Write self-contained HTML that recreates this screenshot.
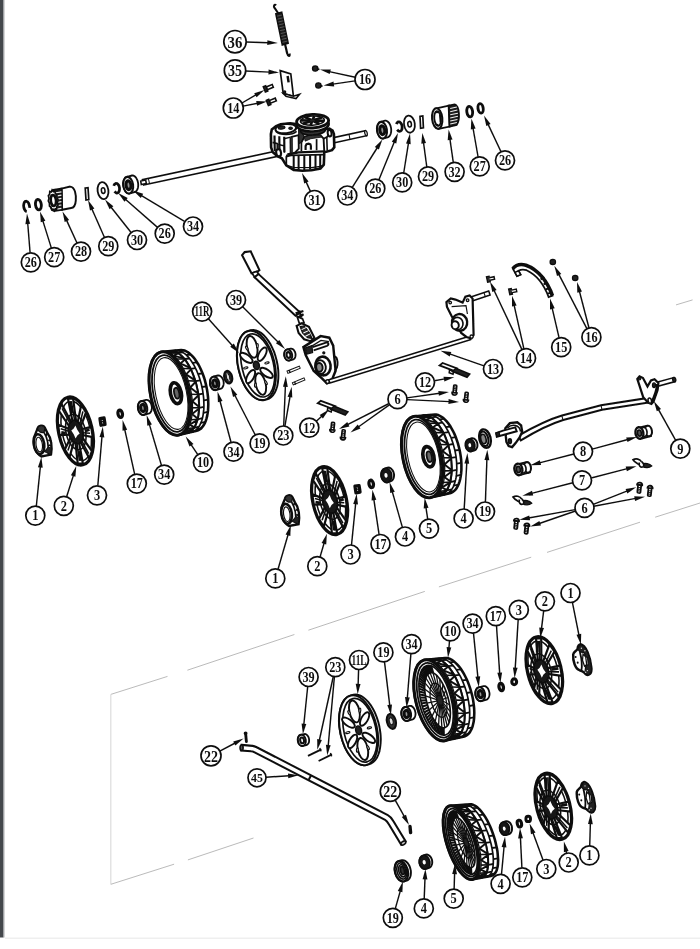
<!DOCTYPE html>
<html><head><meta charset="utf-8"><title>Exploded view - drive and wheels</title>
<style>
html,body{margin:0;padding:0;background:#fff;}
body{width:700px;height:949px;overflow:hidden;position:relative;font-family:"Liberation Serif",serif;}
svg{position:absolute;left:0;top:0;display:block;}
svg text{font-family:"Liberation Serif",serif;fill:#111;}
</style></head><body>
<svg width="700" height="949" viewBox="0 0 700 949">
<rect x="0" y="0" width="700" height="949" fill="#fff"/>
<rect x="0" y="0" width="3.6" height="937.5" fill="#44484c"/>
<rect x="3.6" y="0" width="1" height="937.5" fill="#b9bbbd"/>
<rect x="5" y="937.6" width="695" height="1.2" fill="#ececec"/>
<line x1="110.8" y1="694.4" x2="167.5" y2="676.4" stroke="#b4b4b4" stroke-width="0.92"/>
<line x1="187.4" y1="670.2" x2="294.4" y2="634.5" stroke="#b4b4b4" stroke-width="0.92"/>
<line x1="308.4" y1="630.2" x2="424.8" y2="591.4" stroke="#b4b4b4" stroke-width="0.92"/>
<line x1="438.9" y1="586.9" x2="531.2" y2="557.2" stroke="#b4b4b4" stroke-width="0.92"/>
<line x1="547" y1="552.4" x2="640" y2="522.2" stroke="#b4b4b4" stroke-width="0.92"/>
<line x1="655.2" y1="517.2" x2="700" y2="503" stroke="#b4b4b4" stroke-width="0.92"/>
<line x1="110.8" y1="694.4" x2="110.8" y2="884.3" stroke="#dedede" stroke-width="1.26"/>
<line x1="110.8" y1="884.3" x2="174.1" y2="864.2" stroke="#b4b4b4" stroke-width="0.92"/>
<line x1="187.9" y1="859.9" x2="253.5" y2="838" stroke="#b4b4b4" stroke-width="0.92"/>
<line x1="676" y1="304.9" x2="692.6" y2="299.9" stroke="#b4b4b4" stroke-width="0.92"/>
<defs><filter id="soft" x="0" y="0" width="700" height="949" filterUnits="userSpaceOnUse"><feGaussianBlur stdDeviation="0.4"/></filter></defs>
<g filter="url(#soft)">
<path d="M276.2 5.2 C274.2 3.6 273.2 6.4 274.6 8 L278.4 13.5" fill="none" stroke="#111" stroke-width="2.08"/>
<path d="M276 13.8 L281.6 12.4 L288 43.2 L282.4 44.8 Z" fill="#1c1c1c" stroke="#111" stroke-width="1.82"/>
<line x1="277" y1="16.2" x2="282" y2="15" stroke="#888" stroke-width="0.52"/>
<line x1="277.6" y1="19.1" x2="282.6" y2="17.9" stroke="#888" stroke-width="0.52"/>
<line x1="278.2" y1="22" x2="283.2" y2="20.8" stroke="#888" stroke-width="0.52"/>
<line x1="278.8" y1="24.9" x2="283.8" y2="23.7" stroke="#888" stroke-width="0.52"/>
<line x1="279.4" y1="27.8" x2="284.4" y2="26.6" stroke="#888" stroke-width="0.52"/>
<line x1="280" y1="30.7" x2="285" y2="29.5" stroke="#888" stroke-width="0.52"/>
<line x1="280.6" y1="33.6" x2="285.6" y2="32.4" stroke="#888" stroke-width="0.52"/>
<line x1="281.2" y1="36.5" x2="286.2" y2="35.3" stroke="#888" stroke-width="0.52"/>
<line x1="281.8" y1="39.4" x2="286.8" y2="38.2" stroke="#888" stroke-width="0.52"/>
<line x1="282.4" y1="42.3" x2="287.4" y2="41.1" stroke="#888" stroke-width="0.52"/>
<path d="M285 44 L287.2 53.4 C287.8 56.4 290.4 56.8 289.4 53.6" fill="none" stroke="#111" stroke-width="2.21"/>
<path d="M280.2 70.6 L290.8 74 L293.4 96.2 L283.2 93.4 Z" fill="#fff" stroke="#111" stroke-width="1.69"/>
<path d="M283.2 93.4 L293.4 96.2 L299.6 94.2 L296 98.6 L286 96.4 Z" fill="#fff" stroke="#111" stroke-width="1.56"/>
<path d="M287.6 76 L288.6 82.4" fill="none" stroke="#111" stroke-width="2.47"/>
<ellipse cx="284.6" cy="92" rx="1.1" ry="1.1" fill="#111" stroke="#111" stroke-width="1.3"/>
<g transform="translate(268.6 87.6) rotate(-22)">
<path d="M4.5 -1.5 L-2 -1.5 L-2 1.5 L4.5 1.5 Z" fill="#fff" stroke="#111" stroke-width="1.56"/>
<path d="M-2 -2.8 L-4.6 -2.8 L-4.6 2.8 L-2 2.8 Z" fill="#222" stroke="#111" stroke-width="1.56"/>
</g>
<g transform="translate(271.6 101.2) rotate(-22)">
<path d="M4.5 -1.5 L-2 -1.5 L-2 1.5 L4.5 1.5 Z" fill="#fff" stroke="#111" stroke-width="1.56"/>
<path d="M-2 -2.8 L-4.6 -2.8 L-4.6 2.8 L-2 2.8 Z" fill="#222" stroke="#111" stroke-width="1.56"/>
</g>
<ellipse cx="315.2" cy="68.6" rx="2.7" ry="2.6" fill="#222" stroke="#111" stroke-width="1.3"/>
<line x1="316.7" y1="68.8" x2="319.4" y2="69.5" stroke="#111" stroke-width="1.69"/>
<ellipse cx="318.4" cy="85.4" rx="2.7" ry="2.6" fill="#222" stroke="#111" stroke-width="1.3"/>
<line x1="319.9" y1="85.6" x2="322.6" y2="86.3" stroke="#111" stroke-width="1.69"/>
<path d="M143.6 185.1 L283.6 155.1 L282.4 149.7 L142.4 179.7 Z" fill="#fff" stroke="#111" stroke-width="1.56"/>
<path d="M141.3 184.5 L146.3 183.5 L145.7 180.1 L140.7 181.1 Z" fill="#fff" stroke="#111" stroke-width="1.56"/>
<line x1="148.5" y1="179" x2="149.5" y2="183.6" stroke="#111" stroke-width="1.04"/>
<path d="M334.6 142.7 L366.6 135.7 L365.4 130.7 L333.4 137.7 Z" fill="#fff" stroke="#111" stroke-width="1.56"/>
<line x1="349" y1="134.4" x2="350" y2="139.4" stroke="#111" stroke-width="1.04"/>
<ellipse cx="366" cy="133.2" rx="1.2" ry="2.6" fill="#fff" stroke="#111" stroke-width="1.3" transform="rotate(-12 366 133.2)"/>
<path d="M270.9 133.9 L271.8 129.4 L276.1 126.2 L280.6 124.3 L290.2 123.4 L297.3 124.3 L298.6 126.9 L302.4 132.6 L321.7 130.7 L324.9 129.2 L329.4 128.5 L332.6 130.7 L333.9 133.9 L334.3 147.4 L332 150.2 L324.3 152.3 L323.8 164.8 L320.4 168.6 L311.4 170.3 L302.4 170.8 L293.7 169.9 L286.3 165.4 L281.9 158.3 L277.4 156.2 L272.6 151.9 L271.1 147.4 Z" fill="#fff" stroke="#111" stroke-width="2.61"/>
<ellipse cx="285.8" cy="128.6" rx="10.4" ry="4.6" fill="#fff" stroke="#111" stroke-width="2.03" transform="rotate(-6 285.8 128.6)"/>
<ellipse cx="281.6" cy="127.6" rx="3.4" ry="1.5" fill="#222" stroke="#111" stroke-width="1.16" transform="rotate(-8 281.6 127.6)"/>
<ellipse cx="290.6" cy="128.2" rx="1.8" ry="1.2" fill="#222" stroke="#111" stroke-width="1.16"/>
<path d="M276 131.4 C280 135.6 292 135.4 296.6 131.4" fill="none" stroke="#111" stroke-width="1.59"/>
<line x1="274.5" y1="135.6" x2="274.8" y2="151.3" stroke="#111" stroke-width="2.17"/>
<line x1="279.3" y1="136.2" x2="279.5" y2="151.7" stroke="#111" stroke-width="2.17"/>
<line x1="284.2" y1="136.7" x2="284.4" y2="152.2" stroke="#111" stroke-width="2.17"/>
<line x1="290.6" y1="137.5" x2="290.8" y2="152.9" stroke="#111" stroke-width="2.17"/>
<path d="M272.6 142.3 L277.4 143.6 L277.4 156.2" fill="none" stroke="#111" stroke-width="1.74"/>
<path d="M290.6 137.1 L298.6 135.2 L302.4 132.6" fill="none" stroke="#111" stroke-width="1.74"/>
<path d="M298.6 135.2 L298.8 148.7 L294.7 152.8 L287.6 154.5" fill="none" stroke="#111" stroke-width="1.89"/>
<path d="M284.2 138.7 L290.6 137.1" fill="none" stroke="#111" stroke-width="1.45"/>
<path d="M279.3 144.8 L284.2 145.9 L284.4 152.8" fill="none" stroke="#111" stroke-width="1.45"/>
<path d="M298.6 127.9 L302.4 133 L304.3 137.1 L301.4 142.3 L299.1 143.6 L298.8 135.8 Z" fill="#333" stroke="#111" stroke-width="1.16"/>
<path d="M304.3 137.1 L310.8 134.8 L320.4 135.2 L323.6 138.7 L324.3 152.3" fill="none" stroke="#111" stroke-width="1.89"/>
<path d="M301.4 142.3 L304.3 137.1" fill="none" stroke="#111" stroke-width="1.74"/>
<path d="M305.6 150 L305.6 145.9 L306.5 144.2 L308.6 143.6 L310.4 144.3 L310.9 146.1 L310.9 149.7" fill="none" stroke="#111" stroke-width="2.17"/>
<path d="M316.6 139.1 L316.6 150.2" fill="none" stroke="#111" stroke-width="1.74"/>
<path d="M301.4 142.3 L301.4 151.3" fill="none" stroke="#111" stroke-width="1.74"/>
<path d="M323.6 138.7 L326.8 137.1 L332.6 130.7" fill="none" stroke="#111" stroke-width="1.74"/>
<path d="M326.8 137.1 L327.2 150.6" fill="none" stroke="#111" stroke-width="1.59"/>
<ellipse cx="329.6" cy="133.2" rx="1.9" ry="3.3" fill="#fff" stroke="#111" stroke-width="2.03" transform="rotate(-8 329.6 133.2)"/>
<path d="M287.6 154.5 L298.6 152.3 L324.3 151.3" fill="none" stroke="#111" stroke-width="2.32"/>
<path d="M286.3 156.7 L290.8 155.4 L323.8 154.6" fill="none" stroke="#111" stroke-width="1.89"/>
<path d="M287.6 154.5 L286.3 156.7 L286.3 165.4" fill="none" stroke="#111" stroke-width="1.74"/>
<line x1="293.7" y1="155.4" x2="293.7" y2="169.4" stroke="#111" stroke-width="2.03"/>
<line x1="298.6" y1="155.3" x2="298.6" y2="169.7" stroke="#111" stroke-width="2.03"/>
<line x1="304.3" y1="155.2" x2="304.3" y2="170" stroke="#111" stroke-width="2.03"/>
<line x1="310.1" y1="155.1" x2="310.1" y2="169.7" stroke="#111" stroke-width="2.03"/>
<line x1="315.5" y1="154.9" x2="315.5" y2="169.4" stroke="#111" stroke-width="2.03"/>
<line x1="320.2" y1="154.9" x2="320.2" y2="169.1" stroke="#111" stroke-width="2.03"/>
<path d="M286.3 165.4 L293.7 167.3 L311.4 167.7 L320.4 166.4 L323.8 164.8" fill="none" stroke="#111" stroke-width="1.3"/>
<path d="M277.4 143.6 L279.3 145.1 L279.5 155.4 L277.4 156.2 Z" fill="#333" stroke="#111" stroke-width="0.87"/>
<path d="M290.6 137.8 L292.4 137.4 L292.6 152.3 L290.8 153.1 Z" fill="#333" stroke="#111" stroke-width="0.72"/>
<path d="M304.3 137.1 L310.8 134.8 L320.4 135.2 L321.7 137.1 L310.8 138.7 L305.2 141.2 Z" fill="#333" stroke="#111" stroke-width="0.87"/>
<ellipse cx="278.6" cy="152.8" rx="2.4" ry="3.6" fill="#fff" stroke="#111" stroke-width="2.17" transform="rotate(-10 278.6 152.8)"/>
<ellipse cx="312.8" cy="130.2" rx="12.6" ry="4.8" fill="#333" stroke="#111" stroke-width="1.74" transform="rotate(-3 312.8 130.2)"/>
<ellipse cx="312.8" cy="124.6" rx="16" ry="6.8" fill="#fff" stroke="#111" stroke-width="2.46" transform="rotate(-3 312.8 124.6)"/>
<ellipse cx="312.6" cy="121.2" rx="16" ry="6.8" fill="#fff" stroke="#111" stroke-width="2.9" transform="rotate(-3 312.6 121.2)"/>
<ellipse cx="312.4" cy="120.6" rx="12" ry="4.6" fill="#fff" stroke="#111" stroke-width="1.45" transform="rotate(-3 312.4 120.6)"/>
<line x1="315.4" y1="120.7" x2="324.2" y2="120.8" stroke="#111" stroke-width="2.75"/>
<line x1="314.2" y1="121.5" x2="319.5" y2="124" stroke="#111" stroke-width="2.75"/>
<line x1="311.9" y1="121.8" x2="310.6" y2="125.2" stroke="#111" stroke-width="2.75"/>
<line x1="310" y1="121.4" x2="302.7" y2="123.7" stroke="#111" stroke-width="2.75"/>
<line x1="309.4" y1="120.5" x2="300.6" y2="120.4" stroke="#111" stroke-width="2.75"/>
<line x1="310.6" y1="119.7" x2="305.3" y2="117.2" stroke="#111" stroke-width="2.75"/>
<line x1="312.9" y1="119.4" x2="314.2" y2="116" stroke="#111" stroke-width="2.75"/>
<line x1="314.8" y1="119.8" x2="322.1" y2="117.5" stroke="#111" stroke-width="2.75"/>
<ellipse cx="312.4" cy="120.6" rx="3.2" ry="1.4" fill="#222" stroke="#111" stroke-width="1.16" transform="rotate(-3 312.4 120.6)"/>
<path d="M123.2 184.4 L123.2 183 L123.4 181.6 L123.7 180.4 L124.2 179.3 L124.8 178.3 L125.4 177.6 L126.2 177.1 L127 176.9 L132 175.5 L132.9 175.5 L133.8 175.8 L134.6 176.3 L135.4 177 L136.2 177.9 L136.8 179.1 L137.4 180.3 L137.8 181.7 L138.1 183.1 L138.2 184.6 L138.2 186 L138 187.4 L137.7 188.6 L137.2 189.7 L136.6 190.7 L136 191.4 L135.2 191.9 L134.4 192.1 L129.4 193.5 L128.5 193.5 L127.6 193.2 L126.8 192.7 L126 192 L125.2 191.1 L124.6 189.9 L124 188.7 L123.6 187.3 L123.3 185.9 Z" fill="#fff" stroke="#111" stroke-width="1.82"/>
<ellipse cx="128.2" cy="185.2" rx="4.9" ry="8.4" fill="#fff" stroke="#111" stroke-width="2.08" transform="rotate(-8 128.2 185.2)"/>
<ellipse cx="128.5" cy="185.2" rx="2.5" ry="4.4" fill="#999" stroke="#111" stroke-width="3.12" transform="rotate(-8 128.5 185.2)"/>
<path d="M113.9 185.8 L114.1 185.1 L114.4 184.6 L114.7 184.1 L115.2 183.8 L115.6 183.5 L116.1 183.4 L116.6 183.5 L117.1 183.6 L117.6 184 L118 184.4 L118.4 184.9 L118.8 185.5 L119.1 186.2 L119.3 187 L119.5 187.8 L119.5 188.6 L119.5 189.4 L119.4 190.2 L119.3 190.9 L119 191.5 L118.7 192 L118.3 192.4 L117.9 192.7 L117.4 192.9 L116.9 193 L116.4 192.9 L115.9 192.6 L115.5 192.3 L115 191.8 L114.6 191.3" fill="none" stroke="#111" stroke-width="2.73"/>
<ellipse cx="103" cy="190.6" rx="5.4" ry="8.6" fill="#fff" stroke="#111" stroke-width="1.82" transform="rotate(-8 103 190.6)"/>
<ellipse cx="103.2" cy="190.6" rx="1.8" ry="2.8" fill="#fff" stroke="#111" stroke-width="1.56" transform="rotate(-8 103.2 190.6)"/>
<path d="M85.2 188 L88 187.6 L88.8 199.6 L86 200 Z" fill="#fff" stroke="#111" stroke-width="1.69"/>
<g transform="translate(62.6 198.6) scale(1 1)">
<path d="M-1 -10 L7.5 -12 C12.5 -11.6 13.6 -4 13.2 2 C12.8 7 10.5 9.3 8.5 9.4 L-0.5 11.2 Z" fill="#fff" stroke="#111" stroke-width="1.95"/>
<path d="M-9.5 -8.6 L-1 -10 L-0.5 11.2 L-8.5 12.4 C-14 10 -15 -4 -9.5 -8.6 Z" fill="#1c1c1c" stroke="#111" stroke-width="1.82"/>
<line x1="-8" y1="-5.6" x2="-1.2" y2="-6.8" stroke="#eee" stroke-width="1.17"/>
<line x1="-8" y1="-2.3" x2="-1.2" y2="-3.5" stroke="#eee" stroke-width="1.17"/>
<line x1="-8" y1="1" x2="-1.2" y2="-0.2" stroke="#eee" stroke-width="1.17"/>
<line x1="-8" y1="4.3" x2="-1.2" y2="3.1" stroke="#eee" stroke-width="1.17"/>
<line x1="-8" y1="7.6" x2="-1.2" y2="6.4" stroke="#eee" stroke-width="1.17"/>
<line x1="-8" y1="10.9" x2="-1.2" y2="9.7" stroke="#eee" stroke-width="1.17"/>
<path d="M-4.5 1.3 L-5.2 3.7 L-4.6 6.6 L-5.8 7.8 L-6 10.7 L-7.4 10.2 L-8.3 12.3 L-9.6 10.5 L-10.9 11.2 L-11.6 8.4 L-13.1 7.5 L-13.1 4.5 L-14.3 2.3 L-13.6 -0.1 L-14.2 -3 L-13 -4.2 L-12.8 -7.1 L-11.4 -6.6 L-10.5 -8.7 L-9.2 -6.9 L-7.9 -7.6 L-7.2 -4.8 L-5.7 -3.9 L-5.7 -0.9 Z" fill="#fff" stroke="#111" stroke-width="1.69"/>
<ellipse cx="-9.2" cy="1.9" rx="2.6" ry="5.4" fill="#fff" stroke="#111" stroke-width="2.6" transform="rotate(-6 -9.2 1.9)"/>
</g>
<ellipse cx="38.4" cy="204.6" rx="2.9" ry="5.3" fill="#fff" stroke="#111" stroke-width="2.86" transform="rotate(-8 38.4 204.6)"/>
<path d="M26.8 211.5 L26.3 211.4 L25.9 211.1 L25.4 210.7 L25 210.2 L24.6 209.6 L24.3 208.9 L24 208.1 L23.8 207.3 L23.7 206.4 L23.6 205.6 L23.7 204.8 L23.8 204 L24 203.3 L24.2 202.7 L24.5 202.1 L24.9 201.7 L25.3 201.4 L25.8 201.3 L26.2 201.2 L26.7 201.4 L27.2 201.6 L27.7 202 L28.1 202.5 L28.5 203 L28.8 203.7 L29.1 204.5 L29.3 205.3 L29.5 206.1 L29.6 207 L29.5 207.8" fill="none" stroke="#111" stroke-width="2.73"/>
<path d="M377 129.4 L377 128 L377.2 126.6 L377.5 125.4 L378 124.3 L378.6 123.3 L379.2 122.6 L380 122.1 L380.8 121.9 L385 120.7 L385.9 120.7 L386.8 121 L387.6 121.5 L388.4 122.2 L389.2 123.1 L389.8 124.2 L390.4 125.5 L390.8 126.9 L391.1 128.3 L391.2 129.8 L391.2 131.2 L391 132.6 L390.7 133.8 L390.2 134.9 L389.6 135.9 L389 136.6 L388.2 137.1 L387.4 137.3 L383.2 138.5 L382.3 138.5 L381.4 138.2 L380.6 137.7 L379.8 137 L379 136.1 L378.4 134.9 L377.8 133.7 L377.4 132.3 L377.1 130.9 Z" fill="#fff" stroke="#111" stroke-width="1.82"/>
<ellipse cx="382" cy="130.2" rx="4.9" ry="8.4" fill="#fff" stroke="#111" stroke-width="2.08" transform="rotate(-8 382 130.2)"/>
<ellipse cx="382.3" cy="130.2" rx="2.5" ry="4.4" fill="#999" stroke="#111" stroke-width="3.12" transform="rotate(-8 382.3 130.2)"/>
<path d="M396.5 124.2 L396.7 123.5 L397 123 L397.3 122.5 L397.8 122.2 L398.2 121.9 L398.7 121.8 L399.2 121.9 L399.7 122 L400.2 122.4 L400.6 122.8 L401 123.3 L401.4 123.9 L401.7 124.6 L401.9 125.4 L402.1 126.2 L402.1 127 L402.1 127.8 L402 128.6 L401.9 129.3 L401.6 129.9 L401.3 130.4 L400.9 130.8 L400.5 131.1 L400 131.3 L399.5 131.4 L399 131.3 L398.5 131 L398.1 130.7 L397.6 130.2 L397.2 129.7" fill="none" stroke="#111" stroke-width="2.73"/>
<ellipse cx="409.4" cy="124.2" rx="5.4" ry="8.6" fill="#fff" stroke="#111" stroke-width="1.82" transform="rotate(-8 409.4 124.2)"/>
<ellipse cx="409.6" cy="124.2" rx="1.8" ry="2.8" fill="#fff" stroke="#111" stroke-width="1.56" transform="rotate(-8 409.6 124.2)"/>
<path d="M420 116.4 L422.8 116 L423.4 127.8 L420.6 128.2 Z" fill="#fff" stroke="#111" stroke-width="1.69"/>
<path d="M436.4 108.4 L449 105.6 L449.6 126.6 L438.4 128.8 Z" fill="#fff" stroke="#111" stroke-width="1.82"/>
<path d="M448.6 105.6 L454.6 104.4 C459.6 106 460.4 120 456.6 125 L449.6 126.6 Z" fill="#1c1c1c" stroke="#111" stroke-width="1.82"/>
<line x1="450.2" y1="108.6" x2="456.9" y2="107" stroke="#eee" stroke-width="1.04"/>
<line x1="450.2" y1="111.7" x2="457.4" y2="110.1" stroke="#eee" stroke-width="1.04"/>
<line x1="450.2" y1="114.8" x2="457.9" y2="113.2" stroke="#eee" stroke-width="1.04"/>
<line x1="450.2" y1="117.9" x2="457.9" y2="116.3" stroke="#eee" stroke-width="1.04"/>
<line x1="450.2" y1="121" x2="457.4" y2="119.4" stroke="#eee" stroke-width="1.04"/>
<line x1="450.2" y1="124.1" x2="456.9" y2="122.5" stroke="#eee" stroke-width="1.04"/>
<ellipse cx="437.2" cy="118.5" rx="5.1" ry="10.3" fill="#fff" stroke="#111" stroke-width="2.08" transform="rotate(-6 437.2 118.5)"/>
<ellipse cx="437.6" cy="118.6" rx="3.3" ry="7.4" fill="#fff" stroke="#111" stroke-width="1.82" transform="rotate(-6 437.6 118.6)"/>
<path d="M436 112.4 L438.6 112.2 M435.4 124.6 L438.4 124.8 M439.8 115 L440.4 122" fill="none" stroke="#111" stroke-width="1.56"/>
<ellipse cx="469.7" cy="111.6" rx="2.9" ry="5.3" fill="#fff" stroke="#111" stroke-width="2.86" transform="rotate(-8 469.7 111.6)"/>
<ellipse cx="480.6" cy="108.4" rx="2.6" ry="4.8" fill="#fff" stroke="#111" stroke-width="2.86" transform="rotate(-8 480.6 108.4)"/>
<g transform="translate(42.4 441) scale(1 1)">
<path d="M-5 -12 C-4 -16 1 -16.4 2.6 -13 L5 -8 C9 -3 10 6 8.6 13.6 L-1 15.4 C-7 12 -9.6 4 -8.6 -3 Z" fill="#fff" stroke="#111" stroke-width="2.34"/>
<path d="M-5 -12 C-4 -16 1 -16.4 2.6 -13 L1.6 -8.6 C-1 -8 -3.4 -9 -5 -12 Z" fill="#333" stroke="#111" stroke-width="1.3"/>
<ellipse cx="-3.4" cy="3.2" rx="5.2" ry="10" fill="#fff" stroke="#111" stroke-width="2.6" transform="rotate(-8 -3.4 3.2)"/>
<ellipse cx="-3.2" cy="3.6" rx="3.2" ry="7.4" fill="none" stroke="#111" stroke-width="1.17" transform="rotate(-8 -3.2 3.6)"/>
<path d="M1.6 -8.6 C5 -3 6.4 5 5.4 12 M5 -8 L3.4 -5 M8.6 13.6 L5.4 12 M6 -1 L9 0 M6.4 4 L9.4 5.2 M6 8 L9.2 9.6" fill="none" stroke="#111" stroke-width="1.69"/>
<path d="M2 10.6 L8.4 13.6 L9 7 L6 6 Z" fill="#222" stroke="#111" stroke-width="1.04"/>
</g>
<ellipse cx="75.4" cy="431" rx="16.8" ry="34.6" fill="#fff" stroke="#111" stroke-width="3.25" transform="rotate(-12.5 75.4 431)"/>
<ellipse cx="76.2" cy="431" rx="14.1" ry="30.4" fill="none" stroke="#111" stroke-width="1.56" transform="rotate(-12.5 76.2 431)"/>
<g stroke="#111" fill="none" stroke-linejoin="round">
<path d="M81.3 429.3 L91.2 426.9 L92.7 437.2 L82.1 435 Z" fill="#fff" stroke="#111" stroke-width="2.21"/>
<line x1="82.7" y1="432.8" x2="90.1" y2="433.2" stroke="#111" stroke-width="1.56"/>
<line x1="85.8" y1="430.8" x2="89.5" y2="429.5" stroke="#111" stroke-width="2.86"/>
<path d="M81.9 437 L91.9 451.2 L89.3 458.3 L80 441 Z" fill="#fff" stroke="#111" stroke-width="2.21"/>
<line x1="81.6" y1="440.7" x2="88.7" y2="453.6" stroke="#111" stroke-width="1.56"/>
<path d="M78.9 441.8 L82.9 463.7 L77.7 463.4 L75.4 441.8 Z" fill="#fff" stroke="#111" stroke-width="2.21"/>
<line x1="77" y1="443.6" x2="79.5" y2="460.8" stroke="#111" stroke-width="1.56"/>
<line x1="79.5" y1="451" x2="81.3" y2="460.8" stroke="#111" stroke-width="2.86"/>
<path d="M74.1 440.9 L69.6 457 L64.8 449.5 L71.1 436.8 Z" fill="#fff" stroke="#111" stroke-width="2.21"/>
<line x1="71.8" y1="439.6" x2="67.9" y2="450.6" stroke="#111" stroke-width="1.56"/>
<path d="M70.3 434.7 L59.6 435.1 L58.1 424.8 L69.5 429 Z" fill="#fff" stroke="#111" stroke-width="2.21"/>
<line x1="68.9" y1="431.2" x2="60.7" y2="428.8" stroke="#111" stroke-width="1.56"/>
<line x1="65.8" y1="433.2" x2="61.3" y2="432.5" stroke="#111" stroke-width="2.86"/>
<path d="M69.7 427 L58.9 410.8 L61.5 403.7 L71.6 423 Z" fill="#fff" stroke="#111" stroke-width="2.21"/>
<line x1="70" y1="423.3" x2="62.1" y2="408.4" stroke="#111" stroke-width="1.56"/>
<path d="M72.7 422.2 L67.9 398.3 L73.1 398.6 L76.2 422.2 Z" fill="#fff" stroke="#111" stroke-width="2.21"/>
<line x1="74.6" y1="420.4" x2="71.3" y2="401.2" stroke="#111" stroke-width="1.56"/>
<line x1="72.1" y1="413" x2="69.5" y2="401.2" stroke="#111" stroke-width="2.86"/>
<path d="M77.5 423.1 L81.2 405 L86 412.5 L80.5 427.2 Z" fill="#fff" stroke="#111" stroke-width="2.21"/>
<line x1="79.8" y1="424.4" x2="82.9" y2="411.4" stroke="#111" stroke-width="1.56"/>
</g>
<ellipse cx="75.8" cy="432" rx="9.7" ry="18" fill="none" stroke="#111" stroke-width="1.56" transform="rotate(-12.5 75.8 432)"/>
<ellipse cx="75.8" cy="432" rx="7.1" ry="11.8" fill="#151515" stroke="#111" stroke-width="2.08" transform="rotate(-12.5 75.8 432)"/>
<path d="M79.7 433.5 L77.3 435.5 L75.6 438.6 L73.7 434.2 L71.3 430.5 L73.7 428.5 L75.4 425.4 L77.3 429.8 Z" fill="#fff" stroke="none" stroke-width="0.0"/>
<path d="M100 418.6 L104 418 L105 424.4 L101 425.2 Z" fill="#fff" stroke="#111" stroke-width="3.38" stroke-linejoin="round"/>
<line x1="101" y1="421.8" x2="104" y2="421.4" stroke="#111" stroke-width="1.17"/>
<ellipse cx="120.2" cy="413.8" rx="2.2" ry="3.7" fill="#fff" stroke="#111" stroke-width="3.25" transform="rotate(-12 120.2 413.8)"/>
<path d="M137.9 406.4 L138.1 405.2 L138.3 404.2 L138.8 403.2 L139.3 402.4 L139.9 401.8 L140.6 401.4 L141.4 401.1 L146 399.9 L146.8 399.9 L147.6 400.1 L148.4 400.4 L149.2 401 L149.9 401.8 L150.5 402.7 L151 403.7 L151.4 404.8 L151.7 406 L151.9 407.2 L151.9 408.4 L151.7 409.6 L151.4 410.6 L151 411.6 L150.5 412.4 L149.9 413 L149.2 413.4 L148.4 413.7 L143.8 414.9 L143 414.9 L142.2 414.8 L141.4 414.4 L140.6 413.8 L139.9 413 L139.3 412.1 L138.8 411.1 L138.3 410 L138.1 408.8 L137.9 407.6 Z" fill="#fff" stroke="#111" stroke-width="1.82"/>
<ellipse cx="142.6" cy="408" rx="4.6" ry="7" fill="#fff" stroke="#111" stroke-width="2.08" transform="rotate(-10 142.6 408)"/>
<ellipse cx="142.9" cy="408" rx="2.3" ry="3.6" fill="#999" stroke="#111" stroke-width="3.12" transform="rotate(-10 142.9 408)"/>
<path d="M149.1 379.6 L149.1 376.2 L149.4 373 L149.8 369.9 L150.3 367 L151 364.3 L151.8 361.8 L152.8 359.6 L153.9 357.6 L155.2 355.9 L156.5 354.5 L157.9 353.4 L159.5 352.5 L161.1 352 L162.8 351.8 L181.2 350.1 L182.9 350.2 L184.6 350.6 L186.3 351.4 L188.1 352.4 L189.8 353.7 L191.6 355.3 L193.3 357.2 L195 359.3 L196.6 361.7 L198.2 364.2 L199.7 367 L201.1 370 L202.4 373.1 L203.6 376.3 L204.7 379.7 L205.6 383.1 L206.4 386.6 L207.1 390.1 L207.6 393.6 L208 397.1 L208.2 400.6 L208.3 404 L208.2 407.2 L208 410.4 L207.6 413.4 L207.1 416.2 L206.4 418.8 L205.6 421.2 L204.7 423.4 L203.6 425.3 L202.4 427 L201.1 428.4 L199.7 429.4 L198.2 430.2 L196.7 430.7 L178.7 435 L177 435.2 L175.3 435 L173.5 434.6 L171.7 433.8 L169.9 432.8 L168.1 431.4 L166.3 429.8 L164.5 427.9 L162.8 425.7 L161.1 423.2 L159.5 420.6 L158 417.7 L156.5 414.7 L155.2 411.5 L153.9 408.1 L152.8 404.6 L151.9 401.1 L151 397.5 L150.3 393.9 L149.8 390.2 L149.4 386.6 L149.2 383.1 Z" fill="#fff" stroke="#111" stroke-width="2.6"/>
<g stroke="#111" fill="none" stroke-linejoin="round">
<path d="M156.5 356.4 L157.5 355.1 L158.6 354 L159.8 353.2 L161 352.5 L162.3 352 L163.6 351.7 L164.9 351.7 L166.3 351.8 L167.7 352.1 L169.2 352.6 L170.6 353.4 L172.1 354.3 L173.5 355.4 L175 356.7 L176.4 358.2 L177.8 359.8 L179.2 361.6 L180.5 363.6 L181.8 365.7 L183 367.9 L184.2 370.3 L185.3 372.7 L186.4 375.3 L187.4 378 L188.3 380.7 L189.1 383.5 L189.9 386.3 L190.5 389.2 L191.1 392.1 L191.6 395 L192 397.9 L192.2 400.8 L192.4 403.6 L192.5 406.4 L192.5 409.1 L192.3 411.7 L192.1 414.3 L191.8 416.7 L191.4 419 L190.8 421.3 L190.2 423.3 L189.5 425.2 L188.7 427 L187.9 428.6 L186.9 430 L185.9 431.3 L184.8 432.4 L183.6 433.2 L182.4 433.9 L181.2 434.4 L179.8 434.7 L178.5 434.7 L177.1 434.6 L175.7 434.3 L174.3 433.8 L172.8 433" fill="none" stroke="#111" stroke-width="1.3"/>
<path d="M163.6 355.6 L164.6 354.4 L165.7 353.4 L166.8 352.5 L168.1 351.8 L169.3 351.3 L170.6 351.1 L171.9 351 L173.3 351.1 L174.7 351.4 L176.1 352 L177.6 352.7 L179 353.6 L180.4 354.7 L181.8 356 L183.2 357.4 L184.6 359 L186 360.8 L187.3 362.8 L188.6 364.8 L189.8 367 L191 369.4 L192.1 371.8 L193.1 374.4 L194.1 377 L195 379.7 L195.9 382.5 L196.6 385.3 L197.2 388.1 L197.8 391 L198.3 393.8 L198.6 396.7 L198.9 399.5 L199.1 402.3 L199.2 405.1 L199.1 407.8 L199 410.4 L198.8 412.9 L198.5 415.3 L198.1 417.6 L197.5 419.8 L196.9 421.8 L196.2 423.7 L195.5 425.5 L194.6 427.1 L193.7 428.5 L192.6 429.7 L191.6 430.8 L190.4 431.6 L189.2 432.3 L188 432.8 L186.7 433 L185.3 433.1 L184 433 L182.6 432.7 L181.1 432.2 L179.7 431.4" fill="none" stroke="#111" stroke-width="1.82"/>
<path d="M168.6 355.1 L169.7 353.9 L170.7 352.9 L171.9 352 L173.1 351.3 L174.3 350.9 L175.6 350.6 L176.9 350.5 L178.3 350.6 L179.7 351 L181.1 351.5 L182.5 352.2 L183.9 353.1 L185.3 354.2 L186.7 355.4 L188.1 356.9 L189.5 358.5 L190.8 360.3 L192.1 362.2 L193.4 364.2 L194.6 366.4 L195.8 368.8 L196.9 371.2 L197.9 373.7 L198.9 376.3 L199.8 379 L200.6 381.7 L201.4 384.5 L202 387.3 L202.6 390.2 L203 393 L203.4 395.8 L203.7 398.7 L203.8 401.4 L203.9 404.2 L203.9 406.8 L203.8 409.4 L203.5 411.9 L203.2 414.3 L202.8 416.6 L202.3 418.8 L201.7 420.8 L201 422.7 L200.2 424.4 L199.4 426 L198.5 427.4 L197.4 428.6 L196.4 429.6 L195.2 430.5 L194 431.2 L192.8 431.6 L191.5 431.9 L190.2 432 L188.8 431.9 L187.4 431.5 L186 431 L184.6 430.3" fill="none" stroke="#111" stroke-width="1.69"/>
<line x1="165.4" y1="353.6" x2="170.5" y2="353.1" stroke="#111" stroke-width="1.82"/>
<line x1="173.2" y1="351.3" x2="177.8" y2="350.8" stroke="#111" stroke-width="1.82"/>
<path d="M165.7 353.4 L160.6 352.7 L170.9 351 Z" fill="#fff" stroke="#111" stroke-width="1.95"/>
<line x1="163.6" y1="351.7" x2="171.3" y2="351" stroke="#111" stroke-width="1.56"/>
<line x1="171.3" y1="351" x2="176.2" y2="350.5" stroke="#111" stroke-width="1.82"/>
<line x1="179.5" y1="350.9" x2="184.1" y2="350.5" stroke="#111" stroke-width="1.82"/>
<path d="M171.6 351 L166.9 351.9 L177.6 352.7 Z" fill="#fff" stroke="#111" stroke-width="1.95"/>
<line x1="170.3" y1="353.2" x2="177.9" y2="352.9" stroke="#111" stroke-width="1.56"/>
<line x1="177.9" y1="352.9" x2="182.8" y2="352.4" stroke="#111" stroke-width="1.82"/>
<line x1="186.2" y1="355" x2="190.7" y2="354.5" stroke="#111" stroke-width="1.82"/>
<path d="M178.3 353.1 L173.7 355.6 L184.3 358.6 Z" fill="#fff" stroke="#111" stroke-width="1.95"/>
<line x1="177.1" y1="359" x2="184.6" y2="359" stroke="#111" stroke-width="1.56"/>
<line x1="184.6" y1="359" x2="189.5" y2="358.5" stroke="#111" stroke-width="1.82"/>
<line x1="192.6" y1="362.9" x2="197.1" y2="362.4" stroke="#111" stroke-width="1.82"/>
<path d="M185 359.5 L180.4 363.4 L190.4 368.2 Z" fill="#fff" stroke="#111" stroke-width="1.95"/>
<line x1="183.4" y1="368.5" x2="190.7" y2="368.8" stroke="#111" stroke-width="1.56"/>
<line x1="190.7" y1="368.8" x2="195.5" y2="368.2" stroke="#111" stroke-width="1.82"/>
<line x1="198.1" y1="374" x2="202.5" y2="373.4" stroke="#111" stroke-width="1.82"/>
<path d="M191 369.4 L186 374.4 L195.2 380.4 Z" fill="#fff" stroke="#111" stroke-width="1.95"/>
<line x1="188.3" y1="380.8" x2="195.5" y2="381.1" stroke="#111" stroke-width="1.56"/>
<line x1="195.5" y1="381.1" x2="200.2" y2="380.3" stroke="#111" stroke-width="1.82"/>
<line x1="201.9" y1="387" x2="206.3" y2="386.3" stroke="#111" stroke-width="1.82"/>
<path d="M195.7 381.8 L190.2 387.5 L198.3 393.8 Z" fill="#fff" stroke="#111" stroke-width="1.95"/>
<line x1="191.5" y1="394.3" x2="198.4" y2="394.5" stroke="#111" stroke-width="1.56"/>
<line x1="198.4" y1="394.5" x2="203.1" y2="393.7" stroke="#111" stroke-width="1.82"/>
<line x1="203.8" y1="400.4" x2="208.2" y2="399.6" stroke="#111" stroke-width="1.82"/>
<path d="M198.5 395.3 L192.3 401.2 L199.2 407.1 Z" fill="#fff" stroke="#111" stroke-width="1.95"/>
<line x1="192.5" y1="407.8" x2="199.1" y2="407.8" stroke="#111" stroke-width="1.56"/>
<line x1="199.1" y1="407.8" x2="203.9" y2="406.8" stroke="#111" stroke-width="1.82"/>
<line x1="203.4" y1="412.8" x2="207.8" y2="411.9" stroke="#111" stroke-width="1.82"/>
<path d="M199.1 408.4 L192.1 414 L197.8 418.7 Z" fill="#fff" stroke="#111" stroke-width="1.95"/>
<line x1="191.2" y1="419.7" x2="197.7" y2="419.3" stroke="#111" stroke-width="1.56"/>
<line x1="197.7" y1="419.3" x2="202.4" y2="418.2" stroke="#111" stroke-width="1.82"/>
<line x1="200.9" y1="422.9" x2="205.3" y2="421.9" stroke="#111" stroke-width="1.82"/>
<path d="M197.5 419.8 L189.8 424.6 L194.4 427.4 Z" fill="#fff" stroke="#111" stroke-width="1.95"/>
<line x1="187.8" y1="428.6" x2="194.1" y2="427.8" stroke="#111" stroke-width="1.56"/>
<line x1="194.1" y1="427.8" x2="198.9" y2="426.7" stroke="#111" stroke-width="1.82"/>
<line x1="196.5" y1="429.5" x2="201" y2="428.5" stroke="#111" stroke-width="1.82"/>
<path d="M193.9 428.1 L185.5 431.7 L189.2 432.3 Z" fill="#fff" stroke="#111" stroke-width="1.95"/>
<line x1="182.7" y1="433.8" x2="188.9" y2="432.4" stroke="#111" stroke-width="1.56"/>
<line x1="188.9" y1="432.4" x2="193.7" y2="431.3" stroke="#111" stroke-width="1.82"/>
<line x1="190.7" y1="432" x2="195.2" y2="430.9" stroke="#111" stroke-width="1.82"/>
<path d="M188.6 432.6 L179.6 434.7 L182.9 432.8 Z" fill="#fff" stroke="#111" stroke-width="1.95"/>
<line x1="176.4" y1="434.5" x2="182.6" y2="432.7" stroke="#111" stroke-width="1.56"/>
<line x1="182.6" y1="432.7" x2="187.4" y2="431.5" stroke="#111" stroke-width="1.82"/>
<line x1="184.1" y1="430" x2="188.6" y2="428.9" stroke="#111" stroke-width="1.82"/>
<path d="M182.2 432.6 L173 433.1 L176.1 428.8 Z" fill="#fff" stroke="#111" stroke-width="1.95"/>
<line x1="169.5" y1="430.7" x2="175.8" y2="428.5" stroke="#111" stroke-width="1.56"/>
</g>
<ellipse cx="169.9" cy="393.5" rx="19.3" ry="42.4" fill="#fff" stroke="#111" stroke-width="3.12" transform="rotate(-12 169.9 393.5)"/>
<ellipse cx="170.5" cy="393.5" rx="17" ry="39" fill="none" stroke="#111" stroke-width="1.82" transform="rotate(-12 170.5 393.5)"/>
<ellipse cx="171.1" cy="393.5" rx="15.4" ry="36.5" fill="none" stroke="#111" stroke-width="1.04" transform="rotate(-12 171.1 393.5)"/>
<ellipse cx="175.9" cy="393.2" rx="5.4" ry="10.6" fill="#fff" stroke="#111" stroke-width="3.64" transform="rotate(-12 175.9 393.2)"/>
<ellipse cx="176.7" cy="393.2" rx="2.5" ry="5.5" fill="#666" stroke="#111" stroke-width="1.82" transform="rotate(-12 176.7 393.2)"/>
<path d="M209.9 383 L209.9 381.9 L210.1 380.7 L210.4 379.7 L210.8 378.8 L211.3 378 L211.9 377.4 L212.7 376.9 L213.4 376.7 L217.8 375.5 L218.6 375.5 L219.4 375.6 L220.2 376 L221 376.6 L221.7 377.3 L222.3 378.2 L222.8 379.2 L223.3 380.2 L223.5 381.4 L223.7 382.6 L223.7 383.7 L223.5 384.9 L223.2 385.9 L222.8 386.8 L222.3 387.6 L221.7 388.2 L220.9 388.7 L220.2 388.9 L215.8 390.1 L215 390.1 L214.2 390 L213.4 389.6 L212.6 389 L211.9 388.3 L211.3 387.4 L210.8 386.4 L210.3 385.4 L210.1 384.2 Z" fill="#fff" stroke="#111" stroke-width="1.82"/>
<ellipse cx="214.6" cy="383.4" rx="4.6" ry="6.8" fill="#fff" stroke="#111" stroke-width="2.08" transform="rotate(-10 214.6 383.4)"/>
<ellipse cx="214.9" cy="383.4" rx="2.3" ry="3.5" fill="#999" stroke="#111" stroke-width="3.12" transform="rotate(-10 214.9 383.4)"/>
<ellipse cx="228.2" cy="377.2" rx="3.9" ry="6.4" fill="#2a2a2a" stroke="#111" stroke-width="2.08" transform="rotate(-14 228.2 377.2)"/>
<ellipse cx="228" cy="377" rx="1.6" ry="3" fill="#ddd" stroke="#111" stroke-width="1.04" transform="rotate(-14 228 377)"/>
<line x1="226.8" y1="373.4" x2="229.4" y2="381" stroke="#ddd" stroke-width="1.04"/>
<path d="M237 356 L237.1 351.7 L237.5 347.6 L238.2 343.9 L239.3 340.5 L240.6 337.6 L242.3 335.1 L244.1 333.1 L246.2 331.7 L248.4 330.9 L251 330.3 L253.4 330.1 L255.9 330.4 L258.4 331.4 L261 332.9 L263.5 334.9 L265.9 337.5 L268.2 340.6 L270.4 344 L272.3 347.8 L274.1 351.9 L275.5 356.2 L276.7 360.7 L277.6 365.2 L278.2 369.8 L278.4 374.2 L278.3 378.5 L277.9 382.6 L277.2 386.3 L276.1 389.7 L274.8 392.6 L273.1 395.1 L271.3 397.1 L269.2 398.5 L267 399.3 L264.4 399.9 L262 400.1 L259.5 399.8 L257 398.8 L254.4 397.3 L251.9 395.3 L249.5 392.7 L247.2 389.6 L245 386.2 L243.1 382.4 L241.3 378.3 L239.9 374 L238.7 369.5 L237.8 365 L237.2 360.4 Z" fill="#fff" stroke="#111" stroke-width="1.95"/>
<ellipse cx="256.4" cy="365.4" rx="18.2" ry="35.4" fill="#fff" stroke="#111" stroke-width="2.08" transform="rotate(-13 256.4 365.4)"/>
<ellipse cx="257.7" cy="365.4" rx="15.8" ry="32.2" fill="none" stroke="#111" stroke-width="1.69" transform="rotate(-13 257.7 365.4)"/>
<ellipse cx="266.5" cy="372.9" rx="7.4" ry="3.3" fill="#fff" stroke="#111" stroke-width="1.95" transform="rotate(35.3 266.5 372.9)"/>
<ellipse cx="260.7" cy="384" rx="11.1" ry="5" fill="#fff" stroke="#111" stroke-width="1.95" transform="rotate(77 260.7 384)"/>
<ellipse cx="250.6" cy="376.6" rx="7.4" ry="3.3" fill="#fff" stroke="#111" stroke-width="1.95" transform="rotate(118.7 250.6 376.6)"/>
<ellipse cx="246.3" cy="357.9" rx="7.4" ry="3.3" fill="#fff" stroke="#111" stroke-width="1.95" transform="rotate(-144.7 246.3 357.9)"/>
<ellipse cx="252.1" cy="346.8" rx="11.1" ry="5" fill="#fff" stroke="#111" stroke-width="1.95" transform="rotate(-103 252.1 346.8)"/>
<ellipse cx="262.2" cy="354.2" rx="7.4" ry="3.3" fill="#fff" stroke="#111" stroke-width="1.95" transform="rotate(-61.3 262.2 354.2)"/>
<ellipse cx="267" cy="362.9" rx="2.2" ry="0.9" fill="#fff" stroke="#111" stroke-width="1.17" transform="rotate(-13 267 362.9)"/>
<ellipse cx="266" cy="382.7" rx="2.2" ry="0.9" fill="#fff" stroke="#111" stroke-width="1.17" transform="rotate(60.5 266 382.7)"/>
<ellipse cx="255.4" cy="385.1" rx="2.2" ry="0.9" fill="#fff" stroke="#111" stroke-width="1.17" transform="rotate(93.5 255.4 385.1)"/>
<ellipse cx="245.8" cy="367.9" rx="2.2" ry="0.9" fill="#fff" stroke="#111" stroke-width="1.17" transform="rotate(167 245.8 367.9)"/>
<ellipse cx="246.8" cy="348.1" rx="2.2" ry="0.9" fill="#fff" stroke="#111" stroke-width="1.17" transform="rotate(-119.5 246.8 348.1)"/>
<ellipse cx="257.4" cy="345.7" rx="2.2" ry="0.9" fill="#fff" stroke="#111" stroke-width="1.17" transform="rotate(-86.5 257.4 345.7)"/>
<ellipse cx="256.4" cy="365.4" rx="2.9" ry="4.2" fill="#222" stroke="#111" stroke-width="1.56" transform="rotate(-13 256.4 365.4)"/>
<path d="M284.2 354.7 L284.3 353.8 L284.4 352.8 L284.6 352 L285 351.2 L285.4 350.6 L286 350.1 L286.6 349.7 L287.2 349.5 L290.6 348.7 L291.3 348.6 L292 348.8 L292.7 349.1 L293.3 349.5 L293.9 350.1 L294.4 350.9 L294.9 351.7 L295.2 352.6 L295.4 353.5 L295.6 354.5 L295.5 355.4 L295.4 356.4 L295.2 357.2 L294.8 358 L294.4 358.6 L293.8 359.1 L293.2 359.5 L292.6 359.7 L289.2 360.5 L288.5 360.6 L287.8 360.4 L287.1 360.1 L286.5 359.7 L285.9 359.1 L285.4 358.3 L284.9 357.5 L284.6 356.6 L284.4 355.7 Z" fill="#fff" stroke="#111" stroke-width="1.82"/>
<ellipse cx="288.2" cy="355" rx="3.9" ry="5.6" fill="#fff" stroke="#111" stroke-width="2.08" transform="rotate(-10 288.2 355)"/>
<ellipse cx="288.5" cy="355" rx="1.9" ry="2.9" fill="#fff" stroke="#111" stroke-width="2.08" transform="rotate(-10 288.5 355)"/>
<line x1="287" y1="372.4" x2="300.2" y2="367" stroke="#111" stroke-width="3.38"/>
<line x1="287.8" y1="372.1" x2="299.4" y2="367.3" stroke="#fff" stroke-width="1.3"/>
<line x1="289.2" y1="370.2" x2="290.2" y2="373" stroke="#111" stroke-width="1.3"/>
<line x1="292.4" y1="384" x2="304.9" y2="378.8" stroke="#111" stroke-width="3.38"/>
<line x1="293.2" y1="383.7" x2="304.1" y2="379.1" stroke="#fff" stroke-width="1.3"/>
<line x1="294.6" y1="381.8" x2="295.6" y2="384.6" stroke="#111" stroke-width="1.3"/>
<path d="M242.1 255.2 L244.7 252.1 L250.7 251.3 L259.4 270.1 L257 272 L251.5 273.3 Z" fill="#fff" stroke="#111" stroke-width="2.08"/>
<path d="M252 273 L256.7 271.4 L258.6 274.1 L254.6 277.2 Z" fill="#fff" stroke="#111" stroke-width="1.82"/>
<path d="M258.6 274.1 L300.2 312.6 L295.5 315.7 L254.6 277.2 Z" fill="#fff" stroke="#111" stroke-width="1.95"/>
<path d="M295.6 313.4 L303.4 311 M297 318 L303.6 314.2 M299 310.6 L301.6 317.6" fill="none" stroke="#111" stroke-width="2.21"/>
<path d="M297.1 316.5 L302.6 318.9 L304.1 322.8 L299.4 323.6 Z" fill="#fff" stroke="#111" stroke-width="1.69"/>
<path d="M296.6 325.9 L301.8 323.3 L308.9 326.7 L314.4 337.7 L310.4 341.2 L304.1 339.3 L298.6 333 Z" fill="#fff" stroke="#111" stroke-width="2.08"/>
<path d="M300.2 326.7 L304.1 325.9 L309.6 333 L312 338.5 L307.6 337.7 L302.6 333 Z" fill="#2a2a2a" stroke="#111" stroke-width="1.3"/>
<path d="M301.6 329.6 L306.4 327.4 M303.4 333 L308.6 330.6 M305.4 336.2 L310.6 333.6" fill="none" stroke="#fff" stroke-width="1.04"/>
<path d="M303.4 347.1 L320.6 336.1 L329.3 337.7 L333.2 345.6 L335.6 370.7 L332.4 378.6 L326.9 383.3 L322.2 378.6 L313.6 370.7 L305.7 355 Z" fill="#fff" stroke="#111" stroke-width="2.47"/>
<path d="M304.6 350.6 L321 340.4 L329 341.6 M305.4 354 L309.6 351.6" fill="none" stroke="#111" stroke-width="1.3"/>
<path d="M312.6 347.2 L326 342.6 C328.6 342 329.4 344.8 327 345.8 L313.6 350.4" fill="none" stroke="#111" stroke-width="1.82"/>
<path d="M305.4 347.9 L312 345.6 L312.6 352.6 L306.5 354.2 Z" fill="#222" stroke="#111" stroke-width="1.17"/>
<ellipse cx="323.8" cy="352.8" rx="1" ry="1" fill="#111" stroke="#111" stroke-width="1.3"/>
<ellipse cx="323" cy="366" rx="7.6" ry="9.4" fill="#fff" stroke="#111" stroke-width="2.6" transform="rotate(-8 323 366)"/>
<ellipse cx="320.6" cy="367" rx="5.2" ry="6.8" fill="#fff" stroke="#111" stroke-width="1.95" transform="rotate(-8 320.6 367)"/>
<ellipse cx="319.4" cy="367.4" rx="3.2" ry="4.4" fill="#888" stroke="#111" stroke-width="1.95" transform="rotate(-8 319.4 367.4)"/>
<path d="M333.6 356.2 C338.6 356.4 338.8 367.6 334.6 370.6" fill="none" stroke="#111" stroke-width="1.95"/>
<ellipse cx="327.6" cy="381.6" rx="1.9" ry="1.9" fill="#fff" stroke="#111" stroke-width="1.56"/>
<path d="M329.9 383.1 L470.3 339.7 L469.3 336.3 L328.9 379.7 Z" fill="#fff" stroke="#111" stroke-width="1.56"/>
<path d="M470.7 301.6 L490.1 295 L488.7 291 L469.3 297.6 Z" fill="#fff" stroke="#111" stroke-width="1.56"/>
<line x1="484" y1="292.6" x2="485.4" y2="297" stroke="#111" stroke-width="1.04"/>
<path d="M446.4 302.2 L450.8 298.4 L455.4 299.6 L462.6 302.6 L465.4 296.6 L469.6 295.4 L472.6 298.6 L473.6 335 L471.4 338.4 L466.4 337 L461.2 333 L451.6 316 L447 307 Z" fill="#fff" stroke="#111" stroke-width="2.21"/>
<ellipse cx="450.2" cy="302.6" rx="1.3" ry="1.3" fill="#fff" stroke="#111" stroke-width="1.3"/>
<ellipse cx="467.6" cy="300.2" rx="1.3" ry="1.3" fill="#fff" stroke="#111" stroke-width="1.3"/>
<path d="M451.6 306.6 L466 305.6 L467.4 314" fill="none" stroke="#111" stroke-width="1.17"/>
<ellipse cx="459.6" cy="322.4" rx="7.6" ry="8.4" fill="#fff" stroke="#111" stroke-width="2.34" transform="rotate(-8 459.6 322.4)"/>
<ellipse cx="457.6" cy="323.6" rx="5.4" ry="6.2" fill="#fff" stroke="#111" stroke-width="1.69" transform="rotate(-8 457.6 323.6)"/>
<ellipse cx="455.2" cy="325.2" rx="3.6" ry="4" fill="#fff" stroke="#111" stroke-width="1.95" transform="rotate(-8 455.2 325.2)"/>
<ellipse cx="471.6" cy="336.6" rx="1.6" ry="1.6" fill="#fff" stroke="#111" stroke-width="1.3"/>
<g transform="translate(490.4 278.8) rotate(-102)">
<path d="M-2.8 -3.4 L2.8 -3.4 L2.8 -0.8 L-2.8 -0.8 Z" fill="#333" stroke="#111" stroke-width="1.43"/>
<path d="M-1.3 -0.8 L-1.3 4 L1.3 4 L1.3 -0.8" fill="#fff" stroke="#111" stroke-width="1.43"/>
</g>
<g transform="translate(512.6 291.2) rotate(-102)">
<path d="M-2.8 -3.4 L2.8 -3.4 L2.8 -0.8 L-2.8 -0.8 Z" fill="#333" stroke="#111" stroke-width="1.43"/>
<path d="M-1.3 -0.8 L-1.3 4 L1.3 4 L1.3 -0.8" fill="#fff" stroke="#111" stroke-width="1.43"/>
</g>
<path d="M512.8 268.6 C516 264.6 521 263.8 526 265.2 C538 269.6 547.4 281.4 552.4 295.6 L548.6 297 C544.2 285 536 274.6 526.6 270.2 C523.6 269.2 520.8 269.4 518.6 270.8 L520.6 274.6 L517 276.2 Z" fill="#fff" stroke="#111" stroke-width="1.82"/>
<path d="M512.8 268.6 C516 264.6 521 263.8 526 265.2 C538 269.6 547.4 281.4 552.4 295.6" fill="none" stroke="#111" stroke-width="3.64"/>
<path d="M540.6 279.4 L544.4 277.2 M543.6 284.4 L547.4 282.6 M545.8 289.4 L549.8 288 M547.6 293.6 L551.4 292.6" fill="none" stroke="#111" stroke-width="1.95"/>
<path d="M518.6 270.8 L520.6 274.6 L517 276.2 L515 272.4 Z" fill="#fff" stroke="#111" stroke-width="1.56"/>
<ellipse cx="552.8" cy="262" rx="2.7" ry="2.6" fill="#222" stroke="#111" stroke-width="1.3"/>
<ellipse cx="575.2" cy="278" rx="2.7" ry="2.6" fill="#222" stroke="#111" stroke-width="1.3"/>
<g transform="translate(439.6 364.8)">
<path d="M0 0.6 L3 -1.8 L17.4 3.6 L15 6.4 Z" fill="#fff" stroke="#111" stroke-width="1.82"/>
<path d="M10 5 L14 6.4 L13.4 9.4 L9.6 8 Z" fill="#fff" stroke="#111" stroke-width="1.56"/>
<path d="M13 6.6 L16.4 3.6 L30 9.2 L27.4 12.4 Z" fill="#222" stroke="#111" stroke-width="1.69"/>
</g>
<g transform="translate(317.8 402.6)">
<path d="M0 0.6 L3 -1.8 L17.4 3.6 L15 6.4 Z" fill="#fff" stroke="#111" stroke-width="1.82"/>
<path d="M10 5 L14 6.4 L13.4 9.4 L9.6 8 Z" fill="#fff" stroke="#111" stroke-width="1.56"/>
<path d="M13 6.6 L16.4 3.6 L30 9.2 L27.4 12.4 Z" fill="#222" stroke="#111" stroke-width="1.69"/>
</g>
<g transform="translate(454.8 390.4) rotate(186) scale(1.0)">
<path d="M-1.5 -2.6 L-1.5 4.6 C-1.5 5.6 1.5 5.6 1.5 4.6 L1.5 -2.6 Z" fill="#fff" stroke="#111" stroke-width="1.69"/>
<path d="M-2.5 -2.4 C-2.7 -5.4 2.7 -5.4 2.5 -2.4 Z" fill="#fff" stroke="#111" stroke-width="1.69"/>
<path d="M-1.5 0.2 L1.5 0.2 M-1.5 1.8 L1.5 1.8 M-1.5 3.4 L1.5 3.4" fill="none" stroke="#111" stroke-width="0.91"/>
</g>
<g transform="translate(466.2 397.6) rotate(186) scale(1.0)">
<path d="M-1.5 -2.6 L-1.5 4.6 C-1.5 5.6 1.5 5.6 1.5 4.6 L1.5 -2.6 Z" fill="#fff" stroke="#111" stroke-width="1.69"/>
<path d="M-2.5 -2.4 C-2.7 -5.4 2.7 -5.4 2.5 -2.4 Z" fill="#fff" stroke="#111" stroke-width="1.69"/>
<path d="M-1.5 0.2 L1.5 0.2 M-1.5 1.8 L1.5 1.8 M-1.5 3.4 L1.5 3.4" fill="none" stroke="#111" stroke-width="0.91"/>
</g>
<g transform="translate(332.6 427.6) rotate(186) scale(1.0)">
<path d="M-1.5 -2.6 L-1.5 4.6 C-1.5 5.6 1.5 5.6 1.5 4.6 L1.5 -2.6 Z" fill="#fff" stroke="#111" stroke-width="1.69"/>
<path d="M-2.5 -2.4 C-2.7 -5.4 2.7 -5.4 2.5 -2.4 Z" fill="#fff" stroke="#111" stroke-width="1.69"/>
<path d="M-1.5 0.2 L1.5 0.2 M-1.5 1.8 L1.5 1.8 M-1.5 3.4 L1.5 3.4" fill="none" stroke="#111" stroke-width="0.91"/>
</g>
<g transform="translate(343.2 435.2) rotate(186) scale(1.0)">
<path d="M-1.5 -2.6 L-1.5 4.6 C-1.5 5.6 1.5 5.6 1.5 4.6 L1.5 -2.6 Z" fill="#fff" stroke="#111" stroke-width="1.69"/>
<path d="M-2.5 -2.4 C-2.7 -5.4 2.7 -5.4 2.5 -2.4 Z" fill="#fff" stroke="#111" stroke-width="1.69"/>
<path d="M-1.5 0.2 L1.5 0.2 M-1.5 1.8 L1.5 1.8 M-1.5 3.4 L1.5 3.4" fill="none" stroke="#111" stroke-width="0.91"/>
</g>
<g transform="translate(290 510.6) scale(1 1)">
<path d="M-5 -12 C-4 -16 1 -16.4 2.6 -13 L5 -8 C9 -3 10 6 8.6 13.6 L-1 15.4 C-7 12 -9.6 4 -8.6 -3 Z" fill="#fff" stroke="#111" stroke-width="2.34"/>
<path d="M-5 -12 C-4 -16 1 -16.4 2.6 -13 L1.6 -8.6 C-1 -8 -3.4 -9 -5 -12 Z" fill="#333" stroke="#111" stroke-width="1.3"/>
<ellipse cx="-3.4" cy="3.2" rx="5.2" ry="10" fill="#fff" stroke="#111" stroke-width="2.6" transform="rotate(-8 -3.4 3.2)"/>
<ellipse cx="-3.2" cy="3.6" rx="3.2" ry="7.4" fill="none" stroke="#111" stroke-width="1.17" transform="rotate(-8 -3.2 3.6)"/>
<path d="M1.6 -8.6 C5 -3 6.4 5 5.4 12 M5 -8 L3.4 -5 M8.6 13.6 L5.4 12 M6 -1 L9 0 M6.4 4 L9.4 5.2 M6 8 L9.2 9.6" fill="none" stroke="#111" stroke-width="1.69"/>
<path d="M2 10.6 L8.4 13.6 L9 7 L6 6 Z" fill="#222" stroke="#111" stroke-width="1.04"/>
</g>
<ellipse cx="329.6" cy="500.6" rx="16.8" ry="34.6" fill="#fff" stroke="#111" stroke-width="3.25" transform="rotate(-12.5 329.6 500.6)"/>
<ellipse cx="330.4" cy="500.6" rx="14.1" ry="30.4" fill="none" stroke="#111" stroke-width="1.56" transform="rotate(-12.5 330.4 500.6)"/>
<g stroke="#111" fill="none" stroke-linejoin="round">
<path d="M335.5 498.9 L345.4 496.5 L346.9 506.8 L336.3 504.6 Z" fill="#fff" stroke="#111" stroke-width="2.21"/>
<line x1="336.9" y1="502.4" x2="344.3" y2="502.8" stroke="#111" stroke-width="1.56"/>
<line x1="340" y1="500.4" x2="343.7" y2="499.1" stroke="#111" stroke-width="2.86"/>
<path d="M336.1 506.6 L346.1 520.8 L343.5 527.9 L334.2 510.6 Z" fill="#fff" stroke="#111" stroke-width="2.21"/>
<line x1="335.8" y1="510.3" x2="342.9" y2="523.2" stroke="#111" stroke-width="1.56"/>
<path d="M333.1 511.4 L337.1 533.3 L331.9 533 L329.6 511.4 Z" fill="#fff" stroke="#111" stroke-width="2.21"/>
<line x1="331.2" y1="513.2" x2="333.7" y2="530.4" stroke="#111" stroke-width="1.56"/>
<line x1="333.7" y1="520.6" x2="335.5" y2="530.4" stroke="#111" stroke-width="2.86"/>
<path d="M328.3 510.5 L323.8 526.6 L319 519.1 L325.3 506.4 Z" fill="#fff" stroke="#111" stroke-width="2.21"/>
<line x1="326" y1="509.2" x2="322.1" y2="520.2" stroke="#111" stroke-width="1.56"/>
<path d="M324.5 504.3 L313.8 504.7 L312.3 494.4 L323.7 498.6 Z" fill="#fff" stroke="#111" stroke-width="2.21"/>
<line x1="323.1" y1="500.8" x2="314.9" y2="498.4" stroke="#111" stroke-width="1.56"/>
<line x1="320" y1="502.8" x2="315.5" y2="502.1" stroke="#111" stroke-width="2.86"/>
<path d="M323.9 496.6 L313.1 480.4 L315.7 473.3 L325.8 492.6 Z" fill="#fff" stroke="#111" stroke-width="2.21"/>
<line x1="324.2" y1="492.9" x2="316.3" y2="478" stroke="#111" stroke-width="1.56"/>
<path d="M326.9 491.8 L322.1 467.9 L327.3 468.2 L330.4 491.8 Z" fill="#fff" stroke="#111" stroke-width="2.21"/>
<line x1="328.8" y1="490" x2="325.5" y2="470.8" stroke="#111" stroke-width="1.56"/>
<line x1="326.3" y1="482.6" x2="323.7" y2="470.8" stroke="#111" stroke-width="2.86"/>
<path d="M331.7 492.7 L335.4 474.6 L340.2 482.1 L334.7 496.8 Z" fill="#fff" stroke="#111" stroke-width="2.21"/>
<line x1="334" y1="494" x2="337.1" y2="481" stroke="#111" stroke-width="1.56"/>
</g>
<ellipse cx="330" cy="501.6" rx="9.7" ry="18" fill="none" stroke="#111" stroke-width="1.56" transform="rotate(-12.5 330 501.6)"/>
<ellipse cx="330" cy="501.6" rx="7.1" ry="11.8" fill="#151515" stroke="#111" stroke-width="2.08" transform="rotate(-12.5 330 501.6)"/>
<path d="M333.9 503.1 L331.5 505.1 L329.8 508.2 L327.9 503.8 L325.5 500.1 L327.9 498.1 L329.6 495 L331.5 499.4 Z" fill="#fff" stroke="none" stroke-width="0.0"/>
<path d="M355 486.2 L359 485.6 L360 492 L356 492.8 Z" fill="#fff" stroke="#111" stroke-width="3.38" stroke-linejoin="round"/>
<line x1="356" y1="489.4" x2="359" y2="489" stroke="#111" stroke-width="1.17"/>
<ellipse cx="371.2" cy="483.9" rx="2.2" ry="3.7" fill="#fff" stroke="#111" stroke-width="3.25" transform="rotate(-12 371.2 483.9)"/>
<path d="M381.1 475.1 L381.2 473.9 L381.4 472.7 L381.7 471.7 L382.2 470.7 L382.8 469.9 L383.5 469.2 L384.3 468.8 L386.7 468 L387.6 467.7 L388.5 467.6 L389.4 467.8 L390.3 468.2 L391.2 468.7 L391.9 469.5 L392.6 470.4 L393.2 471.4 L393.6 472.5 L393.9 473.7 L394.1 474.9 L394 476.1 L393.8 477.3 L393.5 478.3 L393 479.3 L392.4 480.1 L391.7 480.8 L390.9 481.2 L388.5 482 L387.6 482.3 L386.7 482.4 L385.8 482.2 L384.9 481.8 L384 481.3 L383.3 480.5 L382.6 479.6 L382 478.6 L381.6 477.5 L381.3 476.3 Z" fill="#fff" stroke="#111" stroke-width="1.95"/>
<ellipse cx="386.4" cy="475.4" rx="5.2" ry="7" fill="#151515" stroke="#111" stroke-width="1.82" transform="rotate(-10 386.4 475.4)"/>
<ellipse cx="386" cy="475.4" rx="1.6" ry="2.4" fill="#fff" stroke="none" stroke-width="0.0" transform="rotate(-10 386 475.4)"/>
<path d="M401.5 443.5 L401.6 440.2 L401.9 437 L402.3 434 L402.8 431.2 L403.5 428.5 L404.4 426.1 L405.4 423.9 L406.5 422 L407.7 420.3 L409 418.9 L410.5 417.8 L412 417 L413.6 416.5 L415.3 416.3 L434.7 414.5 L436.3 414.6 L438.1 415.1 L439.8 415.8 L441.5 416.8 L443.3 418.1 L445 419.6 L446.7 421.4 L448.4 423.5 L450 425.8 L451.5 428.3 L453 431 L454.4 433.9 L455.7 436.9 L456.8 440.1 L457.9 443.4 L458.8 446.7 L459.6 450.1 L460.3 453.6 L460.8 457 L461.2 460.4 L461.4 463.8 L461.4 467.1 L461.4 470.3 L461.1 473.4 L460.7 476.3 L460.2 479 L459.5 481.6 L458.7 484 L457.7 486.1 L456.7 488 L455.5 489.6 L454.2 490.9 L452.8 492 L451.3 492.8 L449.8 493.3 L430.8 497.5 L429.1 497.7 L427.4 497.6 L425.6 497.1 L423.9 496.4 L422.1 495.4 L420.3 494.1 L418.5 492.5 L416.7 490.6 L415 488.5 L413.4 486.1 L411.8 483.5 L410.2 480.7 L408.8 477.7 L407.5 474.6 L406.3 471.3 L405.2 468 L404.2 464.5 L403.4 461 L402.7 457.4 L402.2 453.9 L401.8 450.4 L401.6 446.9 Z" fill="#fff" stroke="#111" stroke-width="2.6"/>
<g stroke="#111" fill="none" stroke-linejoin="round">
<path d="M409.1 420.8 L410.2 419.5 L411.3 418.5 L412.4 417.6 L413.6 417 L414.9 416.5 L416.2 416.2 L417.5 416.1 L418.9 416.2 L420.3 416.6 L421.7 417.1 L423.2 417.8 L424.6 418.7 L426.1 419.7 L427.5 421 L428.9 422.4 L430.3 424 L431.6 425.8 L432.9 427.7 L434.2 429.7 L435.5 431.9 L436.6 434.2 L437.7 436.6 L438.8 439.2 L439.8 441.7 L440.7 444.4 L441.5 447.1 L442.2 449.9 L442.8 452.7 L443.4 455.5 L443.9 458.4 L444.2 461.2 L444.5 464 L444.7 466.8 L444.7 469.5 L444.7 472.1 L444.5 474.7 L444.3 477.2 L444 479.6 L443.6 481.9 L443 484 L442.4 486.1 L441.7 487.9 L440.9 489.7 L440 491.2 L439.1 492.6 L438.1 493.9 L437 494.9 L435.8 495.8 L434.6 496.4 L433.3 496.9 L432 497.2 L430.7 497.3 L429.3 497.2 L427.9 496.8 L426.5 496.3 L425.1 495.6" fill="none" stroke="#111" stroke-width="1.3"/>
<path d="M416.6 420 L417.6 418.8 L418.7 417.8 L419.8 416.9 L421 416.3 L422.3 415.8 L423.6 415.5 L424.9 415.5 L426.3 415.6 L427.7 415.9 L429.1 416.4 L430.5 417.1 L431.9 418 L433.3 419 L434.7 420.3 L436.1 421.7 L437.5 423.3 L438.8 425 L440.1 426.9 L441.4 428.9 L442.6 431.1 L443.8 433.3 L444.9 435.7 L445.9 438.2 L446.9 440.8 L447.8 443.4 L448.6 446.1 L449.3 448.9 L449.9 451.6 L450.5 454.4 L450.9 457.2 L451.3 460 L451.5 462.8 L451.7 465.5 L451.8 468.2 L451.7 470.8 L451.6 473.4 L451.4 475.8 L451 478.2 L450.6 480.5 L450.1 482.6 L449.5 484.6 L448.8 486.4 L448 488.2 L447.2 489.7 L446.2 491.1 L445.2 492.3 L444.1 493.3 L443 494.2 L441.8 494.8 L440.5 495.3 L439.2 495.6 L437.9 495.7 L436.6 495.5 L435.2 495.2 L433.8 494.7 L432.3 494" fill="none" stroke="#111" stroke-width="1.82"/>
<path d="M421.9 419.5 L422.9 418.3 L424 417.3 L425.1 416.4 L426.3 415.8 L427.6 415.3 L428.8 415.1 L430.2 415 L431.5 415.1 L432.9 415.4 L434.3 415.9 L435.7 416.6 L437.1 417.5 L438.5 418.5 L439.9 419.8 L441.3 421.2 L442.6 422.7 L444 424.4 L445.3 426.3 L446.5 428.3 L447.7 430.5 L448.9 432.7 L449.9 435.1 L451 437.5 L451.9 440.1 L452.8 442.7 L453.6 445.4 L454.3 448.1 L455 450.8 L455.5 453.6 L456 456.4 L456.3 459.2 L456.6 461.9 L456.7 464.6 L456.8 467.3 L456.8 469.9 L456.6 472.4 L456.4 474.9 L456.1 477.2 L455.7 479.4 L455.1 481.6 L454.5 483.5 L453.8 485.4 L453.1 487.1 L452.2 488.6 L451.3 490 L450.3 491.2 L449.2 492.2 L448.1 493.1 L446.9 493.7 L445.6 494.2 L444.4 494.4 L443 494.5 L441.7 494.4 L440.3 494.1 L438.9 493.6 L437.5 492.9" fill="none" stroke="#111" stroke-width="1.69"/>
<line x1="418.4" y1="418" x2="423.7" y2="417.5" stroke="#111" stroke-width="1.82"/>
<line x1="426.5" y1="415.7" x2="431.3" y2="415.3" stroke="#111" stroke-width="1.82"/>
<path d="M418.7 417.8 L413.2 417.2 L423.9 415.5 Z" fill="#fff" stroke="#111" stroke-width="1.95"/>
<line x1="416.2" y1="416.2" x2="424.2" y2="415.5" stroke="#111" stroke-width="1.56"/>
<line x1="424.2" y1="415.5" x2="429.5" y2="415" stroke="#111" stroke-width="1.82"/>
<line x1="432.7" y1="415.3" x2="437.5" y2="414.9" stroke="#111" stroke-width="1.82"/>
<path d="M424.6 415.5 L419.5 416.4 L430.5 417.1 Z" fill="#fff" stroke="#111" stroke-width="1.95"/>
<line x1="422.9" y1="417.6" x2="430.8" y2="417.3" stroke="#111" stroke-width="1.56"/>
<line x1="430.8" y1="417.3" x2="436" y2="416.8" stroke="#111" stroke-width="1.82"/>
<line x1="439.4" y1="419.3" x2="444.1" y2="418.8" stroke="#111" stroke-width="1.82"/>
<path d="M431.2 417.5 L426.3 419.9 L437.2 422.9 Z" fill="#fff" stroke="#111" stroke-width="1.95"/>
<line x1="429.6" y1="423.3" x2="437.5" y2="423.3" stroke="#111" stroke-width="1.56"/>
<line x1="437.5" y1="423.3" x2="442.6" y2="422.7" stroke="#111" stroke-width="1.82"/>
<line x1="445.7" y1="427.1" x2="450.5" y2="426.5" stroke="#111" stroke-width="1.82"/>
<path d="M437.8 423.7 L432.8 427.5 L443.2 432.2 Z" fill="#fff" stroke="#111" stroke-width="1.95"/>
<line x1="435.8" y1="432.6" x2="443.5" y2="432.8" stroke="#111" stroke-width="1.56"/>
<line x1="443.5" y1="432.8" x2="448.6" y2="432.1" stroke="#111" stroke-width="1.82"/>
<line x1="451.1" y1="437.9" x2="455.8" y2="437.2" stroke="#111" stroke-width="1.82"/>
<path d="M443.8 433.3 L438.4 438.3 L448 444.1 Z" fill="#fff" stroke="#111" stroke-width="1.95"/>
<line x1="440.7" y1="444.5" x2="448.2" y2="444.8" stroke="#111" stroke-width="1.56"/>
<line x1="448.2" y1="444.8" x2="453.2" y2="444" stroke="#111" stroke-width="1.82"/>
<line x1="454.9" y1="450.5" x2="459.5" y2="449.8" stroke="#111" stroke-width="1.82"/>
<path d="M448.4 445.4 L442.5 451 L450.9 457.2 Z" fill="#fff" stroke="#111" stroke-width="1.95"/>
<line x1="443.8" y1="457.7" x2="451" y2="457.9" stroke="#111" stroke-width="1.56"/>
<line x1="451" y1="457.9" x2="456" y2="457.1" stroke="#111" stroke-width="1.82"/>
<line x1="456.7" y1="463.6" x2="461.3" y2="462.8" stroke="#111" stroke-width="1.82"/>
<path d="M451.1 458.6 L444.5 464.4 L451.8 470.2 Z" fill="#fff" stroke="#111" stroke-width="1.95"/>
<line x1="444.7" y1="470.9" x2="451.7" y2="470.8" stroke="#111" stroke-width="1.56"/>
<line x1="451.7" y1="470.8" x2="456.8" y2="469.9" stroke="#111" stroke-width="1.82"/>
<line x1="456.3" y1="475.8" x2="460.9" y2="474.8" stroke="#111" stroke-width="1.82"/>
<path d="M451.7 471.5 L444.3 477 L450.4 481.5 Z" fill="#fff" stroke="#111" stroke-width="1.95"/>
<line x1="443.4" y1="482.5" x2="450.2" y2="482.1" stroke="#111" stroke-width="1.56"/>
<line x1="450.2" y1="482.1" x2="455.3" y2="481" stroke="#111" stroke-width="1.82"/>
<line x1="453.7" y1="485.6" x2="458.4" y2="484.6" stroke="#111" stroke-width="1.82"/>
<path d="M450.1 482.6 L442 487.3 L446.9 490.1 Z" fill="#fff" stroke="#111" stroke-width="1.95"/>
<line x1="440" y1="491.3" x2="446.7" y2="490.4" stroke="#111" stroke-width="1.56"/>
<line x1="446.7" y1="490.4" x2="451.8" y2="489.3" stroke="#111" stroke-width="1.82"/>
<line x1="449.3" y1="492.1" x2="454" y2="491.1" stroke="#111" stroke-width="1.82"/>
<path d="M446.5 490.8 L437.6 494.3 L441.8 494.8 Z" fill="#fff" stroke="#111" stroke-width="1.95"/>
<line x1="434.9" y1="496.3" x2="441.5" y2="495" stroke="#111" stroke-width="1.56"/>
<line x1="441.5" y1="495" x2="446.6" y2="493.8" stroke="#111" stroke-width="1.82"/>
<line x1="443.5" y1="494.5" x2="448.3" y2="493.5" stroke="#111" stroke-width="1.82"/>
<path d="M441.2 495.1 L431.8 497.2 L435.5 495.3 Z" fill="#fff" stroke="#111" stroke-width="1.95"/>
<line x1="428.6" y1="497" x2="435.2" y2="495.2" stroke="#111" stroke-width="1.56"/>
<line x1="435.2" y1="495.2" x2="440.3" y2="494.1" stroke="#111" stroke-width="1.82"/>
<line x1="437" y1="492.6" x2="441.8" y2="491.6" stroke="#111" stroke-width="1.82"/>
<path d="M434.8 495.1 L425.2 495.7 L428.8 491.5 Z" fill="#fff" stroke="#111" stroke-width="1.95"/>
<line x1="421.8" y1="493.3" x2="428.4" y2="491.2" stroke="#111" stroke-width="1.56"/>
</g>
<ellipse cx="422.2" cy="457" rx="19.2" ry="41.4" fill="#fff" stroke="#111" stroke-width="3.12" transform="rotate(-12 422.2 457)"/>
<ellipse cx="422.8" cy="457" rx="16.9" ry="38.1" fill="none" stroke="#111" stroke-width="1.82" transform="rotate(-12 422.8 457)"/>
<ellipse cx="423.4" cy="457" rx="15.4" ry="35.6" fill="none" stroke="#111" stroke-width="1.04" transform="rotate(-12 423.4 457)"/>
<ellipse cx="428.5" cy="456.7" rx="5.4" ry="10.3" fill="#fff" stroke="#111" stroke-width="3.64" transform="rotate(-12 428.5 456.7)"/>
<ellipse cx="429.3" cy="456.7" rx="2.5" ry="5.4" fill="#666" stroke="#111" stroke-width="1.82" transform="rotate(-12 429.3 456.7)"/>
<path d="M465.6 444.9 L465.6 443.9 L465.7 442.8 L466 441.9 L466.5 441 L467 440.3 L467.6 439.7 L468.4 439.3 L469.1 439.1 L471.7 438.3 L472.5 438.2 L473.3 438.4 L474.1 438.7 L474.9 439.2 L475.6 439.9 L476.2 440.7 L476.7 441.6 L477.1 442.6 L477.3 443.6 L477.4 444.7 L477.4 445.7 L477.3 446.8 L477 447.7 L476.5 448.6 L476 449.3 L475.4 449.9 L474.6 450.3 L473.9 450.5 L471.3 451.3 L470.5 451.4 L469.7 451.2 L468.9 450.9 L468.1 450.4 L467.4 449.7 L466.8 448.9 L466.3 448 L465.9 447.1 L465.7 446 Z" fill="#fff" stroke="#111" stroke-width="1.95"/>
<ellipse cx="470.2" cy="445.2" rx="4.6" ry="6.2" fill="#151515" stroke="#111" stroke-width="1.82" transform="rotate(-10 470.2 445.2)"/>
<ellipse cx="469.8" cy="445.2" rx="1.4" ry="2.1" fill="#fff" stroke="none" stroke-width="0.0" transform="rotate(-10 469.8 445.2)"/>
<ellipse cx="485" cy="438.6" rx="5.6" ry="9.4" fill="#fff" stroke="#111" stroke-width="2.34" transform="rotate(-14 485 438.6)"/>
<ellipse cx="484" cy="438.8" rx="4.2" ry="7.4" fill="#fff" stroke="#111" stroke-width="2.08" transform="rotate(-14 484 438.8)"/>
<ellipse cx="483.4" cy="439" rx="2.6" ry="4.8" fill="#888" stroke="#111" stroke-width="1.69" transform="rotate(-14 483.4 439)"/>
<path d="M518.2 435.8 C533 427.4 547 420 562 415.6 L601 405.2 L649.4 397.6 L650.6 402.2 L602 409.8 L563.2 420 C548.8 424.4 535.2 431.6 520.8 440.4 Z" fill="#fff" stroke="#111" stroke-width="2.08"/>
<line x1="561.8" y1="415.6" x2="563" y2="420" stroke="#111" stroke-width="1.04"/>
<line x1="601" y1="405.2" x2="602" y2="409.8" stroke="#111" stroke-width="1.04"/>
<path d="M505.3 428.3 L509.9 423.1 L517.3 422.3 L521.1 425.4 L522.2 431.7 L519.6 437.4 L515.6 443.1 L512.1 447.1 L508.7 446 L506.4 442 L505.9 436.9 Z" fill="#fff" stroke="#111" stroke-width="2.34"/>
<path d="M507.4 428 C512 423.6 519.6 424.6 520.6 431.6" fill="none" stroke="#111" stroke-width="1.56"/>
<path d="M496.1 433.1 L503 430.6 L515.3 427.4 L516.7 431.3 L504.1 434.7 L496.8 436.7 Z" fill="#fff" stroke="#111" stroke-width="1.95"/>
<path d="M496.1 433.1 L499 432.2 L499.8 435.8 L496.8 436.7 Z" fill="#222" stroke="#111" stroke-width="1.3"/>
<ellipse cx="509.9" cy="441.2" rx="1.5" ry="2.3" fill="#222" stroke="#111" stroke-width="1.56"/>
<path d="M657 386.6 L675 381.6 L673.8 377.6 L655.8 382.6 Z" fill="#fff" stroke="#111" stroke-width="1.56"/>
<ellipse cx="674.2" cy="379.6" rx="1.6" ry="2.3" fill="#222" stroke="#111" stroke-width="1.3" transform="rotate(-14 674.2 379.6)"/>
<path d="M637.3 378.9 L639.5 376.3 L643 378 L647.5 386.4 L651 380.5 L654.5 379.2 L658.4 383 L657.6 390 L653.6 401.5 L651.4 404 L648 402.6 L643.2 397.2 Z" fill="#fff" stroke="#111" stroke-width="2.21"/>
<path d="M657.4 384 C657 391 654.4 397 651.6 402.6" fill="none" stroke="#111" stroke-width="2.86"/>
<ellipse cx="639.6" cy="378.6" rx="1.2" ry="1.4" fill="#222" stroke="#111" stroke-width="1.04"/>
<ellipse cx="654" cy="385.2" rx="1.5" ry="2.3" fill="#222" stroke="#111" stroke-width="1.3"/>
<ellipse cx="649.8" cy="400.6" rx="1.7" ry="2.6" fill="#fff" stroke="#111" stroke-width="1.56" transform="rotate(-12 649.8 400.6)"/>
<g transform="translate(643.4 432.2)">
<path d="M-5.6 -4.2 L3.6 -6.4 L7.4 -3.2 L7.6 3.8 L-1.4 6.2 L-5.4 3.8 Z" fill="#fff" stroke="#111" stroke-width="1.82"/>
<ellipse cx="5" cy="-1.2" rx="3.5" ry="5.3" fill="#fff" stroke="#111" stroke-width="2.08" transform="rotate(-10 5 -1.2)"/>
<ellipse cx="0.6" cy="-0.2" rx="3" ry="4.6" fill="#fff" stroke="#111" stroke-width="1.69" transform="rotate(-10 0.6 -0.2)"/>
<ellipse cx="-4" cy="0.8" rx="3.9" ry="5.8" fill="#fff" stroke="#111" stroke-width="2.47" transform="rotate(-10 -4 0.8)"/>
<ellipse cx="-4" cy="0.9" rx="2" ry="3.1" fill="#555" stroke="#111" stroke-width="1.69" transform="rotate(-10 -4 0.9)"/>
</g>
<g transform="translate(522.4 468.6)">
<path d="M-5.6 -4.2 L3.6 -6.4 L7.4 -3.2 L7.6 3.8 L-1.4 6.2 L-5.4 3.8 Z" fill="#fff" stroke="#111" stroke-width="1.82"/>
<ellipse cx="5" cy="-1.2" rx="3.5" ry="5.3" fill="#fff" stroke="#111" stroke-width="2.08" transform="rotate(-10 5 -1.2)"/>
<ellipse cx="0.6" cy="-0.2" rx="3" ry="4.6" fill="#fff" stroke="#111" stroke-width="1.69" transform="rotate(-10 0.6 -0.2)"/>
<ellipse cx="-4" cy="0.8" rx="3.9" ry="5.8" fill="#fff" stroke="#111" stroke-width="2.47" transform="rotate(-10 -4 0.8)"/>
<ellipse cx="-4" cy="0.9" rx="2" ry="3.1" fill="#555" stroke="#111" stroke-width="1.69" transform="rotate(-10 -4 0.9)"/>
</g>
<g transform="translate(641 463.4)">
<path d="M-8 -3.6 C-5 -5.4 -1 -4.4 0.6 -1.6 C1.4 0.4 -1 1.6 -3 0.6 C-4.6 -0.4 -6.6 -1.4 -8 -3.6 Z" fill="#fff" stroke="#111" stroke-width="1.69"/>
<path d="M1 0.6 C4 -0.8 8.6 0.2 10.6 2.6 C8 4.6 4 4.4 1.6 3 Z" fill="#222" stroke="#111" stroke-width="1.43"/>
<path d="M-1.6 -1 C-2.6 2 -0.4 4.6 2 3.4 C3.6 2.4 2.6 -0.4 0.6 -1.6" fill="#fff" stroke="#111" stroke-width="1.69"/>
</g>
<g transform="translate(521 500.6)">
<path d="M-8 -3.6 C-5 -5.4 -1 -4.4 0.6 -1.6 C1.4 0.4 -1 1.6 -3 0.6 C-4.6 -0.4 -6.6 -1.4 -8 -3.6 Z" fill="#fff" stroke="#111" stroke-width="1.69"/>
<path d="M1 0.6 C4 -0.8 8.6 0.2 10.6 2.6 C8 4.6 4 4.4 1.6 3 Z" fill="#222" stroke="#111" stroke-width="1.43"/>
<path d="M-1.6 -1 C-2.6 2 -0.4 4.6 2 3.4 C3.6 2.4 2.6 -0.4 0.6 -1.6" fill="#fff" stroke="#111" stroke-width="1.69"/>
</g>
<g transform="translate(639.4 487.4) rotate(6) scale(1.05)">
<path d="M-1.5 -2.6 L-1.5 4.6 C-1.5 5.6 1.5 5.6 1.5 4.6 L1.5 -2.6 Z" fill="#fff" stroke="#111" stroke-width="1.69"/>
<path d="M-2.5 -2.4 C-2.7 -5.4 2.7 -5.4 2.5 -2.4 Z" fill="#fff" stroke="#111" stroke-width="1.69"/>
<path d="M-1.5 0.2 L1.5 0.2 M-1.5 1.8 L1.5 1.8 M-1.5 3.4 L1.5 3.4" fill="none" stroke="#111" stroke-width="0.91"/>
</g>
<g transform="translate(649.8 490.6) rotate(6) scale(1.05)">
<path d="M-1.5 -2.6 L-1.5 4.6 C-1.5 5.6 1.5 5.6 1.5 4.6 L1.5 -2.6 Z" fill="#fff" stroke="#111" stroke-width="1.69"/>
<path d="M-2.5 -2.4 C-2.7 -5.4 2.7 -5.4 2.5 -2.4 Z" fill="#fff" stroke="#111" stroke-width="1.69"/>
<path d="M-1.5 0.2 L1.5 0.2 M-1.5 1.8 L1.5 1.8 M-1.5 3.4 L1.5 3.4" fill="none" stroke="#111" stroke-width="0.91"/>
</g>
<g transform="translate(516.2 523.4) rotate(6) scale(1.05)">
<path d="M-1.5 -2.6 L-1.5 4.6 C-1.5 5.6 1.5 5.6 1.5 4.6 L1.5 -2.6 Z" fill="#fff" stroke="#111" stroke-width="1.69"/>
<path d="M-2.5 -2.4 C-2.7 -5.4 2.7 -5.4 2.5 -2.4 Z" fill="#fff" stroke="#111" stroke-width="1.69"/>
<path d="M-1.5 0.2 L1.5 0.2 M-1.5 1.8 L1.5 1.8 M-1.5 3.4 L1.5 3.4" fill="none" stroke="#111" stroke-width="0.91"/>
</g>
<g transform="translate(526.6 528.2) rotate(6) scale(1.05)">
<path d="M-1.5 -2.6 L-1.5 4.6 C-1.5 5.6 1.5 5.6 1.5 4.6 L1.5 -2.6 Z" fill="#fff" stroke="#111" stroke-width="1.69"/>
<path d="M-2.5 -2.4 C-2.7 -5.4 2.7 -5.4 2.5 -2.4 Z" fill="#fff" stroke="#111" stroke-width="1.69"/>
<path d="M-1.5 0.2 L1.5 0.2 M-1.5 1.8 L1.5 1.8 M-1.5 3.4 L1.5 3.4" fill="none" stroke="#111" stroke-width="0.91"/>
</g>
<path d="M297.9 740.1 L297.9 739.1 L298 738.2 L298.2 737.4 L298.6 736.6 L299 736 L299.6 735.5 L300.2 735.1 L300.8 734.9 L304.2 734.1 L304.9 734 L305.6 734.2 L306.3 734.5 L306.9 734.9 L307.5 735.5 L308 736.3 L308.5 737.1 L308.8 738 L309 738.9 L309.1 739.9 L309.1 740.9 L309 741.8 L308.8 742.6 L308.4 743.4 L308 744 L307.4 744.5 L306.8 744.9 L306.2 745.1 L302.8 745.9 L302.1 746 L301.4 745.8 L300.7 745.5 L300.1 745.1 L299.5 744.5 L299 743.7 L298.5 742.9 L298.2 742 L298 741.1 Z" fill="#fff" stroke="#111" stroke-width="1.82"/>
<ellipse cx="301.8" cy="740.4" rx="3.9" ry="5.6" fill="#fff" stroke="#111" stroke-width="2.08" transform="rotate(-10 301.8 740.4)"/>
<ellipse cx="302.1" cy="740.4" rx="1.9" ry="2.9" fill="#fff" stroke="#111" stroke-width="2.08" transform="rotate(-10 302.1 740.4)"/>
<line x1="308" y1="755.8" x2="321.4" y2="749.4" stroke="#111" stroke-width="1.95"/>
<line x1="319.8" y1="748" x2="321" y2="751.4" stroke="#111" stroke-width="1.3"/>
<line x1="318.6" y1="761" x2="332" y2="754.4" stroke="#111" stroke-width="1.95"/>
<line x1="330.4" y1="753" x2="331.6" y2="756.4" stroke="#111" stroke-width="1.3"/>
<path d="M339.1 720.6 L339.2 716.3 L339.7 712.2 L340.4 708.4 L341.6 705 L342.9 702.1 L344.6 699.6 L346.5 697.7 L348.6 696.3 L350.9 695.4 L353.5 694.8 L355.9 694.6 L358.4 695 L361 696 L363.5 697.5 L366 699.6 L368.4 702.2 L370.8 705.3 L372.9 708.8 L374.9 712.6 L376.6 716.8 L378 721.1 L379.2 725.6 L380 730.2 L380.6 734.8 L380.8 739.2 L380.6 743.5 L380.1 747.6 L379.4 751.4 L378.2 754.8 L376.9 757.7 L375.2 760.2 L373.3 762.1 L371.2 763.5 L368.9 764.4 L366.3 765 L363.9 765.2 L361.4 764.8 L358.8 763.8 L356.3 762.3 L353.8 760.2 L351.4 757.6 L349 754.5 L346.9 751 L344.9 747.2 L343.2 743 L341.8 738.7 L340.6 734.2 L339.8 729.6 L339.2 725 Z" fill="#fff" stroke="#111" stroke-width="1.95"/>
<ellipse cx="358.6" cy="730.2" rx="18.4" ry="35.6" fill="#fff" stroke="#111" stroke-width="2.08" transform="rotate(-12.5 358.6 730.2)"/>
<ellipse cx="359.9" cy="730.2" rx="16" ry="32.4" fill="none" stroke="#111" stroke-width="1.69" transform="rotate(-12.5 359.9 730.2)"/>
<ellipse cx="368.8" cy="737.8" rx="7.5" ry="3.3" fill="#fff" stroke="#111" stroke-width="1.95" transform="rotate(35.7 368.8 737.8)"/>
<ellipse cx="362.8" cy="749" rx="11.2" ry="5" fill="#fff" stroke="#111" stroke-width="1.95" transform="rotate(77.5 362.8 749)"/>
<ellipse cx="352.6" cy="741.4" rx="7.5" ry="3.3" fill="#fff" stroke="#111" stroke-width="1.95" transform="rotate(119.3 352.6 741.4)"/>
<ellipse cx="348.4" cy="722.6" rx="7.5" ry="3.3" fill="#fff" stroke="#111" stroke-width="1.95" transform="rotate(-144.3 348.4 722.6)"/>
<ellipse cx="354.4" cy="711.4" rx="11.2" ry="5" fill="#fff" stroke="#111" stroke-width="1.95" transform="rotate(-102.5 354.4 711.4)"/>
<ellipse cx="364.6" cy="719" rx="7.5" ry="3.3" fill="#fff" stroke="#111" stroke-width="1.95" transform="rotate(-60.7 364.6 719)"/>
<ellipse cx="369.4" cy="727.8" rx="2.2" ry="0.9" fill="#fff" stroke="#111" stroke-width="1.17" transform="rotate(-12.5 369.4 727.8)"/>
<ellipse cx="368.1" cy="747.7" rx="2.2" ry="0.9" fill="#fff" stroke="#111" stroke-width="1.17" transform="rotate(60.9 368.1 747.7)"/>
<ellipse cx="357.3" cy="750.1" rx="2.2" ry="0.9" fill="#fff" stroke="#111" stroke-width="1.17" transform="rotate(94.1 357.3 750.1)"/>
<ellipse cx="347.8" cy="732.6" rx="2.2" ry="0.9" fill="#fff" stroke="#111" stroke-width="1.17" transform="rotate(167.5 347.8 732.6)"/>
<ellipse cx="349.1" cy="712.7" rx="2.2" ry="0.9" fill="#fff" stroke="#111" stroke-width="1.17" transform="rotate(-119.1 349.1 712.7)"/>
<ellipse cx="359.9" cy="710.3" rx="2.2" ry="0.9" fill="#fff" stroke="#111" stroke-width="1.17" transform="rotate(-85.9 359.9 710.3)"/>
<ellipse cx="358.6" cy="730.2" rx="2.9" ry="4.3" fill="#222" stroke="#111" stroke-width="1.56" transform="rotate(-12.5 358.6 730.2)"/>
<ellipse cx="391.4" cy="721.4" rx="4.4" ry="7.6" fill="#333" stroke="#111" stroke-width="2.08" transform="rotate(-14 391.4 721.4)"/>
<ellipse cx="391.2" cy="721.2" rx="1.9" ry="3.6" fill="#ddd" stroke="#111" stroke-width="1.04" transform="rotate(-14 391.2 721.2)"/>
<path d="M401.3 713.6 L401.3 712.4 L401.5 711.3 L401.8 710.2 L402.2 709.2 L402.8 708.5 L403.4 707.8 L404.2 707.4 L405 707.1 L409.4 705.9 L410.2 705.9 L411.1 706 L411.9 706.4 L412.7 707 L413.4 707.7 L414.1 708.6 L414.6 709.7 L415 710.8 L415.3 712 L415.5 713.2 L415.5 714.4 L415.3 715.5 L415 716.6 L414.6 717.5 L414 718.4 L413.4 719 L412.6 719.4 L411.8 719.7 L407.4 720.9 L406.6 720.9 L405.7 720.8 L404.9 720.4 L404.1 719.8 L403.4 719.1 L402.7 718.2 L402.2 717.1 L401.8 716 L401.5 714.8 Z" fill="#fff" stroke="#111" stroke-width="1.82"/>
<ellipse cx="406.2" cy="714" rx="4.8" ry="7" fill="#fff" stroke="#111" stroke-width="2.08" transform="rotate(-10 406.2 714)"/>
<ellipse cx="406.5" cy="714" rx="2.4" ry="3.6" fill="#999" stroke="#111" stroke-width="3.12" transform="rotate(-10 406.5 714)"/>
<path d="M413.8 684.4 L413.8 681.2 L414.1 678.1 L414.4 675.3 L415 672.6 L415.6 670.1 L416.5 667.9 L417.4 665.9 L418.6 664.1 L419.8 662.6 L421.1 661.5 L422.6 660.6 L424.1 660 L425.7 659.8 L444.9 658 L446.6 658 L448.2 658.3 L450 659 L451.8 659.9 L453.5 661.1 L455.3 662.6 L457.1 664.3 L458.9 666.3 L460.6 668.6 L462.2 671 L463.8 673.7 L465.3 676.5 L466.8 679.5 L468.1 682.6 L469.3 685.9 L470.4 689.2 L471.4 692.6 L472.3 696 L473 699.4 L473.5 702.9 L473.9 706.2 L474.2 709.5 L474.3 712.8 L474.2 715.8 L474 718.8 L473.7 721.6 L473.1 724.2 L472.5 726.6 L471.7 728.8 L470.7 730.7 L469.7 732.4 L468.5 733.8 L467.2 735 L465.8 735.8 L464.3 736.4 L445.7 740.6 L444.1 740.9 L442.4 740.8 L440.6 740.5 L438.8 739.8 L437 738.9 L435.2 737.6 L433.3 736.1 L431.5 734.3 L429.7 732.2 L427.9 729.9 L426.2 727.4 L424.6 724.6 L423 721.7 L421.5 718.6 L420.1 715.4 L418.9 712.1 L417.8 708.7 L416.7 705.2 L415.9 701.6 L415.1 698.1 L414.6 694.6 L414.1 691.1 L413.9 687.7 Z" fill="#fff" stroke="#111" stroke-width="2.6"/>
<g stroke="#111" fill="none" stroke-linejoin="round">
<path d="M420 664.6 L421 663.3 L422 662.2 L423 661.3 L424.2 660.6 L425.4 660 L426.7 659.7 L428 659.6 L429.3 659.6 L430.7 659.9 L432.2 660.3 L433.6 660.9 L435.1 661.8 L436.5 662.8 L438 664 L439.5 665.4 L440.9 666.9 L442.3 668.6 L443.7 670.5 L445.1 672.5 L446.4 674.6 L447.7 676.9 L449 679.2 L450.1 681.7 L451.2 684.3 L452.3 686.9 L453.2 689.6 L454.1 692.4 L454.9 695.1 L455.6 698 L456.2 700.8 L456.7 703.6 L457.2 706.4 L457.5 709.2 L457.7 711.9 L457.8 714.6 L457.8 717.2 L457.8 719.7 L457.6 722.1 L457.3 724.4 L456.9 726.6 L456.4 728.7 L455.8 730.6 L455.2 732.4 L454.4 734 L453.5 735.4 L452.6 736.7 L451.6 737.8 L450.5 738.7 L449.4 739.4 L448.2 740 L446.9 740.3 L445.6 740.4 L444.2 740.4 L442.9 740.1 L441.4 739.7 L440 739.1" fill="none" stroke="#111" stroke-width="1.3"/>
<path d="M427.4 663.8 L428.3 662.6 L429.3 661.5 L430.4 660.6 L431.5 659.9 L432.7 659.4 L434 659 L435.3 658.9 L436.6 658.9 L438 659.2 L439.4 659.6 L440.8 660.3 L442.3 661.1 L443.7 662.1 L445.2 663.3 L446.6 664.6 L448 666.1 L449.5 667.8 L450.8 669.7 L452.2 671.6 L453.5 673.8 L454.8 676 L456 678.3 L457.2 680.8 L458.2 683.3 L459.3 685.9 L460.2 688.6 L461.1 691.3 L461.9 694.1 L462.6 696.8 L463.2 699.6 L463.7 702.4 L464.1 705.2 L464.4 707.9 L464.6 710.6 L464.8 713.3 L464.8 715.8 L464.7 718.3 L464.5 720.7 L464.2 723 L463.9 725.2 L463.4 727.2 L462.8 729.1 L462.1 730.8 L461.4 732.4 L460.5 733.9 L459.6 735.1 L458.6 736.2 L457.6 737.1 L456.4 737.8 L455.2 738.4 L454 738.7 L452.7 738.8 L451.3 738.8 L450 738.5 L448.6 738.1 L447.1 737.5" fill="none" stroke="#111" stroke-width="1.82"/>
<path d="M432.6 663.3 L433.6 662.1 L434.5 661 L435.6 660.1 L436.7 659.4 L437.9 658.9 L439.2 658.5 L440.4 658.4 L441.8 658.4 L443.1 658.7 L444.5 659.1 L445.9 659.8 L447.4 660.6 L448.8 661.6 L450.3 662.7 L451.7 664.1 L453.1 665.6 L454.5 667.3 L455.9 669.1 L457.2 671.1 L458.5 673.2 L459.8 675.4 L461 677.7 L462.1 680.1 L463.2 682.6 L464.2 685.2 L465.2 687.9 L466 690.6 L466.8 693.3 L467.5 696.1 L468.1 698.8 L468.6 701.6 L469 704.3 L469.4 707 L469.6 709.7 L469.7 712.3 L469.7 714.9 L469.6 717.3 L469.5 719.7 L469.2 722 L468.8 724.1 L468.3 726.1 L467.7 728 L467.1 729.8 L466.3 731.4 L465.5 732.8 L464.6 734 L463.6 735.1 L462.5 736 L461.4 736.7 L460.2 737.2 L459 737.6 L457.7 737.7 L456.4 737.7 L455 737.4 L453.6 737 L452.2 736.3" fill="none" stroke="#111" stroke-width="1.69"/>
<line x1="429.1" y1="661.8" x2="434.3" y2="661.2" stroke="#111" stroke-width="1.82"/>
<line x1="436.9" y1="659.3" x2="441.7" y2="658.9" stroke="#111" stroke-width="1.82"/>
<path d="M429.3 661.5 L423.8 660.8 L434.3 659 Z" fill="#fff" stroke="#111" stroke-width="1.95"/>
<line x1="426.7" y1="659.7" x2="434.6" y2="658.9" stroke="#111" stroke-width="1.56"/>
<line x1="434.6" y1="658.9" x2="439.8" y2="658.4" stroke="#111" stroke-width="1.82"/>
<line x1="443" y1="658.7" x2="447.7" y2="658.2" stroke="#111" stroke-width="1.82"/>
<path d="M434.9 658.9 L429.9 659.7 L440.8 660.3 Z" fill="#fff" stroke="#111" stroke-width="1.95"/>
<line x1="433.3" y1="660.8" x2="441.2" y2="660.4" stroke="#111" stroke-width="1.56"/>
<line x1="441.2" y1="660.4" x2="446.3" y2="659.9" stroke="#111" stroke-width="1.82"/>
<line x1="449.7" y1="662.3" x2="454.4" y2="661.8" stroke="#111" stroke-width="1.82"/>
<path d="M441.5 660.6 L436.7 663 L447.7 665.8 Z" fill="#fff" stroke="#111" stroke-width="1.95"/>
<line x1="440.2" y1="666.2" x2="448" y2="666.1" stroke="#111" stroke-width="1.56"/>
<line x1="448" y1="666.1" x2="453.1" y2="665.6" stroke="#111" stroke-width="1.82"/>
<line x1="456.4" y1="669.8" x2="461.1" y2="669.3" stroke="#111" stroke-width="1.82"/>
<path d="M448.4 666.6 L443.6 670.3 L454.2 674.9 Z" fill="#fff" stroke="#111" stroke-width="1.95"/>
<line x1="446.8" y1="675.2" x2="454.5" y2="675.4" stroke="#111" stroke-width="1.56"/>
<line x1="454.5" y1="675.4" x2="459.5" y2="674.8" stroke="#111" stroke-width="1.82"/>
<line x1="462.3" y1="680.4" x2="466.9" y2="679.8" stroke="#111" stroke-width="1.82"/>
<path d="M454.8 676 L449.7 680.8 L459.5 686.6 Z" fill="#fff" stroke="#111" stroke-width="1.95"/>
<line x1="452.3" y1="687" x2="459.8" y2="687.2" stroke="#111" stroke-width="1.56"/>
<line x1="459.8" y1="687.2" x2="464.7" y2="686.5" stroke="#111" stroke-width="1.82"/>
<line x1="466.7" y1="693" x2="471.3" y2="692.2" stroke="#111" stroke-width="1.82"/>
<path d="M460 687.9 L454.4 693.5 L463.2 699.6 Z" fill="#fff" stroke="#111" stroke-width="1.95"/>
<line x1="456.1" y1="700.1" x2="463.3" y2="700.3" stroke="#111" stroke-width="1.56"/>
<line x1="463.3" y1="700.3" x2="468.3" y2="699.5" stroke="#111" stroke-width="1.82"/>
<line x1="469.3" y1="706" x2="473.8" y2="705.2" stroke="#111" stroke-width="1.82"/>
<path d="M463.4 701 L457.2 706.8 L464.7 712.6 Z" fill="#fff" stroke="#111" stroke-width="1.95"/>
<line x1="457.8" y1="713.3" x2="464.8" y2="713.3" stroke="#111" stroke-width="1.56"/>
<line x1="464.8" y1="713.3" x2="469.7" y2="712.3" stroke="#111" stroke-width="1.82"/>
<line x1="469.6" y1="718.2" x2="474.1" y2="717.3" stroke="#111" stroke-width="1.82"/>
<path d="M464.8 713.9 L457.8 719.4 L464.1 724.1 Z" fill="#fff" stroke="#111" stroke-width="1.95"/>
<line x1="457.2" y1="725" x2="464" y2="724.6" stroke="#111" stroke-width="1.56"/>
<line x1="464" y1="724.6" x2="468.9" y2="723.6" stroke="#111" stroke-width="1.82"/>
<line x1="467.7" y1="728.3" x2="472.3" y2="727.3" stroke="#111" stroke-width="1.82"/>
<path d="M463.9 725.2 L456 729.9 L461.2 732.8 Z" fill="#fff" stroke="#111" stroke-width="1.95"/>
<line x1="454.4" y1="734" x2="461" y2="733.2" stroke="#111" stroke-width="1.56"/>
<line x1="461" y1="733.2" x2="465.9" y2="732.1" stroke="#111" stroke-width="1.82"/>
<line x1="463.7" y1="735" x2="468.3" y2="733.9" stroke="#111" stroke-width="1.82"/>
<path d="M460.8 733.5 L452.2 737.2 L456.4 737.8 Z" fill="#fff" stroke="#111" stroke-width="1.95"/>
<line x1="449.6" y1="739.3" x2="456.1" y2="738" stroke="#111" stroke-width="1.56"/>
<line x1="456.1" y1="738" x2="461.1" y2="736.9" stroke="#111" stroke-width="1.82"/>
<line x1="458.2" y1="737.7" x2="462.9" y2="736.6" stroke="#111" stroke-width="1.82"/>
<path d="M455.8 738.1 L446.7 740.3 L450.3 738.6 Z" fill="#fff" stroke="#111" stroke-width="1.95"/>
<line x1="443.5" y1="740.3" x2="450" y2="738.5" stroke="#111" stroke-width="1.56"/>
<line x1="450" y1="738.5" x2="455" y2="737.4" stroke="#111" stroke-width="1.82"/>
<line x1="451.7" y1="736.1" x2="456.4" y2="735" stroke="#111" stroke-width="1.82"/>
<path d="M449.6 738.4 L440.1 739.1 L443.5 735.1 Z" fill="#fff" stroke="#111" stroke-width="1.95"/>
<line x1="436.7" y1="736.9" x2="443.1" y2="734.8" stroke="#111" stroke-width="1.56"/>
</g>
<ellipse cx="434.9" cy="700.3" rx="18.8" ry="41.7" fill="#fff" stroke="#111" stroke-width="3.12" transform="rotate(-15 434.9 700.3)"/>
<ellipse cx="435.5" cy="700.3" rx="16.5" ry="38.4" fill="none" stroke="#111" stroke-width="1.82" transform="rotate(-15 435.5 700.3)"/>
<g stroke="#111">
<line x1="443.7" y1="727.8" x2="443.8" y2="735.2" stroke="#111" stroke-width="2.08"/>
<line x1="442.7" y1="727.7" x2="442.4" y2="735" stroke="#111" stroke-width="2.08"/>
<line x1="441.7" y1="727.4" x2="441" y2="734.7" stroke="#111" stroke-width="2.08"/>
<line x1="440.6" y1="726.9" x2="439.6" y2="734" stroke="#111" stroke-width="2.08"/>
<line x1="439.5" y1="726.2" x2="438.1" y2="733.1" stroke="#111" stroke-width="2.08"/>
<line x1="438.4" y1="725.2" x2="436.6" y2="732" stroke="#111" stroke-width="2.08"/>
<line x1="437.2" y1="724.1" x2="435.1" y2="730.6" stroke="#111" stroke-width="2.08"/>
<line x1="436.1" y1="722.8" x2="433.6" y2="729" stroke="#111" stroke-width="2.08"/>
<line x1="435" y1="721.4" x2="432.1" y2="727.2" stroke="#111" stroke-width="2.08"/>
<line x1="433.9" y1="719.7" x2="430.7" y2="725.1" stroke="#111" stroke-width="2.08"/>
<line x1="432.9" y1="718" x2="429.2" y2="722.9" stroke="#111" stroke-width="2.08"/>
<line x1="431.8" y1="716" x2="427.9" y2="720.5" stroke="#111" stroke-width="2.08"/>
<line x1="430.9" y1="714" x2="426.6" y2="717.9" stroke="#111" stroke-width="2.08"/>
<line x1="429.9" y1="711.9" x2="425.4" y2="715.3" stroke="#111" stroke-width="2.08"/>
<line x1="429.1" y1="709.7" x2="424.2" y2="712.5" stroke="#111" stroke-width="2.08"/>
<line x1="428.2" y1="707.4" x2="423.2" y2="709.6" stroke="#111" stroke-width="2.08"/>
<line x1="427.5" y1="705" x2="422.3" y2="706.6" stroke="#111" stroke-width="2.08"/>
<line x1="426.8" y1="702.6" x2="421.4" y2="703.6" stroke="#111" stroke-width="2.08"/>
<line x1="426.3" y1="700.2" x2="420.7" y2="700.6" stroke="#111" stroke-width="2.08"/>
<line x1="425.8" y1="697.8" x2="420.1" y2="697.5" stroke="#111" stroke-width="2.08"/>
<line x1="425.4" y1="695.5" x2="419.6" y2="694.5" stroke="#111" stroke-width="2.08"/>
<line x1="425" y1="693.1" x2="419.2" y2="691.5" stroke="#111" stroke-width="2.08"/>
<line x1="424.8" y1="690.8" x2="419" y2="688.6" stroke="#111" stroke-width="2.08"/>
<line x1="424.7" y1="688.6" x2="418.9" y2="685.8" stroke="#111" stroke-width="2.08"/>
<line x1="424.7" y1="686.5" x2="418.9" y2="683.1" stroke="#111" stroke-width="2.08"/>
<line x1="424.7" y1="684.5" x2="419" y2="680.5" stroke="#111" stroke-width="2.08"/>
<line x1="424.9" y1="682.6" x2="419.3" y2="678.1" stroke="#111" stroke-width="2.08"/>
<line x1="425.2" y1="680.8" x2="419.7" y2="675.8" stroke="#111" stroke-width="2.08"/>
<line x1="425.5" y1="679.2" x2="420.3" y2="673.8" stroke="#111" stroke-width="2.08"/>
<line x1="426" y1="677.7" x2="420.9" y2="671.9" stroke="#111" stroke-width="2.08"/>
<line x1="426.5" y1="676.4" x2="421.7" y2="670.2" stroke="#111" stroke-width="2.08"/>
<line x1="427.1" y1="675.3" x2="422.6" y2="668.8" stroke="#111" stroke-width="2.08"/>
<line x1="427.8" y1="674.4" x2="423.6" y2="667.6" stroke="#111" stroke-width="2.08"/>
<line x1="428.6" y1="673.7" x2="424.7" y2="666.7" stroke="#111" stroke-width="2.08"/>
<line x1="429.4" y1="673.2" x2="425.8" y2="666" stroke="#111" stroke-width="2.08"/>
<line x1="430.3" y1="672.9" x2="427.1" y2="665.6" stroke="#111" stroke-width="2.08"/>
<line x1="431.3" y1="672.8" x2="428.4" y2="665.4" stroke="#111" stroke-width="2.08"/>
<line x1="432.3" y1="672.9" x2="429.8" y2="665.6" stroke="#111" stroke-width="2.08"/>
<line x1="433.3" y1="673.2" x2="431.2" y2="665.9" stroke="#111" stroke-width="2.08"/>
<line x1="442.1" y1="699.7" x2="448" y2="697.5" stroke="#111" stroke-width="1.3"/>
<line x1="442.3" y1="700.8" x2="449.6" y2="704.7" stroke="#111" stroke-width="1.3"/>
<line x1="442.3" y1="701.8" x2="450.3" y2="711.6" stroke="#111" stroke-width="1.3"/>
<line x1="442.2" y1="702.7" x2="450.1" y2="717.7" stroke="#111" stroke-width="1.3"/>
<line x1="441.9" y1="703.5" x2="449.1" y2="722.6" stroke="#111" stroke-width="1.3"/>
<line x1="441.5" y1="704" x2="447.3" y2="726" stroke="#111" stroke-width="1.3"/>
<line x1="441" y1="704.3" x2="444.8" y2="727.7" stroke="#111" stroke-width="1.3"/>
<line x1="440.4" y1="704.3" x2="441.9" y2="727.5" stroke="#111" stroke-width="1.3"/>
<line x1="439.7" y1="704.1" x2="438.6" y2="725.4" stroke="#111" stroke-width="1.3"/>
<line x1="439.1" y1="703.6" x2="435.2" y2="721.7" stroke="#111" stroke-width="1.3"/>
<line x1="438.6" y1="702.8" x2="432" y2="716.4" stroke="#111" stroke-width="1.3"/>
<line x1="438.1" y1="701.9" x2="429.2" y2="710.1" stroke="#111" stroke-width="1.3"/>
<line x1="437.7" y1="700.9" x2="427" y2="703.1" stroke="#111" stroke-width="1.3"/>
<line x1="437.5" y1="699.8" x2="425.4" y2="695.9" stroke="#111" stroke-width="1.3"/>
<line x1="437.5" y1="698.8" x2="424.7" y2="689" stroke="#111" stroke-width="1.3"/>
<line x1="437.6" y1="697.9" x2="424.9" y2="682.9" stroke="#111" stroke-width="1.3"/>
<line x1="437.9" y1="697.1" x2="425.9" y2="678" stroke="#111" stroke-width="1.3"/>
<line x1="438.3" y1="696.6" x2="427.7" y2="674.6" stroke="#111" stroke-width="1.3"/>
<line x1="438.8" y1="696.3" x2="430.2" y2="672.9" stroke="#111" stroke-width="1.3"/>
<line x1="439.4" y1="696.3" x2="433.1" y2="673.1" stroke="#111" stroke-width="1.3"/>
<line x1="440.1" y1="696.5" x2="436.4" y2="675.2" stroke="#111" stroke-width="1.3"/>
<line x1="440.7" y1="697" x2="439.8" y2="678.9" stroke="#111" stroke-width="1.3"/>
<line x1="441.2" y1="697.8" x2="443" y2="684.2" stroke="#111" stroke-width="1.3"/>
<line x1="441.7" y1="698.7" x2="445.8" y2="690.5" stroke="#111" stroke-width="1.3"/>
</g>
<ellipse cx="436.1" cy="700.3" rx="15" ry="35.9" fill="none" stroke="#111" stroke-width="1.69" transform="rotate(-15 436.1 700.3)"/>
<ellipse cx="437.5" cy="700.3" rx="10.9" ry="28.4" fill="none" stroke="#111" stroke-width="1.69" transform="rotate(-15 437.5 700.3)"/>
<ellipse cx="438.5" cy="700.3" rx="7.5" ry="17.5" fill="none" stroke="#111" stroke-width="1.3" transform="rotate(-15 438.5 700.3)"/>
<ellipse cx="439.9" cy="700.3" rx="3" ry="5" fill="#222" stroke="#111" stroke-width="1.56" transform="rotate(-15 439.9 700.3)"/>
<path d="M475.3 693.8 L475.3 692.6 L475.5 691.5 L475.8 690.4 L476.2 689.5 L476.8 688.6 L477.4 688 L478.2 687.6 L479 687.3 L483.4 686.1 L484.2 686.1 L485.1 686.2 L485.9 686.6 L486.7 687.2 L487.4 687.9 L488.1 688.8 L488.6 689.9 L489 691 L489.3 692.2 L489.5 693.4 L489.5 694.6 L489.3 695.7 L489 696.8 L488.6 697.8 L488 698.5 L487.4 699.2 L486.6 699.6 L485.8 699.9 L481.4 701.1 L480.6 701.1 L479.7 701 L478.9 700.6 L478.1 700 L477.4 699.3 L476.7 698.4 L476.2 697.3 L475.8 696.2 L475.5 695 Z" fill="#fff" stroke="#111" stroke-width="1.82"/>
<ellipse cx="480.2" cy="694.2" rx="4.8" ry="7" fill="#fff" stroke="#111" stroke-width="2.08" transform="rotate(-10 480.2 694.2)"/>
<ellipse cx="480.5" cy="694.2" rx="2.4" ry="3.6" fill="#999" stroke="#111" stroke-width="3.12" transform="rotate(-10 480.5 694.2)"/>
<ellipse cx="501.2" cy="687" rx="2.2" ry="3.7" fill="#fff" stroke="#111" stroke-width="3.25" transform="rotate(-12 501.2 687)"/>
<ellipse cx="514.2" cy="681.8" rx="2.4" ry="2.9" fill="#fff" stroke="#111" stroke-width="3.12"/>
<ellipse cx="544.3" cy="670.2" rx="16.8" ry="34.2" fill="#fff" stroke="#111" stroke-width="3.25" transform="rotate(-14 544.3 670.2)"/>
<ellipse cx="543.5" cy="670.2" rx="14.1" ry="30.1" fill="none" stroke="#111" stroke-width="1.56" transform="rotate(-14 543.5 670.2)"/>
<g stroke="#111" fill="none" stroke-linejoin="round">
<path d="M546.8 668.3 L560 665.7 L561.8 675.8 L547.7 673.9 Z" fill="#fff" stroke="#111" stroke-width="2.21"/>
<line x1="548.2" y1="671.8" x2="559" y2="671.9" stroke="#111" stroke-width="1.56"/>
<line x1="551.3" y1="669.7" x2="558.4" y2="668.3" stroke="#111" stroke-width="2.86"/>
<path d="M547.5 676 L561.2 689.7 L558.8 696.8 L545.7 680 Z" fill="#fff" stroke="#111" stroke-width="2.21"/>
<line x1="547.3" y1="679.6" x2="558.1" y2="692.2" stroke="#111" stroke-width="1.56"/>
<path d="M544.6 680.8 L552.6 702.3 L547.4 702.1 L541.2 680.9 Z" fill="#fff" stroke="#111" stroke-width="2.21"/>
<line x1="542.8" y1="682.6" x2="549.1" y2="699.6" stroke="#111" stroke-width="1.56"/>
<line x1="545.4" y1="689.9" x2="550.9" y2="699.5" stroke="#111" stroke-width="2.86"/>
<path d="M539.8 680 L539.1 696.1 L534.1 688.8 L536.7 676.1 Z" fill="#fff" stroke="#111" stroke-width="2.21"/>
<line x1="537.5" y1="678.9" x2="537.3" y2="689.7" stroke="#111" stroke-width="1.56"/>
<path d="M535.8 674.1 L528.6 674.7 L526.8 664.6 L534.9 668.5 Z" fill="#fff" stroke="#111" stroke-width="2.21"/>
<line x1="534.4" y1="670.6" x2="529.6" y2="668.5" stroke="#111" stroke-width="1.56"/>
<line x1="531.3" y1="672.7" x2="530.2" y2="672.1" stroke="#111" stroke-width="2.86"/>
<path d="M535.1 666.4 L527.4 650.7 L529.8 643.6 L536.9 662.4 Z" fill="#fff" stroke="#111" stroke-width="2.21"/>
<line x1="535.3" y1="662.8" x2="530.5" y2="648.2" stroke="#111" stroke-width="1.56"/>
<path d="M538 661.6 L536 638.1 L541.2 638.3 L541.4 661.5 Z" fill="#fff" stroke="#111" stroke-width="2.21"/>
<line x1="539.8" y1="659.8" x2="539.5" y2="640.8" stroke="#111" stroke-width="1.56"/>
<line x1="537.2" y1="652.5" x2="537.7" y2="640.9" stroke="#111" stroke-width="2.86"/>
<path d="M542.8 662.4 L549.5 644.3 L554.5 651.6 L545.9 666.3 Z" fill="#fff" stroke="#111" stroke-width="2.21"/>
<line x1="545.1" y1="663.5" x2="551.3" y2="650.7" stroke="#111" stroke-width="1.56"/>
</g>
<ellipse cx="541.3" cy="671.2" rx="9.7" ry="17.8" fill="none" stroke="#111" stroke-width="1.56" transform="rotate(-14 541.3 671.2)"/>
<ellipse cx="541.3" cy="671.2" rx="7.1" ry="11.6" fill="#151515" stroke="#111" stroke-width="2.08" transform="rotate(-14 541.3 671.2)"/>
<path d="M545.8 672.6 L543.5 674.6 L541.8 677.8 L539.9 673.4 L537.4 669.8 L539.7 667.8 L541.4 664.6 L543.3 669 Z" fill="#fff" stroke="none" stroke-width="0.0"/>
<path d="M580.6 644.3 C585.7 645.4 590.2 656 591.4 668 C591.9 673.6 588.3 677 584.9 673.3 C583.3 671.4 581.4 670.7 579.5 670.2 C575.3 668.8 572.7 661.1 573.2 654.4 C573.5 651.9 576.3 651 577.5 649.1 C577.8 646.6 578.9 644.7 580.6 644.3 Z" fill="#fff" stroke="#111" stroke-width="2.47"/>
<path d="M580.6 644.3 C585.7 645.4 590.2 656 591.4 668 C591.9 673.6 588.3 677 584.9 673.3 L585.7 666.3 L588.3 664.6 L587.6 657.7 L585.4 656 L584 652.6 L579.9 651.9 L577.7 648.8 Z" fill="#222" stroke="#111" stroke-width="1.3"/>
<path d="M583 654.3 L585.7 656.8 L586.7 664.6 L584.5 666.3 L582.5 660.3 Z" fill="#fff" stroke="#111" stroke-width="1.3"/>
<path d="M579.9 651.9 C581.4 657.7 582.5 664.6 581.4 670.6" fill="none" stroke="#111" stroke-width="1.82"/>
<ellipse cx="575.6" cy="657" rx="1" ry="1.1" fill="#111" stroke="none" stroke-width="0.0"/>
<ellipse cx="577.7" cy="662.7" rx="1" ry="1.1" fill="#111" stroke="none" stroke-width="0.0"/>
<ellipse cx="581.4" cy="648.3" rx="0.7" ry="0.7" fill="#ddd" stroke="none" stroke-width="0.0"/>
<ellipse cx="584.9" cy="650.8" rx="0.7" ry="0.7" fill="#ddd" stroke="none" stroke-width="0.0"/>
<ellipse cx="587.4" cy="670.6" rx="0.7" ry="0.7" fill="#ddd" stroke="none" stroke-width="0.0"/>
<ellipse cx="585.7" cy="672.3" rx="0.7" ry="0.7" fill="#ddd" stroke="none" stroke-width="0.0"/>
<path d="M241.6 744.9 L252.6 745.9 C254.6 746.1 255.6 746.7 257.2 747.5 L387.8 815.1 C390.8 816.7 392 818.7 393.3 821.1 L405.6 841.2 L401.2 844.7 L388.7 824 C387.7 822.2 386.9 820.8 385.1 819.8 L254.6 752.3 C253.4 751.7 252.4 751.3 251.2 751.3 L241.2 750.5 Z" fill="#fff" stroke="#111" stroke-width="2.08"/>
<ellipse cx="241.6" cy="747.7" rx="1.5" ry="2.7" fill="#555" stroke="#111" stroke-width="1.69"/>
<ellipse cx="403.4" cy="843" rx="2.7" ry="1.6" fill="#bbb" stroke="#111" stroke-width="1.56" transform="rotate(-35 403.4 843)"/>
<line x1="311" y1="775.6" x2="308.6" y2="780" stroke="#111" stroke-width="2.08"/>
<path d="M245.6 733.4 L246.4 741.6" fill="none" stroke="#111" stroke-width="2.86" stroke-linecap="round"/>
<ellipse cx="245.6" cy="733.2" rx="1.3" ry="1.1" fill="#111" stroke="#111" stroke-width="1.3"/>
<path d="M410 826.4 L410.6 832.6" fill="none" stroke="#111" stroke-width="3.38" stroke-linecap="round"/>
<path d="M394.7 869.2 L394.8 867.5 L395 865.9 L395.5 864.5 L396.1 863.2 L396.9 862.2 L397.8 861.5 L398.9 861.1 L401.7 860.3 L402.8 860.2 L404 860.4 L405.1 860.9 L406.3 861.7 L407.3 862.7 L408.3 864 L409.2 865.5 L409.9 867.1 L410.4 868.9 L410.8 870.6 L410.9 872.4 L410.8 874.1 L410.6 875.7 L410.1 877.1 L409.5 878.4 L408.7 879.4 L407.8 880.1 L406.7 880.5 L403.9 881.3 L402.8 881.4 L401.6 881.2 L400.5 880.7 L399.3 879.9 L398.3 878.9 L397.3 877.6 L396.4 876.1 L395.7 874.5 L395.2 872.8 L394.9 871 Z" fill="#fff" stroke="#111" stroke-width="1.95"/>
<ellipse cx="401.4" cy="871.2" rx="6.4" ry="10.4" fill="#fff" stroke="#111" stroke-width="2.34" transform="rotate(-14 401.4 871.2)"/>
<ellipse cx="401.8" cy="871" rx="4.8" ry="8.2" fill="#fff" stroke="#111" stroke-width="1.69" transform="rotate(-14 401.8 871)"/>
<ellipse cx="402.2" cy="870.8" rx="3.4" ry="6.2" fill="#fff" stroke="#111" stroke-width="1.69" transform="rotate(-14 402.2 870.8)"/>
<ellipse cx="402.4" cy="870.6" rx="1.9" ry="4" fill="#333" stroke="#111" stroke-width="1.82" transform="rotate(-14 402.4 870.6)"/>
<path d="M419.4 861.9 L419.4 860.8 L419.6 859.6 L419.9 858.6 L420.4 857.6 L421 856.9 L421.7 856.2 L422.6 855.8 L424.9 855 L425.8 854.7 L426.7 854.6 L427.6 854.8 L428.5 855.1 L429.4 855.7 L430.2 856.4 L430.8 857.3 L431.4 858.3 L431.8 859.4 L432.1 860.5 L432.2 861.7 L432.2 862.8 L432 864 L431.7 865 L431.2 866 L430.6 866.8 L429.9 867.4 L429.1 867.8 L426.6 868.6 L425.8 868.9 L424.9 869 L424 868.8 L423.1 868.5 L422.2 867.9 L421.4 867.2 L420.8 866.3 L420.2 865.3 L419.8 864.2 L419.5 863.1 Z" fill="#fff" stroke="#111" stroke-width="1.95"/>
<ellipse cx="424.6" cy="862.2" rx="5.2" ry="6.8" fill="#151515" stroke="#111" stroke-width="1.82" transform="rotate(-10 424.6 862.2)"/>
<ellipse cx="424.2" cy="862.2" rx="1.6" ry="2.3" fill="#fff" stroke="none" stroke-width="0.0" transform="rotate(-10 424.2 862.2)"/>
<path d="M443.2 822.4 L443.2 819.8 L443.4 817.4 L443.7 815.1 L444.1 813.1 L444.7 811.3 L445.4 809.7 L446.2 808.4 L447.1 807.3 L448.2 806.5 L449.3 806 L450.5 805.7 L470.2 804.4 L471.5 804.4 L472.8 804.7 L474.2 805.3 L475.7 806.1 L477.2 807.2 L478.7 808.6 L480.2 810.2 L481.7 812 L483.2 814 L484.7 816.2 L486.2 818.7 L487.6 821.2 L489 824 L490.3 826.8 L491.5 829.7 L492.6 832.8 L493.7 835.8 L494.7 839 L495.5 842.1 L496.2 845.2 L496.9 848.2 L497.4 851.2 L497.7 854.2 L497.9 857 L498.1 859.7 L498 862.2 L497.9 864.6 L497.6 866.8 L497.1 868.7 L496.6 870.5 L495.9 872 L495.1 873.3 L494.2 874.3 L493.2 875.1 L492.1 875.6 L490.9 875.9 L471.9 879.5 L470.6 879.4 L469.2 879.1 L467.8 878.5 L466.3 877.6 L464.8 876.5 L463.2 875.1 L461.6 873.5 L460.1 871.6 L458.5 869.5 L457 867.2 L455.4 864.7 L454 862 L452.6 859.2 L451.2 856.3 L450 853.3 L448.8 850.2 L447.7 847 L446.7 843.8 L445.8 840.6 L445.1 837.4 L444.4 834.2 L443.9 831.1 L443.6 828.1 L443.3 825.2 Z" fill="#fff" stroke="#111" stroke-width="2.6"/>
<g stroke="#111" fill="none" stroke-linejoin="round">
<path d="M447.1 810.1 L447.7 809 L448.4 808 L449.1 807.2 L449.9 806.5 L450.8 806 L451.8 805.7 L452.8 805.6 L453.8 805.6 L454.9 805.9 L456 806.3 L457.2 806.9 L458.4 807.6 L459.6 808.5 L460.8 809.6 L462.1 810.9 L463.3 812.3 L464.6 813.8 L465.8 815.5 L467.1 817.4 L468.3 819.3 L469.5 821.3 L470.6 823.5 L471.7 825.8 L472.8 828.1 L473.8 830.5 L474.8 832.9 L475.7 835.4 L476.6 838 L477.4 840.5 L478.1 843.1 L478.8 845.7 L479.4 848.2 L479.8 850.7 L480.3 853.2 L480.6 855.6 L480.8 858 L481 860.3 L481.1 862.5 L481.1 864.6 L481 866.6 L480.8 868.4 L480.5 870.2 L480.1 871.8 L479.7 873.2 L479.2 874.6 L478.6 875.7 L477.9 876.7 L477.2 877.5 L476.3 878.2 L475.5 878.7 L474.5 879 L473.5 879.1 L472.5 879.1 L471.4 878.8 L470.3 878.4 L469.1 877.8" fill="none" stroke="#111" stroke-width="1.3"/>
<path d="M454.7 809.6 L455.2 808.4 L455.9 807.4 L456.7 806.6 L457.5 806 L458.3 805.5 L459.3 805.2 L460.2 805.1 L461.3 805.1 L462.4 805.3 L463.5 805.7 L464.6 806.3 L465.8 807.1 L467 808 L468.2 809.1 L469.5 810.3 L470.7 811.7 L471.9 813.2 L473.2 814.9 L474.4 816.7 L475.6 818.6 L476.8 820.6 L477.9 822.8 L479 825 L480.1 827.3 L481.1 829.7 L482.1 832.1 L483 834.6 L483.8 837.1 L484.6 839.6 L485.3 842.1 L486 844.7 L486.5 847.2 L487 849.7 L487.4 852.1 L487.8 854.5 L488 856.9 L488.2 859.1 L488.2 861.3 L488.2 863.4 L488.1 865.3 L487.9 867.2 L487.7 868.9 L487.3 870.5 L486.9 871.9 L486.4 873.2 L485.8 874.4 L485.1 875.4 L484.4 876.2 L483.6 876.8 L482.7 877.3 L481.8 877.6 L480.8 877.7 L479.7 877.7 L478.7 877.5 L477.6 877.1 L476.4 876.5" fill="none" stroke="#111" stroke-width="1.82"/>
<path d="M460 809.1 L460.6 808 L461.3 807 L462 806.2 L462.8 805.6 L463.7 805.1 L464.6 804.8 L465.6 804.7 L466.6 804.7 L467.7 805 L468.8 805.4 L469.9 805.9 L471.1 806.7 L472.3 807.6 L473.5 808.7 L474.7 809.9 L475.9 811.3 L477.2 812.8 L478.4 814.4 L479.6 816.2 L480.8 818.1 L481.9 820.1 L483.1 822.2 L484.2 824.5 L485.2 826.7 L486.2 829.1 L487.2 831.5 L488.1 833.9 L489 836.4 L489.7 838.9 L490.4 841.5 L491.1 844 L491.6 846.5 L492.1 848.9 L492.5 851.4 L492.9 853.7 L493.1 856.1 L493.3 858.3 L493.3 860.4 L493.3 862.5 L493.2 864.5 L493 866.3 L492.8 868 L492.4 869.6 L492 871 L491.5 872.3 L490.9 873.4 L490.2 874.4 L489.5 875.2 L488.7 875.9 L487.8 876.3 L486.9 876.6 L485.9 876.8 L484.9 876.7 L483.8 876.5 L482.7 876.1 L481.6 875.5" fill="none" stroke="#111" stroke-width="1.69"/>
<line x1="455.7" y1="807.7" x2="461.1" y2="807.3" stroke="#111" stroke-width="1.82"/>
<line x1="462.9" y1="805.5" x2="467.9" y2="805.2" stroke="#111" stroke-width="1.82"/>
<path d="M455.9 807.4 L449.6 806.7 L459.5 805.1 Z" fill="#fff" stroke="#111" stroke-width="1.95"/>
<line x1="451.8" y1="805.7" x2="459.7" y2="805.1" stroke="#111" stroke-width="1.56"/>
<line x1="459.7" y1="805.1" x2="465.1" y2="804.7" stroke="#111" stroke-width="1.82"/>
<line x1="467.5" y1="804.9" x2="472.4" y2="804.6" stroke="#111" stroke-width="1.82"/>
<path d="M460 805.1 L454.2 805.7 L464.6 806.3 Z" fill="#fff" stroke="#111" stroke-width="1.95"/>
<line x1="456.9" y1="806.7" x2="464.9" y2="806.5" stroke="#111" stroke-width="1.56"/>
<line x1="464.9" y1="806.5" x2="470.2" y2="806.1" stroke="#111" stroke-width="1.82"/>
<line x1="473" y1="808.2" x2="477.9" y2="807.9" stroke="#111" stroke-width="1.82"/>
<path d="M465.2 806.7 L459.8 808.7 L470.4 811.3 Z" fill="#fff" stroke="#111" stroke-width="1.95"/>
<line x1="462.7" y1="811.6" x2="470.7" y2="811.7" stroke="#111" stroke-width="1.56"/>
<line x1="470.7" y1="811.7" x2="475.9" y2="811.3" stroke="#111" stroke-width="1.82"/>
<line x1="478.8" y1="815.1" x2="483.7" y2="814.7" stroke="#111" stroke-width="1.82"/>
<path d="M471 812.1 L465.7 815.4 L476.2 819.6 Z" fill="#fff" stroke="#111" stroke-width="1.95"/>
<line x1="468.6" y1="819.8" x2="476.5" y2="820.1" stroke="#111" stroke-width="1.56"/>
<line x1="476.5" y1="820.1" x2="481.7" y2="819.6" stroke="#111" stroke-width="1.82"/>
<line x1="484.3" y1="824.7" x2="489.1" y2="824.2" stroke="#111" stroke-width="1.82"/>
<path d="M476.8 820.6 L471.3 825 L481.3 830.3 Z" fill="#fff" stroke="#111" stroke-width="1.95"/>
<line x1="473.9" y1="830.5" x2="481.6" y2="830.9" stroke="#111" stroke-width="1.56"/>
<line x1="481.6" y1="830.9" x2="486.7" y2="830.3" stroke="#111" stroke-width="1.82"/>
<line x1="488.8" y1="836.1" x2="493.6" y2="835.5" stroke="#111" stroke-width="1.82"/>
<path d="M481.8 831.5 L476.1 836.5 L485.3 842.1 Z" fill="#fff" stroke="#111" stroke-width="1.95"/>
<line x1="478" y1="842.5" x2="485.5" y2="842.8" stroke="#111" stroke-width="1.56"/>
<line x1="485.5" y1="842.8" x2="490.6" y2="842.1" stroke="#111" stroke-width="1.82"/>
<line x1="492" y1="848" x2="496.7" y2="847.3" stroke="#111" stroke-width="1.82"/>
<path d="M485.7 843.4 L479.4 848.6 L487.7 853.9 Z" fill="#fff" stroke="#111" stroke-width="1.95"/>
<line x1="480.4" y1="854.5" x2="487.8" y2="854.5" stroke="#111" stroke-width="1.56"/>
<line x1="487.8" y1="854.5" x2="492.9" y2="853.7" stroke="#111" stroke-width="1.82"/>
<line x1="493.3" y1="859.1" x2="498" y2="858.3" stroke="#111" stroke-width="1.82"/>
<path d="M487.8 855.1 L481 860 L488.2 864.4 Z" fill="#fff" stroke="#111" stroke-width="1.95"/>
<line x1="481" y1="865.1" x2="488.2" y2="864.8" stroke="#111" stroke-width="1.56"/>
<line x1="488.2" y1="864.8" x2="493.3" y2="864" stroke="#111" stroke-width="1.82"/>
<line x1="492.7" y1="868.2" x2="497.5" y2="867.4" stroke="#111" stroke-width="1.82"/>
<path d="M488.1 865.3 L480.6 869.6 L486.8 872.3 Z" fill="#fff" stroke="#111" stroke-width="1.95"/>
<line x1="479.7" y1="873.3" x2="486.6" y2="872.6" stroke="#111" stroke-width="1.56"/>
<line x1="486.6" y1="872.6" x2="491.7" y2="871.7" stroke="#111" stroke-width="1.82"/>
<line x1="490.3" y1="874.3" x2="495.1" y2="873.4" stroke="#111" stroke-width="1.82"/>
<path d="M486.5 872.9 L478.3 876.1 L483.6 876.8 Z" fill="#fff" stroke="#111" stroke-width="1.95"/>
<line x1="476.5" y1="878.1" x2="483.4" y2="877" stroke="#111" stroke-width="1.56"/>
<line x1="483.4" y1="877" x2="488.5" y2="876" stroke="#111" stroke-width="1.82"/>
<line x1="486.3" y1="876.7" x2="491.1" y2="875.8" stroke="#111" stroke-width="1.82"/>
<path d="M483.1 877.1 L474.4 879 L478.9 877.5 Z" fill="#fff" stroke="#111" stroke-width="1.95"/>
<line x1="471.9" y1="879" x2="478.7" y2="877.5" stroke="#111" stroke-width="1.56"/>
<line x1="478.7" y1="877.5" x2="483.8" y2="876.5" stroke="#111" stroke-width="1.82"/>
<line x1="481.2" y1="875.3" x2="486" y2="874.4" stroke="#111" stroke-width="1.82"/>
<path d="M478.4 877.4 L469.2 877.9 L473.4 874.3 Z" fill="#fff" stroke="#111" stroke-width="1.95"/>
<line x1="466.3" y1="875.9" x2="473.1" y2="874" stroke="#111" stroke-width="1.56"/>
</g>
<ellipse cx="461.2" cy="842.6" rx="14.2" ry="38.5" fill="#fff" stroke="#111" stroke-width="3.12" transform="rotate(-18 461.2 842.6)"/>
<ellipse cx="461.8" cy="842.6" rx="12.5" ry="35.4" fill="none" stroke="#111" stroke-width="1.82" transform="rotate(-18 461.8 842.6)"/>
<g stroke="#111">
<line x1="471" y1="867.6" x2="471.4" y2="874.3" stroke="#111" stroke-width="2.08"/>
<line x1="470.2" y1="867.5" x2="470.4" y2="874.2" stroke="#111" stroke-width="2.08"/>
<line x1="469.4" y1="867.2" x2="469.3" y2="873.8" stroke="#111" stroke-width="2.08"/>
<line x1="468.5" y1="866.8" x2="468.1" y2="873.3" stroke="#111" stroke-width="2.08"/>
<line x1="467.6" y1="866.1" x2="466.9" y2="872.4" stroke="#111" stroke-width="2.08"/>
<line x1="466.7" y1="865.3" x2="465.6" y2="871.4" stroke="#111" stroke-width="2.08"/>
<line x1="465.7" y1="864.2" x2="464.3" y2="870.1" stroke="#111" stroke-width="2.08"/>
<line x1="464.8" y1="863.1" x2="463" y2="868.7" stroke="#111" stroke-width="2.08"/>
<line x1="463.8" y1="861.7" x2="461.7" y2="867" stroke="#111" stroke-width="2.08"/>
<line x1="462.8" y1="860.2" x2="460.4" y2="865.1" stroke="#111" stroke-width="2.08"/>
<line x1="461.8" y1="858.6" x2="459.2" y2="863.1" stroke="#111" stroke-width="2.08"/>
<line x1="460.9" y1="856.9" x2="457.9" y2="860.9" stroke="#111" stroke-width="2.08"/>
<line x1="459.9" y1="855.1" x2="456.7" y2="858.6" stroke="#111" stroke-width="2.08"/>
<line x1="459" y1="853.1" x2="455.5" y2="856.2" stroke="#111" stroke-width="2.08"/>
<line x1="458.2" y1="851.1" x2="454.4" y2="853.6" stroke="#111" stroke-width="2.08"/>
<line x1="457.3" y1="849" x2="453.3" y2="851" stroke="#111" stroke-width="2.08"/>
<line x1="456.6" y1="846.9" x2="452.3" y2="848.3" stroke="#111" stroke-width="2.08"/>
<line x1="455.8" y1="844.7" x2="451.4" y2="845.6" stroke="#111" stroke-width="2.08"/>
<line x1="455.2" y1="842.5" x2="450.6" y2="842.8" stroke="#111" stroke-width="2.08"/>
<line x1="454.6" y1="840.3" x2="449.8" y2="840" stroke="#111" stroke-width="2.08"/>
<line x1="454" y1="838.2" x2="449.2" y2="837.3" stroke="#111" stroke-width="2.08"/>
<line x1="453.6" y1="836.1" x2="448.6" y2="834.6" stroke="#111" stroke-width="2.08"/>
<line x1="453.2" y1="834" x2="448.2" y2="832" stroke="#111" stroke-width="2.08"/>
<line x1="452.9" y1="832" x2="447.9" y2="829.4" stroke="#111" stroke-width="2.08"/>
<line x1="452.7" y1="830" x2="447.6" y2="826.9" stroke="#111" stroke-width="2.08"/>
<line x1="452.6" y1="828.2" x2="447.5" y2="824.6" stroke="#111" stroke-width="2.08"/>
<line x1="452.5" y1="826.5" x2="447.5" y2="822.4" stroke="#111" stroke-width="2.08"/>
<line x1="452.6" y1="824.9" x2="447.6" y2="820.3" stroke="#111" stroke-width="2.08"/>
<line x1="452.7" y1="823.4" x2="447.9" y2="818.5" stroke="#111" stroke-width="2.08"/>
<line x1="452.9" y1="822.1" x2="448.2" y2="816.8" stroke="#111" stroke-width="2.08"/>
<line x1="453.2" y1="820.9" x2="448.7" y2="815.3" stroke="#111" stroke-width="2.08"/>
<line x1="453.6" y1="819.9" x2="449.2" y2="814" stroke="#111" stroke-width="2.08"/>
<line x1="454.1" y1="819.1" x2="449.9" y2="812.9" stroke="#111" stroke-width="2.08"/>
<line x1="454.6" y1="818.4" x2="450.6" y2="812" stroke="#111" stroke-width="2.08"/>
<line x1="455.2" y1="817.9" x2="451.4" y2="811.4" stroke="#111" stroke-width="2.08"/>
<line x1="455.8" y1="817.7" x2="452.4" y2="811.1" stroke="#111" stroke-width="2.08"/>
<line x1="456.6" y1="817.6" x2="453.4" y2="810.9" stroke="#111" stroke-width="2.08"/>
<line x1="457.4" y1="817.7" x2="454.4" y2="811" stroke="#111" stroke-width="2.08"/>
<line x1="458.2" y1="818" x2="455.5" y2="811.4" stroke="#111" stroke-width="2.08"/>
<line x1="467.8" y1="842.1" x2="471.6" y2="840.1" stroke="#111" stroke-width="1.3"/>
<line x1="468.1" y1="843" x2="473.5" y2="846.6" stroke="#111" stroke-width="1.3"/>
<line x1="468.2" y1="844" x2="474.6" y2="852.8" stroke="#111" stroke-width="1.3"/>
<line x1="468.2" y1="844.8" x2="475.1" y2="858.4" stroke="#111" stroke-width="1.3"/>
<line x1="468" y1="845.5" x2="474.7" y2="862.9" stroke="#111" stroke-width="1.3"/>
<line x1="467.8" y1="846" x2="473.6" y2="866" stroke="#111" stroke-width="1.3"/>
<line x1="467.4" y1="846.3" x2="471.9" y2="867.5" stroke="#111" stroke-width="1.3"/>
<line x1="466.9" y1="846.3" x2="469.6" y2="867.3" stroke="#111" stroke-width="1.3"/>
<line x1="466.4" y1="846" x2="466.9" y2="865.4" stroke="#111" stroke-width="1.3"/>
<line x1="465.9" y1="845.6" x2="464" y2="862" stroke="#111" stroke-width="1.3"/>
<line x1="465.4" y1="844.9" x2="461.1" y2="857.3" stroke="#111" stroke-width="1.3"/>
<line x1="464.9" y1="844.1" x2="458.3" y2="851.5" stroke="#111" stroke-width="1.3"/>
<line x1="464.6" y1="843.1" x2="456" y2="845.1" stroke="#111" stroke-width="1.3"/>
<line x1="464.3" y1="842.2" x2="454.1" y2="838.6" stroke="#111" stroke-width="1.3"/>
<line x1="464.2" y1="841.2" x2="453" y2="832.4" stroke="#111" stroke-width="1.3"/>
<line x1="464.2" y1="840.4" x2="452.5" y2="826.8" stroke="#111" stroke-width="1.3"/>
<line x1="464.4" y1="839.7" x2="452.9" y2="822.3" stroke="#111" stroke-width="1.3"/>
<line x1="464.6" y1="839.2" x2="454" y2="819.2" stroke="#111" stroke-width="1.3"/>
<line x1="465" y1="838.9" x2="455.7" y2="817.7" stroke="#111" stroke-width="1.3"/>
<line x1="465.5" y1="838.9" x2="458" y2="817.9" stroke="#111" stroke-width="1.3"/>
<line x1="466" y1="839.2" x2="460.7" y2="819.8" stroke="#111" stroke-width="1.3"/>
<line x1="466.5" y1="839.6" x2="463.6" y2="823.2" stroke="#111" stroke-width="1.3"/>
<line x1="467" y1="840.3" x2="466.5" y2="827.9" stroke="#111" stroke-width="1.3"/>
<line x1="467.5" y1="841.1" x2="469.3" y2="833.7" stroke="#111" stroke-width="1.3"/>
</g>
<ellipse cx="462.4" cy="842.6" rx="11.4" ry="33.1" fill="none" stroke="#111" stroke-width="1.69" transform="rotate(-18 462.4 842.6)"/>
<ellipse cx="463.8" cy="842.6" rx="8.2" ry="26.2" fill="none" stroke="#111" stroke-width="1.69" transform="rotate(-18 463.8 842.6)"/>
<ellipse cx="464.8" cy="842.6" rx="5.7" ry="16.2" fill="none" stroke="#111" stroke-width="1.3" transform="rotate(-18 464.8 842.6)"/>
<ellipse cx="466.2" cy="842.6" rx="2.3" ry="4.6" fill="#222" stroke="#111" stroke-width="1.56" transform="rotate(-18 466.2 842.6)"/>
<path d="M499.8 828.3 L499.8 827.2 L499.9 826.1 L500.2 825.1 L500.7 824.2 L501.2 823.4 L501.9 822.8 L502.6 822.3 L505.2 821.5 L506.1 821.3 L506.9 821.2 L507.7 821.4 L508.6 821.8 L509.4 822.3 L510.1 823 L510.7 823.8 L511.2 824.8 L511.7 825.9 L511.9 827 L512 828.1 L512 829.2 L511.9 830.3 L511.6 831.3 L511.1 832.2 L510.6 833 L509.9 833.6 L509.1 834.1 L506.6 834.9 L505.8 835.1 L504.9 835.1 L504.1 835 L503.2 834.6 L502.4 834.1 L501.7 833.4 L501.1 832.6 L500.6 831.6 L500.1 830.5 L499.9 829.4 Z" fill="#fff" stroke="#111" stroke-width="1.95"/>
<ellipse cx="504.6" cy="828.6" rx="4.8" ry="6.6" fill="#151515" stroke="#111" stroke-width="1.82" transform="rotate(-10 504.6 828.6)"/>
<ellipse cx="504.2" cy="828.6" rx="1.4" ry="2.2" fill="#fff" stroke="none" stroke-width="0.0" transform="rotate(-10 504.2 828.6)"/>
<ellipse cx="519.4" cy="823.6" rx="2.1" ry="3.4" fill="#fff" stroke="#111" stroke-width="3.12" transform="rotate(-12 519.4 823.6)"/>
<ellipse cx="528.2" cy="818.9" rx="2.3" ry="2.7" fill="#fff" stroke="#111" stroke-width="2.99"/>
<ellipse cx="553.3" cy="806.4" rx="16.6" ry="34" fill="#fff" stroke="#111" stroke-width="3.25" transform="rotate(-15 553.3 806.4)"/>
<ellipse cx="552.5" cy="806.4" rx="13.9" ry="29.9" fill="none" stroke="#111" stroke-width="1.56" transform="rotate(-15 552.5 806.4)"/>
<g stroke="#111" fill="none" stroke-linejoin="round">
<path d="M555.6 804.5 L568.7 801.7 L570.7 811.7 L556.6 810 Z" fill="#fff" stroke="#111" stroke-width="2.21"/>
<line x1="557.2" y1="807.8" x2="567.9" y2="807.9" stroke="#111" stroke-width="1.56"/>
<line x1="560.2" y1="805.8" x2="567.2" y2="804.3" stroke="#111" stroke-width="2.86"/>
<path d="M556.5 812.1 L570.4 825.5 L568.1 832.6 L554.8 816.1 Z" fill="#fff" stroke="#111" stroke-width="2.21"/>
<line x1="556.4" y1="815.7" x2="567.4" y2="828" stroke="#111" stroke-width="1.56"/>
<path d="M553.7 816.9 L562.1 838.2 L556.9 838.1 L550.3 817 Z" fill="#fff" stroke="#111" stroke-width="2.21"/>
<line x1="552" y1="818.7" x2="558.6" y2="835.5" stroke="#111" stroke-width="1.56"/>
<line x1="554.7" y1="825.9" x2="560.3" y2="835.4" stroke="#111" stroke-width="2.86"/>
<path d="M549 816.2 L548.6 832.2 L543.6 825 L545.8 812.3 Z" fill="#fff" stroke="#111" stroke-width="2.21"/>
<line x1="546.7" y1="815.1" x2="546.7" y2="825.9" stroke="#111" stroke-width="1.56"/>
<path d="M545 810.3 L537.9 811.1 L535.9 801.1 L544 804.8 Z" fill="#fff" stroke="#111" stroke-width="2.21"/>
<line x1="543.4" y1="807" x2="538.7" y2="804.9" stroke="#111" stroke-width="1.56"/>
<line x1="540.4" y1="809" x2="539.4" y2="808.5" stroke="#111" stroke-width="2.86"/>
<path d="M544.1 802.7 L536.2 787.3 L538.5 780.2 L545.8 798.7 Z" fill="#fff" stroke="#111" stroke-width="2.21"/>
<line x1="544.2" y1="799.1" x2="539.2" y2="784.8" stroke="#111" stroke-width="1.56"/>
<path d="M546.9 797.9 L544.5 774.6 L549.7 774.7 L550.3 797.8 Z" fill="#fff" stroke="#111" stroke-width="2.21"/>
<line x1="548.6" y1="796.1" x2="548" y2="777.3" stroke="#111" stroke-width="1.56"/>
<line x1="545.9" y1="788.9" x2="546.3" y2="777.4" stroke="#111" stroke-width="2.86"/>
<path d="M551.6 798.6 L558 780.6 L563 787.8 L554.8 802.5 Z" fill="#fff" stroke="#111" stroke-width="2.21"/>
<line x1="553.9" y1="799.7" x2="559.9" y2="786.9" stroke="#111" stroke-width="1.56"/>
</g>
<ellipse cx="550.3" cy="807.4" rx="9.6" ry="17.7" fill="none" stroke="#111" stroke-width="1.56" transform="rotate(-15 550.3 807.4)"/>
<ellipse cx="550.3" cy="807.4" rx="7" ry="11.6" fill="#151515" stroke="#111" stroke-width="2.08" transform="rotate(-15 550.3 807.4)"/>
<path d="M554.8 808.7 L552.5 810.7 L550.9 813.9 L549 809.6 L546.4 806.1 L548.7 804.1 L550.3 800.9 L552.2 805.2 Z" fill="#fff" stroke="none" stroke-width="0.0"/>
<path d="M584.2 781.9 C589.3 783 593.8 793.6 595 805.6 C595.5 811.2 591.9 814.6 588.5 810.9 C586.9 809 585 808.3 583.1 807.8 C578.9 806.4 576.3 798.7 576.8 792 C577.1 789.5 579.9 788.6 581.1 786.7 C581.4 784.2 582.5 782.3 584.2 781.9 Z" fill="#fff" stroke="#111" stroke-width="2.47"/>
<path d="M584.2 781.9 C589.3 783 593.8 793.6 595 805.6 C595.5 811.2 591.9 814.6 588.5 810.9 L589.3 803.9 L591.9 802.2 L591.2 795.3 L589 793.6 L587.6 790.2 L583.5 789.5 L581.3 786.4 Z" fill="#222" stroke="#111" stroke-width="1.3"/>
<path d="M586.6 791.9 L589.3 794.4 L590.3 802.2 L588.1 803.9 L586.1 797.9 Z" fill="#fff" stroke="#111" stroke-width="1.3"/>
<path d="M583.5 789.5 C585 795.3 586.1 802.2 585 808.2" fill="none" stroke="#111" stroke-width="1.82"/>
<ellipse cx="579.2" cy="794.6" rx="1" ry="1.1" fill="#111" stroke="none" stroke-width="0.0"/>
<ellipse cx="581.3" cy="800.3" rx="1" ry="1.1" fill="#111" stroke="none" stroke-width="0.0"/>
<ellipse cx="585" cy="785.9" rx="0.7" ry="0.7" fill="#ddd" stroke="none" stroke-width="0.0"/>
<ellipse cx="588.5" cy="788.4" rx="0.7" ry="0.7" fill="#ddd" stroke="none" stroke-width="0.0"/>
<ellipse cx="591" cy="808.2" rx="0.7" ry="0.7" fill="#ddd" stroke="none" stroke-width="0.0"/>
<ellipse cx="589.3" cy="809.9" rx="0.7" ry="0.7" fill="#ddd" stroke="none" stroke-width="0.0"/>
<line x1="246.2" y1="42" x2="268.3" y2="42.7" stroke="#111" stroke-width="1.44"/>
<path d="M277.8 43 L267.2 45.1 L267.4 40.3 Z" fill="#111" stroke="none" stroke-width="0.0"/>
<line x1="245.7" y1="71" x2="269.5" y2="72.1" stroke="#111" stroke-width="1.44"/>
<path d="M279 72.5 L268.4 74.4 L268.6 69.6 Z" fill="#111" stroke="none" stroke-width="0.0"/>
<line x1="242" y1="103" x2="256.3" y2="94.7" stroke="#111" stroke-width="1.44"/>
<path d="M264.5 90 L256.6 97.3 L254.2 93.2 Z" fill="#111" stroke="none" stroke-width="0.0"/>
<line x1="243.1" y1="106.1" x2="257.7" y2="103.3" stroke="#111" stroke-width="1.44"/>
<path d="M267 101.5 L257.1 105.8 L256.2 101.1 Z" fill="#111" stroke="none" stroke-width="0.0"/>
<line x1="355.2" y1="77.3" x2="329.3" y2="71.6" stroke="#111" stroke-width="1.44"/>
<path d="M320 69.5 L330.8 69.4 L329.7 74.1 Z" fill="#111" stroke="none" stroke-width="0.0"/>
<line x1="355.1" y1="80.9" x2="332.9" y2="84.1" stroke="#111" stroke-width="1.44"/>
<path d="M323.5 85.5 L333.5 81.6 L334.2 86.4 Z" fill="#111" stroke="none" stroke-width="0.0"/>
<line x1="310.4" y1="191.4" x2="306" y2="181.6" stroke="#111" stroke-width="1.44"/>
<path d="M302 173 L308.6 181.5 L304.2 183.5 Z" fill="#111" stroke="none" stroke-width="0.0"/>
<line x1="184.9" y1="221.6" x2="141.1" y2="195.4" stroke="#111" stroke-width="1.44"/>
<path d="M133 190.5 L143.2 193.8 L140.8 198 Z" fill="#111" stroke="none" stroke-width="0.0"/>
<line x1="157.5" y1="227.4" x2="125.4" y2="199.2" stroke="#111" stroke-width="1.44"/>
<path d="M118.2 193 L127.7 198.1 L124.5 201.7 Z" fill="#111" stroke="none" stroke-width="0.0"/>
<line x1="131.1" y1="232.5" x2="110.9" y2="207" stroke="#111" stroke-width="1.44"/>
<path d="M105 199.5 L113.4 206.3 L109.6 209.2 Z" fill="#111" stroke="none" stroke-width="0.0"/>
<line x1="104.5" y1="237.5" x2="91.8" y2="208.7" stroke="#111" stroke-width="1.44"/>
<path d="M88 200 L94.4 208.6 L90 210.6 Z" fill="#111" stroke="none" stroke-width="0.0"/>
<line x1="77" y1="243" x2="66.5" y2="220.1" stroke="#111" stroke-width="1.44"/>
<path d="M62.5 211.5 L69.1 220 L64.7 222 Z" fill="#111" stroke="none" stroke-width="0.0"/>
<line x1="51.4" y1="248.1" x2="42.8" y2="220.6" stroke="#111" stroke-width="1.44"/>
<path d="M40 211.5 L45.4 220.8 L40.8 222.2 Z" fill="#111" stroke="none" stroke-width="0.0"/>
<line x1="30.1" y1="252.8" x2="27.7" y2="223" stroke="#111" stroke-width="1.44"/>
<path d="M27 213.5 L30.2 223.8 L25.4 224.2 Z" fill="#111" stroke="none" stroke-width="0.0"/>
<line x1="352.3" y1="187.4" x2="377.4" y2="147.5" stroke="#111" stroke-width="1.44"/>
<path d="M382.4 139.4 L378.9 149.6 L374.8 147 Z" fill="#111" stroke="none" stroke-width="0.0"/>
<line x1="378.9" y1="179.8" x2="394.4" y2="141.8" stroke="#111" stroke-width="1.44"/>
<path d="M398 133 L396.3 143.6 L391.8 141.8 Z" fill="#111" stroke="none" stroke-width="0.0"/>
<line x1="403.7" y1="173" x2="408.5" y2="142.9" stroke="#111" stroke-width="1.44"/>
<path d="M410 133.5 L410.7 144.2 L406 143.5 Z" fill="#111" stroke="none" stroke-width="0.0"/>
<line x1="426.8" y1="167" x2="423.5" y2="142.4" stroke="#111" stroke-width="1.44"/>
<path d="M422.3 133 L426 143.1 L421.3 143.7 Z" fill="#111" stroke="none" stroke-width="0.0"/>
<line x1="453.3" y1="162.4" x2="449.9" y2="138.9" stroke="#111" stroke-width="1.44"/>
<path d="M448.6 129.5 L452.5 139.6 L447.7 140.2 Z" fill="#111" stroke="none" stroke-width="0.0"/>
<line x1="478.1" y1="157" x2="473" y2="128" stroke="#111" stroke-width="1.44"/>
<path d="M471.4 118.6 L475.6 128.5 L470.8 129.4 Z" fill="#111" stroke="none" stroke-width="0.0"/>
<line x1="501" y1="151.8" x2="488" y2="124.1" stroke="#111" stroke-width="1.44"/>
<path d="M484 115.5 L490.6 124 L486.3 126 Z" fill="#111" stroke="none" stroke-width="0.0"/>
<line x1="242.7" y1="306.7" x2="278.3" y2="342.3" stroke="#111" stroke-width="1.44"/>
<path d="M285 349 L275.9 343.3 L279.3 339.9 Z" fill="#111" stroke="none" stroke-width="0.0"/>
<line x1="208.4" y1="318.7" x2="232.7" y2="345.9" stroke="#111" stroke-width="1.44"/>
<path d="M239 353 L230.2 346.8 L233.8 343.6 Z" fill="#111" stroke="none" stroke-width="0.0"/>
<line x1="283.7" y1="426" x2="285.4" y2="385.8" stroke="#111" stroke-width="1.44"/>
<path d="M285.8 376.3 L287.8 386.9 L283 386.7 Z" fill="#111" stroke="none" stroke-width="0.0"/>
<line x1="284.9" y1="426.1" x2="290.1" y2="396.2" stroke="#111" stroke-width="1.44"/>
<path d="M291.7 386.8 L292.3 397.6 L287.6 396.7 Z" fill="#111" stroke="none" stroke-width="0.0"/>
<line x1="316.3" y1="421.3" x2="322" y2="415.9" stroke="#111" stroke-width="1.44"/>
<path d="M329 409.5 L322.9 418.4 L319.7 414.9 Z" fill="#111" stroke="none" stroke-width="0.0"/>
<line x1="255.3" y1="435" x2="234.7" y2="395" stroke="#111" stroke-width="1.44"/>
<path d="M230.4 386.6 L237.3 394.8 L233.1 397 Z" fill="#111" stroke="none" stroke-width="0.0"/>
<line x1="231.1" y1="442.5" x2="219.9" y2="400.7" stroke="#111" stroke-width="1.44"/>
<path d="M217.5 391.5 L222.5 401 L217.9 402.3 Z" fill="#111" stroke="none" stroke-width="0.0"/>
<line x1="197.8" y1="454.7" x2="190.9" y2="444.4" stroke="#111" stroke-width="1.44"/>
<path d="M185.7 436.5 L193.5 443.9 L189.5 446.6 Z" fill="#111" stroke="none" stroke-width="0.0"/>
<line x1="161.5" y1="465.5" x2="149.3" y2="424.1" stroke="#111" stroke-width="1.44"/>
<path d="M146.6 415 L151.9 424.4 L147.3 425.7 Z" fill="#111" stroke="none" stroke-width="0.0"/>
<line x1="134.7" y1="474.3" x2="124.7" y2="429.3" stroke="#111" stroke-width="1.44"/>
<path d="M122.6 420 L127.2 429.7 L122.5 430.8 Z" fill="#111" stroke="none" stroke-width="0.0"/>
<line x1="97.8" y1="485.8" x2="102" y2="436.3" stroke="#111" stroke-width="1.44"/>
<path d="M102.8 426.8 L104.3 437.5 L99.5 437.1 Z" fill="#111" stroke="none" stroke-width="0.0"/>
<line x1="66.6" y1="496.7" x2="73.5" y2="475.1" stroke="#111" stroke-width="1.44"/>
<path d="M76.3 466 L75.4 476.7 L70.9 475.3 Z" fill="#111" stroke="none" stroke-width="0.0"/>
<line x1="36.3" y1="506.2" x2="40.4" y2="466.4" stroke="#111" stroke-width="1.44"/>
<path d="M41.4 457 L42.7 467.7 L37.9 467.2 Z" fill="#111" stroke="none" stroke-width="0.0"/>
<line x1="484" y1="365.9" x2="449.6" y2="353.9" stroke="#111" stroke-width="1.44"/>
<path d="M440.6 350.8 L451.3 352 L449.7 356.5 Z" fill="#111" stroke="none" stroke-width="0.0"/>
<line x1="522" y1="349.6" x2="494" y2="290.2" stroke="#111" stroke-width="1.44"/>
<path d="M490 281.6 L496.6 290.1 L492.3 292.1 Z" fill="#111" stroke="none" stroke-width="0.0"/>
<line x1="523.9" y1="348.9" x2="514.1" y2="305.1" stroke="#111" stroke-width="1.44"/>
<path d="M512 295.8 L516.6 305.5 L512 306.6 Z" fill="#111" stroke="none" stroke-width="0.0"/>
<line x1="559.1" y1="337.9" x2="552.1" y2="307.9" stroke="#111" stroke-width="1.44"/>
<path d="M550 298.6 L554.7 308.3 L550 309.4 Z" fill="#111" stroke="none" stroke-width="0.0"/>
<line x1="587" y1="328.8" x2="558.7" y2="274.1" stroke="#111" stroke-width="1.44"/>
<path d="M554.3 265.7 L561.3 273.9 L557 276.1 Z" fill="#111" stroke="none" stroke-width="0.0"/>
<line x1="589" y1="328" x2="579.4" y2="291.2" stroke="#111" stroke-width="1.44"/>
<path d="M577 282 L582 291.6 L577.3 292.8 Z" fill="#111" stroke="none" stroke-width="0.0"/>
<line x1="434.4" y1="380.7" x2="444.9" y2="378.9" stroke="#111" stroke-width="1.44"/>
<path d="M454.3 377.3 L444.4 381.4 L443.5 376.7 Z" fill="#111" stroke="none" stroke-width="0.0"/>
<line x1="406.9" y1="397.9" x2="439.6" y2="393.3" stroke="#111" stroke-width="1.44"/>
<path d="M449 392 L438.9 395.8 L438.3 391.1 Z" fill="#111" stroke="none" stroke-width="0.0"/>
<line x1="407" y1="399.6" x2="449.5" y2="401.6" stroke="#111" stroke-width="1.44"/>
<path d="M459 402 L448.4 403.9 L448.6 399.1 Z" fill="#111" stroke="none" stroke-width="0.0"/>
<line x1="389" y1="403.5" x2="347.5" y2="424.7" stroke="#111" stroke-width="1.44"/>
<path d="M339 429 L347.3 422.1 L349.4 426.4 Z" fill="#111" stroke="none" stroke-width="0.0"/>
<line x1="389.7" y1="404.7" x2="358.3" y2="427" stroke="#111" stroke-width="1.44"/>
<path d="M350.5 432.5 L357.7 424.5 L360.5 428.4 Z" fill="#111" stroke="none" stroke-width="0.0"/>
<line x1="675.7" y1="440.4" x2="658.4" y2="409.3" stroke="#111" stroke-width="1.44"/>
<path d="M653.8 401 L661 409 L656.8 411.3 Z" fill="#111" stroke="none" stroke-width="0.0"/>
<line x1="592.2" y1="449.1" x2="627.8" y2="439.5" stroke="#111" stroke-width="1.44"/>
<path d="M637 437 L627.5 442.1 L626.2 437.4 Z" fill="#111" stroke="none" stroke-width="0.0"/>
<line x1="573.8" y1="454" x2="539.5" y2="462.9" stroke="#111" stroke-width="1.44"/>
<path d="M530.3 465.3 L539.9 460.3 L541.1 465 Z" fill="#111" stroke="none" stroke-width="0.0"/>
<line x1="591.2" y1="478" x2="627.3" y2="468.6" stroke="#111" stroke-width="1.44"/>
<path d="M636.5 466.2 L626.9 471.2 L625.7 466.5 Z" fill="#111" stroke="none" stroke-width="0.0"/>
<line x1="572.8" y1="482.8" x2="531.6" y2="493.4" stroke="#111" stroke-width="1.44"/>
<path d="M522.4 495.8 L532 490.8 L533.2 495.5 Z" fill="#111" stroke="none" stroke-width="0.0"/>
<line x1="593.3" y1="504.4" x2="627.4" y2="490.8" stroke="#111" stroke-width="1.44"/>
<path d="M636.2 487.3 L627.3 493.4 L625.6 489 Z" fill="#111" stroke="none" stroke-width="0.0"/>
<line x1="593.8" y1="506.2" x2="635.7" y2="498.4" stroke="#111" stroke-width="1.44"/>
<path d="M645 496.7 L635.1 501 L634.2 496.3 Z" fill="#111" stroke="none" stroke-width="0.0"/>
<line x1="575.2" y1="509.6" x2="528.6" y2="518" stroke="#111" stroke-width="1.44"/>
<path d="M519.3 519.7 L529.2 515.5 L530.1 520.2 Z" fill="#111" stroke="none" stroke-width="0.0"/>
<line x1="575.5" y1="511" x2="539.3" y2="523.5" stroke="#111" stroke-width="1.44"/>
<path d="M530.3 526.6 L539.4 520.9 L541 525.4 Z" fill="#111" stroke="none" stroke-width="0.0"/>
<line x1="485.4" y1="502" x2="486.9" y2="459.2" stroke="#111" stroke-width="1.44"/>
<path d="M487.3 449.7 L489.3 460.3 L484.5 460.1 Z" fill="#111" stroke="none" stroke-width="0.0"/>
<line x1="464.2" y1="509" x2="466.8" y2="462.6" stroke="#111" stroke-width="1.44"/>
<path d="M467.4 453.1 L469.2 463.7 L464.4 463.4 Z" fill="#111" stroke="none" stroke-width="0.0"/>
<line x1="427.7" y1="519.2" x2="425.9" y2="507.1" stroke="#111" stroke-width="1.44"/>
<path d="M424.6 497.7 L428.5 507.8 L423.7 508.4 Z" fill="#111" stroke="none" stroke-width="0.0"/>
<line x1="402.4" y1="527.4" x2="392.2" y2="491.4" stroke="#111" stroke-width="1.44"/>
<path d="M389.6 482.3 L394.8 491.7 L390.2 493.1 Z" fill="#111" stroke="none" stroke-width="0.0"/>
<line x1="379.1" y1="534.6" x2="373.8" y2="499.2" stroke="#111" stroke-width="1.44"/>
<path d="M372.4 489.8 L376.3 499.8 L371.6 500.5 Z" fill="#111" stroke="none" stroke-width="0.0"/>
<line x1="351.5" y1="545" x2="355.7" y2="503.3" stroke="#111" stroke-width="1.44"/>
<path d="M356.7 493.8 L358 504.5 L353.2 504 Z" fill="#111" stroke="none" stroke-width="0.0"/>
<line x1="320" y1="557.1" x2="324.2" y2="542.8" stroke="#111" stroke-width="1.44"/>
<path d="M326.9 533.7 L326.2 544.4 L321.6 543.1 Z" fill="#111" stroke="none" stroke-width="0.0"/>
<line x1="278" y1="569.3" x2="288.2" y2="534.2" stroke="#111" stroke-width="1.44"/>
<path d="M290.9 525.1 L290.3 535.9 L285.6 534.5 Z" fill="#111" stroke="none" stroke-width="0.0"/>
<line x1="572.4" y1="602.3" x2="579" y2="635.3" stroke="#111" stroke-width="1.44"/>
<path d="M580.9 644.6 L576.5 634.8 L581.2 633.8 Z" fill="#111" stroke="none" stroke-width="0.0"/>
<line x1="543.7" y1="610.7" x2="541.5" y2="628.7" stroke="#111" stroke-width="1.44"/>
<path d="M540.3 638.1 L539.2 627.4 L544 628 Z" fill="#111" stroke="none" stroke-width="0.0"/>
<line x1="518.2" y1="619.4" x2="515.2" y2="668.5" stroke="#111" stroke-width="1.44"/>
<path d="M514.6 678 L512.9 667.4 L517.6 667.7 Z" fill="#111" stroke="none" stroke-width="0.0"/>
<line x1="496.5" y1="625.7" x2="499.7" y2="673.6" stroke="#111" stroke-width="1.44"/>
<path d="M500.4 683.1 L497.3 672.8 L502.1 672.5 Z" fill="#111" stroke="none" stroke-width="0.0"/>
<line x1="473.5" y1="633.1" x2="477.9" y2="677.5" stroke="#111" stroke-width="1.44"/>
<path d="M478.8 687 L475.4 676.8 L480.2 676.3 Z" fill="#111" stroke="none" stroke-width="0.0"/>
<line x1="449.5" y1="640.8" x2="448.9" y2="648.2" stroke="#111" stroke-width="1.44"/>
<path d="M448 657.7 L446.6 647 L451.3 647.5 Z" fill="#111" stroke="none" stroke-width="0.0"/>
<line x1="410.9" y1="653.7" x2="407.3" y2="698.2" stroke="#111" stroke-width="1.44"/>
<path d="M406.6 707.7 L405 697 L409.8 697.4 Z" fill="#111" stroke="none" stroke-width="0.0"/>
<line x1="384.5" y1="661.8" x2="389.8" y2="705.7" stroke="#111" stroke-width="1.44"/>
<path d="M390.9 715.1 L387.3 705 L392 704.4 Z" fill="#111" stroke="none" stroke-width="0.0"/>
<line x1="358.6" y1="669.5" x2="358.1" y2="684.8" stroke="#111" stroke-width="1.44"/>
<path d="M357.7 694.3 L355.7 683.7 L360.5 683.9 Z" fill="#111" stroke="none" stroke-width="0.0"/>
<line x1="333.3" y1="676.5" x2="319.3" y2="740.5" stroke="#111" stroke-width="1.44"/>
<path d="M317.3 749.8 L317.2 739 L321.9 740.1 Z" fill="#111" stroke="none" stroke-width="0.0"/>
<line x1="334.4" y1="676.7" x2="328.2" y2="745.9" stroke="#111" stroke-width="1.44"/>
<path d="M327.3 755.4 L325.9 744.7 L330.6 745.2 Z" fill="#111" stroke="none" stroke-width="0.0"/>
<line x1="307.7" y1="686.5" x2="303.8" y2="724.8" stroke="#111" stroke-width="1.44"/>
<path d="M302.9 734.3 L301.6 723.6 L306.3 724.1 Z" fill="#111" stroke="none" stroke-width="0.0"/>
<line x1="219.8" y1="751.1" x2="235.2" y2="743" stroke="#111" stroke-width="1.44"/>
<path d="M243.6 738.6 L235.4 745.6 L233.2 741.4 Z" fill="#111" stroke="none" stroke-width="0.0"/>
<line x1="266" y1="777.2" x2="289.1" y2="775.8" stroke="#111" stroke-width="1.44"/>
<path d="M298.6 775.2 L288.3 778.3 L288 773.5 Z" fill="#111" stroke="none" stroke-width="0.0"/>
<line x1="395.2" y1="800.1" x2="404.4" y2="816.7" stroke="#111" stroke-width="1.44"/>
<path d="M409 825 L401.8 817 L406 814.7 Z" fill="#111" stroke="none" stroke-width="0.0"/>
<line x1="589.7" y1="845.9" x2="590.4" y2="823.1" stroke="#111" stroke-width="1.44"/>
<path d="M590.7 813.6 L592.8 824.2 L588 824 Z" fill="#111" stroke="none" stroke-width="0.0"/>
<line x1="566.6" y1="853.2" x2="566" y2="850.7" stroke="#111" stroke-width="1.44"/>
<path d="M563.9 841.4 L568.6 851.1 L563.9 852.2 Z" fill="#111" stroke="none" stroke-width="0.0"/>
<line x1="543" y1="860.1" x2="532.9" y2="832.5" stroke="#111" stroke-width="1.44"/>
<path d="M529.6 823.6 L535.5 832.6 L531 834.3 Z" fill="#111" stroke="none" stroke-width="0.0"/>
<line x1="521.9" y1="867.8" x2="520.4" y2="837.4" stroke="#111" stroke-width="1.44"/>
<path d="M520 827.9 L522.9 838.3 L518.1 838.5 Z" fill="#111" stroke="none" stroke-width="0.0"/>
<line x1="501.5" y1="874.3" x2="504.1" y2="846.3" stroke="#111" stroke-width="1.44"/>
<path d="M505 836.8 L506.4 847.5 L501.6 847 Z" fill="#111" stroke="none" stroke-width="0.0"/>
<line x1="454.1" y1="889.1" x2="454.6" y2="873.1" stroke="#111" stroke-width="1.44"/>
<path d="M455 863.6 L457 874.2 L452.2 874 Z" fill="#111" stroke="none" stroke-width="0.0"/>
<line x1="424.2" y1="898.9" x2="425" y2="878.4" stroke="#111" stroke-width="1.44"/>
<path d="M425.4 868.9 L427.4 879.5 L422.6 879.3 Z" fill="#111" stroke="none" stroke-width="0.0"/>
<line x1="395.3" y1="908.6" x2="400.4" y2="890.6" stroke="#111" stroke-width="1.44"/>
<path d="M402.9 881.4 L402.4 892.2 L397.8 890.9 Z" fill="#111" stroke="none" stroke-width="0.0"/>
<ellipse cx="235" cy="41.7" rx="11.2" ry="11.2" fill="#fff" stroke="#111" stroke-width="1.72"/>
<text x="235" y="47.5" font-size="17.4" text-anchor="middle" font-weight="bold" textLength="14.8" lengthAdjust="spacingAndGlyphs">36</text>
<ellipse cx="235" cy="70.5" rx="10.7" ry="10.7" fill="#fff" stroke="#111" stroke-width="1.72"/>
<text x="235" y="76" font-size="16.4" text-anchor="middle" font-weight="bold" textLength="14.0" lengthAdjust="spacingAndGlyphs">35</text>
<ellipse cx="233.3" cy="108" rx="10" ry="10" fill="#fff" stroke="#111" stroke-width="1.72"/>
<text x="233.3" y="112.8" font-size="14.4" text-anchor="middle" font-weight="bold" textLength="12.2" lengthAdjust="spacingAndGlyphs">14</text>
<ellipse cx="365" cy="79.5" rx="10" ry="10" fill="#fff" stroke="#111" stroke-width="1.72"/>
<text x="365" y="84.3" font-size="14.4" text-anchor="middle" font-weight="bold" textLength="12.2" lengthAdjust="spacingAndGlyphs">16</text>
<ellipse cx="314.5" cy="200.3" rx="9.8" ry="9.8" fill="#fff" stroke="#111" stroke-width="1.72"/>
<text x="314.5" y="205.1" font-size="14.4" text-anchor="middle" font-weight="bold" textLength="12.2" lengthAdjust="spacingAndGlyphs">31</text>
<ellipse cx="193" cy="226.5" rx="9.5" ry="9.5" fill="#fff" stroke="#111" stroke-width="1.72"/>
<text x="193" y="231.3" font-size="14.4" text-anchor="middle" font-weight="bold" textLength="12.2" lengthAdjust="spacingAndGlyphs">34</text>
<ellipse cx="164.7" cy="233.6" rx="9.5" ry="9.5" fill="#fff" stroke="#111" stroke-width="1.72"/>
<text x="164.7" y="238.4" font-size="14.4" text-anchor="middle" font-weight="bold" textLength="12.2" lengthAdjust="spacingAndGlyphs">26</text>
<ellipse cx="137" cy="240" rx="9.5" ry="9.5" fill="#fff" stroke="#111" stroke-width="1.72"/>
<text x="137" y="244.8" font-size="14.4" text-anchor="middle" font-weight="bold" textLength="12.2" lengthAdjust="spacingAndGlyphs">30</text>
<ellipse cx="108.3" cy="246.2" rx="9.5" ry="9.5" fill="#fff" stroke="#111" stroke-width="1.72"/>
<text x="108.3" y="251" font-size="14.4" text-anchor="middle" font-weight="bold" textLength="12.2" lengthAdjust="spacingAndGlyphs">29</text>
<ellipse cx="81" cy="251.6" rx="9.5" ry="9.5" fill="#fff" stroke="#111" stroke-width="1.72"/>
<text x="81" y="256.4" font-size="14.4" text-anchor="middle" font-weight="bold" textLength="12.2" lengthAdjust="spacingAndGlyphs">28</text>
<ellipse cx="54.2" cy="257.2" rx="9.5" ry="9.5" fill="#fff" stroke="#111" stroke-width="1.72"/>
<text x="54.2" y="262" font-size="14.4" text-anchor="middle" font-weight="bold" textLength="12.2" lengthAdjust="spacingAndGlyphs">27</text>
<ellipse cx="30.8" cy="262.3" rx="9.5" ry="9.5" fill="#fff" stroke="#111" stroke-width="1.72"/>
<text x="30.8" y="267.1" font-size="14.4" text-anchor="middle" font-weight="bold" textLength="12.2" lengthAdjust="spacingAndGlyphs">26</text>
<ellipse cx="347.3" cy="195.5" rx="9.5" ry="9.5" fill="#fff" stroke="#111" stroke-width="1.72"/>
<text x="347.3" y="200.3" font-size="14.4" text-anchor="middle" font-weight="bold" textLength="12.2" lengthAdjust="spacingAndGlyphs">34</text>
<ellipse cx="375.3" cy="188.6" rx="9.5" ry="9.5" fill="#fff" stroke="#111" stroke-width="1.72"/>
<text x="375.3" y="193.4" font-size="14.4" text-anchor="middle" font-weight="bold" textLength="12.2" lengthAdjust="spacingAndGlyphs">26</text>
<ellipse cx="402.2" cy="182.4" rx="9.5" ry="9.5" fill="#fff" stroke="#111" stroke-width="1.72"/>
<text x="402.2" y="187.2" font-size="14.4" text-anchor="middle" font-weight="bold" textLength="12.2" lengthAdjust="spacingAndGlyphs">30</text>
<ellipse cx="428" cy="176.4" rx="9.5" ry="9.5" fill="#fff" stroke="#111" stroke-width="1.72"/>
<text x="428" y="181.2" font-size="14.4" text-anchor="middle" font-weight="bold" textLength="12.2" lengthAdjust="spacingAndGlyphs">29</text>
<ellipse cx="454.6" cy="171.8" rx="9.5" ry="9.5" fill="#fff" stroke="#111" stroke-width="1.72"/>
<text x="454.6" y="176.6" font-size="14.4" text-anchor="middle" font-weight="bold" textLength="12.2" lengthAdjust="spacingAndGlyphs">32</text>
<ellipse cx="479.7" cy="166.4" rx="9.5" ry="9.5" fill="#fff" stroke="#111" stroke-width="1.72"/>
<text x="479.7" y="171.2" font-size="14.4" text-anchor="middle" font-weight="bold" textLength="12.2" lengthAdjust="spacingAndGlyphs">27</text>
<ellipse cx="505" cy="160.4" rx="9.5" ry="9.5" fill="#fff" stroke="#111" stroke-width="1.72"/>
<text x="505" y="165.2" font-size="14.4" text-anchor="middle" font-weight="bold" textLength="12.2" lengthAdjust="spacingAndGlyphs">26</text>
<ellipse cx="236" cy="300" rx="9.5" ry="9.5" fill="#fff" stroke="#111" stroke-width="1.72"/>
<text x="236" y="304.8" font-size="14.4" text-anchor="middle" font-weight="bold" textLength="12.2" lengthAdjust="spacingAndGlyphs">39</text>
<ellipse cx="202.1" cy="311.6" rx="9.5" ry="9.5" fill="#fff" stroke="#111" stroke-width="1.72"/>
<text x="202.1" y="316.4" font-size="14.4" text-anchor="middle" font-weight="bold" textLength="15" lengthAdjust="spacingAndGlyphs">11R</text>
<ellipse cx="283.3" cy="435.5" rx="9.5" ry="9.5" fill="#fff" stroke="#111" stroke-width="1.72"/>
<text x="283.3" y="440.3" font-size="14.4" text-anchor="middle" font-weight="bold" textLength="12.2" lengthAdjust="spacingAndGlyphs">23</text>
<ellipse cx="309.3" cy="427.7" rx="9.5" ry="9.5" fill="#fff" stroke="#111" stroke-width="1.72"/>
<text x="309.3" y="432.5" font-size="14.4" text-anchor="middle" font-weight="bold" textLength="12.2" lengthAdjust="spacingAndGlyphs">12</text>
<ellipse cx="259.6" cy="443.4" rx="9.5" ry="9.5" fill="#fff" stroke="#111" stroke-width="1.72"/>
<text x="259.6" y="448.2" font-size="14.4" text-anchor="middle" font-weight="bold" textLength="12.2" lengthAdjust="spacingAndGlyphs">19</text>
<ellipse cx="233.5" cy="451.7" rx="9.5" ry="9.5" fill="#fff" stroke="#111" stroke-width="1.72"/>
<text x="233.5" y="456.5" font-size="14.4" text-anchor="middle" font-weight="bold" textLength="12.2" lengthAdjust="spacingAndGlyphs">34</text>
<ellipse cx="203" cy="462.6" rx="9.5" ry="9.5" fill="#fff" stroke="#111" stroke-width="1.72"/>
<text x="203" y="467.4" font-size="14.4" text-anchor="middle" font-weight="bold" textLength="12.2" lengthAdjust="spacingAndGlyphs">10</text>
<ellipse cx="164.2" cy="474.6" rx="9.5" ry="9.5" fill="#fff" stroke="#111" stroke-width="1.72"/>
<text x="164.2" y="479.4" font-size="14.4" text-anchor="middle" font-weight="bold" textLength="12.2" lengthAdjust="spacingAndGlyphs">34</text>
<ellipse cx="136.8" cy="483.6" rx="9.5" ry="9.5" fill="#fff" stroke="#111" stroke-width="1.72"/>
<text x="136.8" y="488.4" font-size="14.4" text-anchor="middle" font-weight="bold" textLength="12.2" lengthAdjust="spacingAndGlyphs">17</text>
<ellipse cx="97" cy="495.3" rx="9.5" ry="9.5" fill="#fff" stroke="#111" stroke-width="1.72"/>
<text x="97" y="500.1" font-size="14.4" text-anchor="middle" font-weight="bold" textLength="6.2" lengthAdjust="spacingAndGlyphs">3</text>
<ellipse cx="63.8" cy="505.8" rx="9.5" ry="9.5" fill="#fff" stroke="#111" stroke-width="1.72"/>
<text x="63.8" y="510.6" font-size="14.4" text-anchor="middle" font-weight="bold" textLength="6.2" lengthAdjust="spacingAndGlyphs">2</text>
<ellipse cx="35.3" cy="515.6" rx="9.5" ry="9.5" fill="#fff" stroke="#111" stroke-width="1.72"/>
<text x="35.3" y="520.4" font-size="14.4" text-anchor="middle" font-weight="bold" textLength="6.2" lengthAdjust="spacingAndGlyphs">1</text>
<ellipse cx="493" cy="369" rx="9.5" ry="9.5" fill="#fff" stroke="#111" stroke-width="1.72"/>
<text x="493" y="373.8" font-size="14.4" text-anchor="middle" font-weight="bold" textLength="12.2" lengthAdjust="spacingAndGlyphs">13</text>
<ellipse cx="526" cy="358.2" rx="9.5" ry="9.5" fill="#fff" stroke="#111" stroke-width="1.72"/>
<text x="526" y="363" font-size="14.4" text-anchor="middle" font-weight="bold" textLength="12.2" lengthAdjust="spacingAndGlyphs">14</text>
<ellipse cx="561.2" cy="347.2" rx="9.5" ry="9.5" fill="#fff" stroke="#111" stroke-width="1.72"/>
<text x="561.2" y="352" font-size="14.4" text-anchor="middle" font-weight="bold" textLength="12.2" lengthAdjust="spacingAndGlyphs">15</text>
<ellipse cx="591.4" cy="337.2" rx="9.5" ry="9.5" fill="#fff" stroke="#111" stroke-width="1.72"/>
<text x="591.4" y="342" font-size="14.4" text-anchor="middle" font-weight="bold" textLength="12.2" lengthAdjust="spacingAndGlyphs">16</text>
<ellipse cx="425" cy="382.3" rx="9.5" ry="9.5" fill="#fff" stroke="#111" stroke-width="1.72"/>
<text x="425" y="387.1" font-size="14.4" text-anchor="middle" font-weight="bold" textLength="12.2" lengthAdjust="spacingAndGlyphs">12</text>
<ellipse cx="397.5" cy="399.2" rx="9.5" ry="9.5" fill="#fff" stroke="#111" stroke-width="1.72"/>
<text x="397.5" y="404" font-size="14.4" text-anchor="middle" font-weight="bold" textLength="6.2" lengthAdjust="spacingAndGlyphs">6</text>
<ellipse cx="680.3" cy="448.7" rx="9.5" ry="9.5" fill="#fff" stroke="#111" stroke-width="1.72"/>
<text x="680.3" y="453.5" font-size="14.4" text-anchor="middle" font-weight="bold" textLength="6.2" lengthAdjust="spacingAndGlyphs">9</text>
<ellipse cx="583" cy="451.6" rx="9.5" ry="9.5" fill="#fff" stroke="#111" stroke-width="1.72"/>
<text x="583" y="456.4" font-size="14.4" text-anchor="middle" font-weight="bold" textLength="6.2" lengthAdjust="spacingAndGlyphs">8</text>
<ellipse cx="582" cy="480.4" rx="9.5" ry="9.5" fill="#fff" stroke="#111" stroke-width="1.72"/>
<text x="582" y="485.2" font-size="14.4" text-anchor="middle" font-weight="bold" textLength="6.2" lengthAdjust="spacingAndGlyphs">7</text>
<ellipse cx="584.5" cy="507.9" rx="9.5" ry="9.5" fill="#fff" stroke="#111" stroke-width="1.72"/>
<text x="584.5" y="512.7" font-size="14.4" text-anchor="middle" font-weight="bold" textLength="6.2" lengthAdjust="spacingAndGlyphs">6</text>
<ellipse cx="485" cy="511.5" rx="9.5" ry="9.5" fill="#fff" stroke="#111" stroke-width="1.72"/>
<text x="485" y="516.3" font-size="14.4" text-anchor="middle" font-weight="bold" textLength="12.2" lengthAdjust="spacingAndGlyphs">19</text>
<ellipse cx="463.6" cy="518.5" rx="9.5" ry="9.5" fill="#fff" stroke="#111" stroke-width="1.72"/>
<text x="463.6" y="523.3" font-size="14.4" text-anchor="middle" font-weight="bold" textLength="6.2" lengthAdjust="spacingAndGlyphs">4</text>
<ellipse cx="429" cy="528.6" rx="9.5" ry="9.5" fill="#fff" stroke="#111" stroke-width="1.72"/>
<text x="429" y="533.4" font-size="14.4" text-anchor="middle" font-weight="bold" textLength="6.2" lengthAdjust="spacingAndGlyphs">5</text>
<ellipse cx="405" cy="536.5" rx="9.5" ry="9.5" fill="#fff" stroke="#111" stroke-width="1.72"/>
<text x="405" y="541.3" font-size="14.4" text-anchor="middle" font-weight="bold" textLength="6.2" lengthAdjust="spacingAndGlyphs">4</text>
<ellipse cx="380.5" cy="544" rx="9.5" ry="9.5" fill="#fff" stroke="#111" stroke-width="1.72"/>
<text x="380.5" y="548.8" font-size="14.4" text-anchor="middle" font-weight="bold" textLength="12.2" lengthAdjust="spacingAndGlyphs">17</text>
<ellipse cx="350.5" cy="554.5" rx="9.5" ry="9.5" fill="#fff" stroke="#111" stroke-width="1.72"/>
<text x="350.5" y="559.3" font-size="14.4" text-anchor="middle" font-weight="bold" textLength="6.2" lengthAdjust="spacingAndGlyphs">3</text>
<ellipse cx="317.3" cy="566.2" rx="9.5" ry="9.5" fill="#fff" stroke="#111" stroke-width="1.72"/>
<text x="317.3" y="571" font-size="14.4" text-anchor="middle" font-weight="bold" textLength="6.2" lengthAdjust="spacingAndGlyphs">2</text>
<ellipse cx="275.3" cy="578.4" rx="9.5" ry="9.5" fill="#fff" stroke="#111" stroke-width="1.72"/>
<text x="275.3" y="583.2" font-size="14.4" text-anchor="middle" font-weight="bold" textLength="6.2" lengthAdjust="spacingAndGlyphs">1</text>
<ellipse cx="570.5" cy="593" rx="9.5" ry="9.5" fill="#fff" stroke="#111" stroke-width="1.72"/>
<text x="570.5" y="597.8" font-size="14.4" text-anchor="middle" font-weight="bold" textLength="6.2" lengthAdjust="spacingAndGlyphs">1</text>
<ellipse cx="544.9" cy="601.3" rx="9.5" ry="9.5" fill="#fff" stroke="#111" stroke-width="1.72"/>
<text x="544.9" y="606.1" font-size="14.4" text-anchor="middle" font-weight="bold" textLength="6.2" lengthAdjust="spacingAndGlyphs">2</text>
<ellipse cx="518.8" cy="609.9" rx="9.5" ry="9.5" fill="#fff" stroke="#111" stroke-width="1.72"/>
<text x="518.8" y="614.7" font-size="14.4" text-anchor="middle" font-weight="bold" textLength="6.2" lengthAdjust="spacingAndGlyphs">3</text>
<ellipse cx="495.8" cy="616.2" rx="9.5" ry="9.5" fill="#fff" stroke="#111" stroke-width="1.72"/>
<text x="495.8" y="621" font-size="14.4" text-anchor="middle" font-weight="bold" textLength="12.2" lengthAdjust="spacingAndGlyphs">17</text>
<ellipse cx="472.6" cy="623.6" rx="9.5" ry="9.5" fill="#fff" stroke="#111" stroke-width="1.72"/>
<text x="472.6" y="628.4" font-size="14.4" text-anchor="middle" font-weight="bold" textLength="12.2" lengthAdjust="spacingAndGlyphs">34</text>
<ellipse cx="450.4" cy="631.3" rx="9.5" ry="9.5" fill="#fff" stroke="#111" stroke-width="1.72"/>
<text x="450.4" y="636.1" font-size="14.4" text-anchor="middle" font-weight="bold" textLength="12.2" lengthAdjust="spacingAndGlyphs">10</text>
<ellipse cx="411.6" cy="644.2" rx="9.5" ry="9.5" fill="#fff" stroke="#111" stroke-width="1.72"/>
<text x="411.6" y="649" font-size="14.4" text-anchor="middle" font-weight="bold" textLength="12.2" lengthAdjust="spacingAndGlyphs">34</text>
<ellipse cx="383.4" cy="652.4" rx="9.5" ry="9.5" fill="#fff" stroke="#111" stroke-width="1.72"/>
<text x="383.4" y="657.2" font-size="14.4" text-anchor="middle" font-weight="bold" textLength="12.2" lengthAdjust="spacingAndGlyphs">19</text>
<ellipse cx="359" cy="660" rx="9.5" ry="9.5" fill="#fff" stroke="#111" stroke-width="1.72"/>
<text x="359" y="664.8" font-size="14.4" text-anchor="middle" font-weight="bold" textLength="15" lengthAdjust="spacingAndGlyphs">11L</text>
<ellipse cx="335.3" cy="667.2" rx="9.5" ry="9.5" fill="#fff" stroke="#111" stroke-width="1.72"/>
<text x="335.3" y="672" font-size="14.4" text-anchor="middle" font-weight="bold" textLength="12.2" lengthAdjust="spacingAndGlyphs">23</text>
<ellipse cx="308.6" cy="677" rx="9.5" ry="9.5" fill="#fff" stroke="#111" stroke-width="1.72"/>
<text x="308.6" y="681.8" font-size="14.4" text-anchor="middle" font-weight="bold" textLength="12.2" lengthAdjust="spacingAndGlyphs">39</text>
<ellipse cx="211" cy="755.8" rx="10" ry="10" fill="#fff" stroke="#111" stroke-width="1.72"/>
<text x="211" y="761.6" font-size="17.3" text-anchor="middle" font-weight="bold" textLength="14" lengthAdjust="spacingAndGlyphs">22</text>
<ellipse cx="257" cy="777.8" rx="9" ry="9" fill="#fff" stroke="#111" stroke-width="1.72"/>
<text x="257" y="781.8" font-size="11.9" text-anchor="middle" font-weight="bold" textLength="11.8" lengthAdjust="spacingAndGlyphs">45</text>
<ellipse cx="390.3" cy="791.4" rx="10" ry="10" fill="#fff" stroke="#111" stroke-width="1.72"/>
<text x="390.3" y="797.2" font-size="17.3" text-anchor="middle" font-weight="bold" textLength="14" lengthAdjust="spacingAndGlyphs">22</text>
<ellipse cx="589.4" cy="855.4" rx="9.5" ry="9.5" fill="#fff" stroke="#111" stroke-width="1.72"/>
<text x="589.4" y="860.2" font-size="14.4" text-anchor="middle" font-weight="bold" textLength="6.2" lengthAdjust="spacingAndGlyphs">1</text>
<ellipse cx="568.7" cy="862.5" rx="9.5" ry="9.5" fill="#fff" stroke="#111" stroke-width="1.72"/>
<text x="568.7" y="867.3" font-size="14.4" text-anchor="middle" font-weight="bold" textLength="6.2" lengthAdjust="spacingAndGlyphs">2</text>
<ellipse cx="546.3" cy="869" rx="9.5" ry="9.5" fill="#fff" stroke="#111" stroke-width="1.72"/>
<text x="546.3" y="873.8" font-size="14.4" text-anchor="middle" font-weight="bold" textLength="6.2" lengthAdjust="spacingAndGlyphs">3</text>
<ellipse cx="522.3" cy="877.3" rx="9.5" ry="9.5" fill="#fff" stroke="#111" stroke-width="1.72"/>
<text x="522.3" y="882.1" font-size="14.4" text-anchor="middle" font-weight="bold" textLength="12.2" lengthAdjust="spacingAndGlyphs">17</text>
<ellipse cx="500.6" cy="883.8" rx="9.5" ry="9.5" fill="#fff" stroke="#111" stroke-width="1.72"/>
<text x="500.6" y="888.6" font-size="14.4" text-anchor="middle" font-weight="bold" textLength="6.2" lengthAdjust="spacingAndGlyphs">4</text>
<ellipse cx="453.7" cy="898.6" rx="9.5" ry="9.5" fill="#fff" stroke="#111" stroke-width="1.72"/>
<text x="453.7" y="903.4" font-size="14.4" text-anchor="middle" font-weight="bold" textLength="6.2" lengthAdjust="spacingAndGlyphs">5</text>
<ellipse cx="423.8" cy="908.4" rx="9.5" ry="9.5" fill="#fff" stroke="#111" stroke-width="1.72"/>
<text x="423.8" y="913.2" font-size="14.4" text-anchor="middle" font-weight="bold" textLength="6.2" lengthAdjust="spacingAndGlyphs">4</text>
<ellipse cx="392.8" cy="917.8" rx="9.5" ry="9.5" fill="#fff" stroke="#111" stroke-width="1.72"/>
<text x="392.8" y="922.6" font-size="14.4" text-anchor="middle" font-weight="bold" textLength="12.2" lengthAdjust="spacingAndGlyphs">19</text>
</g>
</svg>
</body></html>
